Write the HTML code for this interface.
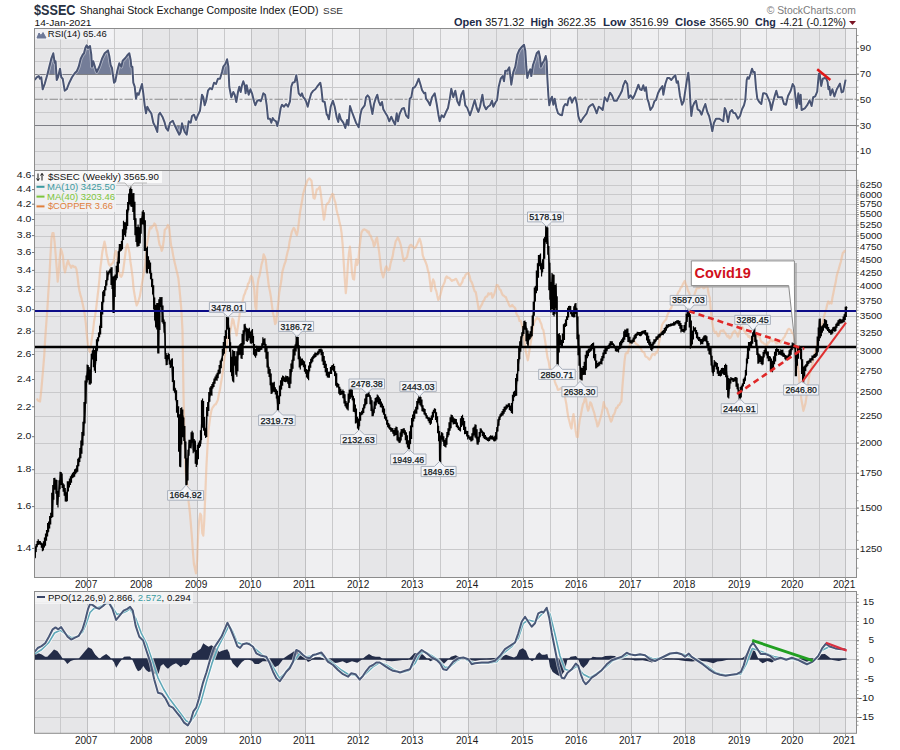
<!DOCTYPE html><html><head><meta charset="utf-8"><style>html,body{margin:0;padding:0;background:#fff;width:900px;height:750px;overflow:hidden;position:relative}</style></head><body><svg width="900" height="750" viewBox="0 0 900 750" style="position:absolute;left:0;top:0">
<defs><clipPath id="cRsi"><rect x="34.5" y="28.5" width="822.0" height="142.0"/></clipPath>
<clipPath id="cPr"><rect x="34.5" y="170.5" width="822.0" height="407.0"/></clipPath>
<clipPath id="cPp"><rect x="34.5" y="591.5" width="822.0" height="141.8"/></clipPath>
<clipPath id="cAbove70"><rect x="0" y="0" width="900" height="74.2"/></clipPath>
<clipPath id="cBelow30"><rect x="0" y="125.8" width="900" height="200"/></clipPath>
</defs>
<rect x="34.5" y="28.5" width="53.0" height="142.0" fill="#e6e6e8"/>
<rect x="87.5" y="28.5" width="55.0" height="142.0" fill="#efeff1"/>
<rect x="142.5" y="28.5" width="55.0" height="142.0" fill="#e6e6e8"/>
<rect x="197.5" y="28.5" width="54.0" height="142.0" fill="#efeff1"/>
<rect x="251.5" y="28.5" width="54.0" height="142.0" fill="#e6e6e8"/>
<rect x="305.5" y="28.5" width="54.0" height="142.0" fill="#efeff1"/>
<rect x="359.5" y="28.5" width="54.0" height="142.0" fill="#e6e6e8"/>
<rect x="413.5" y="28.5" width="55.0" height="142.0" fill="#efeff1"/>
<rect x="468.5" y="28.5" width="55.0" height="142.0" fill="#e6e6e8"/>
<rect x="523.5" y="28.5" width="54.0" height="142.0" fill="#efeff1"/>
<rect x="577.5" y="28.5" width="54.0" height="142.0" fill="#e6e6e8"/>
<rect x="631.5" y="28.5" width="54.0" height="142.0" fill="#efeff1"/>
<rect x="685.5" y="28.5" width="55.0" height="142.0" fill="#e6e6e8"/>
<rect x="740.5" y="28.5" width="53.0" height="142.0" fill="#efeff1"/>
<rect x="793.5" y="28.5" width="52.0" height="142.0" fill="#e6e6e8"/>
<rect x="845.5" y="28.5" width="11.0" height="142.0" fill="#efeff1"/>
<g>
<line x1="34.5" y1="48.5" x2="856.5" y2="48.5" stroke="#c9c9cb" stroke-width="1"/>
<line x1="34.5" y1="61.5" x2="856.5" y2="61.5" stroke="#c9c9cb" stroke-width="1"/>
<line x1="34.5" y1="87.5" x2="856.5" y2="87.5" stroke="#c9c9cb" stroke-width="1"/>
<line x1="34.5" y1="112.5" x2="856.5" y2="112.5" stroke="#c9c9cb" stroke-width="1"/>
<line x1="34.5" y1="138.5" x2="856.5" y2="138.5" stroke="#c9c9cb" stroke-width="1"/>
<line x1="34.5" y1="151.5" x2="856.5" y2="151.5" stroke="#c9c9cb" stroke-width="1"/>
<line x1="34.5" y1="164.5" x2="856.5" y2="164.5" stroke="#c9c9cb" stroke-width="1"/>
</g>
<line x1="87.5" y1="28.5" x2="87.5" y2="170.5" stroke="#c0c0c2" stroke-width="1"/>
<line x1="142.5" y1="28.5" x2="142.5" y2="170.5" stroke="#c0c0c2" stroke-width="1"/>
<line x1="197.5" y1="28.5" x2="197.5" y2="170.5" stroke="#c0c0c2" stroke-width="1"/>
<line x1="251.5" y1="28.5" x2="251.5" y2="170.5" stroke="#c0c0c2" stroke-width="1"/>
<line x1="305.5" y1="28.5" x2="305.5" y2="170.5" stroke="#c0c0c2" stroke-width="1"/>
<line x1="359.5" y1="28.5" x2="359.5" y2="170.5" stroke="#c0c0c2" stroke-width="1"/>
<line x1="413.5" y1="28.5" x2="413.5" y2="170.5" stroke="#c0c0c2" stroke-width="1"/>
<line x1="468.5" y1="28.5" x2="468.5" y2="170.5" stroke="#c0c0c2" stroke-width="1"/>
<line x1="523.5" y1="28.5" x2="523.5" y2="170.5" stroke="#c0c0c2" stroke-width="1"/>
<line x1="577.5" y1="28.5" x2="577.5" y2="170.5" stroke="#c0c0c2" stroke-width="1"/>
<line x1="631.5" y1="28.5" x2="631.5" y2="170.5" stroke="#c0c0c2" stroke-width="1"/>
<line x1="685.5" y1="28.5" x2="685.5" y2="170.5" stroke="#c0c0c2" stroke-width="1"/>
<line x1="740.5" y1="28.5" x2="740.5" y2="170.5" stroke="#c0c0c2" stroke-width="1"/>
<line x1="793.5" y1="28.5" x2="793.5" y2="170.5" stroke="#c0c0c2" stroke-width="1"/>
<line x1="845.5" y1="28.5" x2="845.5" y2="170.5" stroke="#c0c0c2" stroke-width="1"/>
<line x1="60.5" y1="28.5" x2="60.5" y2="170.5" stroke="#c9c9cb" stroke-width="1"/>
<line x1="114.5" y1="28.5" x2="114.5" y2="170.5" stroke="#c9c9cb" stroke-width="1"/>
<line x1="169.5" y1="28.5" x2="169.5" y2="170.5" stroke="#c9c9cb" stroke-width="1"/>
<line x1="224.5" y1="28.5" x2="224.5" y2="170.5" stroke="#c9c9cb" stroke-width="1"/>
<line x1="278.5" y1="28.5" x2="278.5" y2="170.5" stroke="#c9c9cb" stroke-width="1"/>
<line x1="332.5" y1="28.5" x2="332.5" y2="170.5" stroke="#c9c9cb" stroke-width="1"/>
<line x1="386.5" y1="28.5" x2="386.5" y2="170.5" stroke="#c9c9cb" stroke-width="1"/>
<line x1="440.5" y1="28.5" x2="440.5" y2="170.5" stroke="#c9c9cb" stroke-width="1"/>
<line x1="496.5" y1="28.5" x2="496.5" y2="170.5" stroke="#c9c9cb" stroke-width="1"/>
<line x1="550.5" y1="28.5" x2="550.5" y2="170.5" stroke="#c9c9cb" stroke-width="1"/>
<line x1="604.5" y1="28.5" x2="604.5" y2="170.5" stroke="#c9c9cb" stroke-width="1"/>
<line x1="658.5" y1="28.5" x2="658.5" y2="170.5" stroke="#c9c9cb" stroke-width="1"/>
<line x1="712.5" y1="28.5" x2="712.5" y2="170.5" stroke="#c9c9cb" stroke-width="1"/>
<line x1="766.5" y1="28.5" x2="766.5" y2="170.5" stroke="#c9c9cb" stroke-width="1"/>
<line x1="819.5" y1="28.5" x2="819.5" y2="170.5" stroke="#c9c9cb" stroke-width="1"/>
<line x1="34.5" y1="74.5" x2="856.5" y2="74.5" stroke="#808082" stroke-width="1.1"/>
<line x1="34.5" y1="125.5" x2="856.5" y2="125.5" stroke="#808082" stroke-width="1.1"/>
<line x1="34.5" y1="99.2" x2="856.5" y2="99.2" stroke="#8a8a8a" stroke-width="1.1" stroke-dasharray="8.5,1.5,3,2"/>
<g clip-path="url(#cRsi)">
<polygon clip-path="url(#cAbove70)" points="34.7,74.2 34.7,80.0 36.7,77.3 38.7,76.0 40.0,78.7 41.3,77.3 42.7,89.3 44.7,84.0 47.3,74.7 49.3,66.7 51.3,58.7 53.3,53.3 54.7,62.7 55.6,61.3 56.7,80.0 58.0,77.3 60.0,68.7 61.3,77.3 62.7,78.7 64.7,90.7 66.7,89.3 69.3,82.7 72.0,77.3 74.7,73.3 76.7,71.3 78.7,66.7 80.7,58.7 82.7,54.7 84.0,53.3 85.3,48.0 86.7,45.3 88.0,48.0 90.0,46.0 91.3,54.7 92.0,66.7 93.3,61.3 95.3,68.0 96.7,72.0 99.3,66.7 102.0,58.7 104.7,53.3 108.0,50.4 109.3,56.0 110.7,65.3 112.0,68.0 114.0,82.7 115.3,81.3 117.3,70.7 119.3,63.3 121.3,66.7 122.7,60.7 125.3,58.0 127.3,55.3 129.3,53.3 130.7,60.0 131.3,66.7 132.4,66.7 133.3,82.7 134.7,86.7 136.0,98.7 137.3,93.3 138.7,94.7 140.7,88.0 142.0,84.0 143.3,93.3 144.7,105.3 146.0,113.3 147.3,106.7 149.3,110.7 151.3,113.3 153.3,122.7 155.3,126.7 157.3,132.0 158.7,114.7 160.0,112.7 162.7,117.3 164.7,122.7 166.0,128.0 168.0,130.7 170.0,122.7 172.7,120.7 174.7,125.3 177.3,130.7 179.3,134.7 180.7,132.0 182.0,123.3 183.3,128.0 184.7,132.0 186.7,134.7 188.7,121.3 190.7,122.7 192.0,116.0 194.0,114.7 196.0,120.0 198.0,114.7 200.0,110.7 202.0,94.7 203.3,97.3 204.7,105.3 206.0,101.3 208.0,90.7 210.0,88.0 212.0,89.3 214.0,82.7 216.0,84.0 218.0,78.7 220.0,78.7 222.0,72.0 223.3,66.7 225.3,64.0 227.1,59.3 228.4,66.7 229.3,86.7 231.3,97.3 233.3,92.0 234.7,94.7 236.3,102.0 238.0,92.0 239.3,86.7 240.7,92.0 242.0,85.3 243.3,81.3 244.7,85.3 245.6,93.3 246.7,85.3 248.7,94.7 250.4,89.3 252.0,93.3 254.0,101.3 255.3,105.3 257.3,100.7 259.3,100.0 260.7,101.3 262.0,98.0 263.3,93.3 265.1,94.7 266.7,105.3 268.0,118.7 270.0,118.7 271.3,122.7 272.7,118.0 274.0,120.0 276.0,121.3 277.3,126.0 278.7,120.0 280.7,108.0 282.0,104.7 284.0,106.7 286.0,104.0 288.0,106.7 290.0,101.3 291.3,86.7 292.7,82.7 294.7,82.0 296.3,75.3 297.3,81.3 298.7,93.3 300.7,96.0 302.0,93.3 303.3,97.3 304.7,98.7 306.0,101.3 307.7,106.7 309.3,100.0 311.3,93.3 313.3,90.7 315.3,89.3 317.1,86.7 318.7,84.7 320.3,82.7 321.3,88.0 322.7,101.3 324.7,102.0 326.7,114.7 327.3,114.7 328.9,119.3 330.7,106.7 332.9,100.7 334.7,106.7 336.7,117.3 338.3,122.0 339.3,114.0 340.9,119.3 343.3,122.7 345.3,128.0 347.1,120.0 348.4,125.3 350.0,106.0 352.0,112.0 354.0,117.3 356.0,122.7 358.7,127.3 360.4,114.7 361.7,109.3 364.7,105.3 366.0,97.3 367.6,95.3 369.3,97.3 370.7,105.3 372.4,114.0 374.0,104.0 375.6,98.7 377.3,94.7 378.7,101.3 380.4,105.3 382.0,102.0 383.3,109.3 385.3,112.7 387.3,116.0 389.3,121.3 391.3,116.7 393.3,121.3 395.1,124.7 396.7,113.3 398.0,121.3 399.6,114.0 402.0,108.7 404.0,108.0 406.0,115.3 408.4,118.0 409.7,98.7 411.3,97.3 412.9,88.0 414.7,87.3 416.0,85.3 418.7,78.7 420.7,85.3 422.0,90.0 424.0,93.3 425.3,92.7 426.0,98.7 428.0,101.3 430.0,105.3 432.0,97.3 434.7,93.3 436.7,104.0 438.4,114.7 439.7,121.3 441.6,115.3 443.7,117.3 446.0,112.0 448.0,108.0 450.0,97.3 451.3,88.7 453.3,97.3 455.3,90.7 457.3,101.3 459.3,105.3 461.3,94.7 463.3,90.7 465.3,105.3 467.3,108.0 470.0,115.3 472.0,109.3 474.7,100.0 476.7,108.0 478.4,112.0 480.0,106.7 482.4,94.7 484.0,105.3 486.0,109.3 488.0,106.7 490.0,105.3 492.0,100.7 493.3,106.7 495.3,102.7 497.1,100.0 498.7,86.7 500.7,78.7 502.7,76.0 504.0,81.3 505.3,70.7 507.3,70.7 509.3,67.3 511.3,84.7 513.3,72.0 515.3,66.7 517.3,54.7 519.3,50.0 522.0,46.7 524.0,44.7 525.3,50.7 526.3,66.7 527.3,78.0 528.7,72.7 530.3,69.3 531.3,76.0 532.9,65.3 534.7,60.0 536.7,53.3 538.7,51.3 540.0,57.3 540.9,66.7 542.7,62.7 544.0,60.7 545.7,56.0 546.7,61.3 547.3,77.3 548.4,96.0 549.3,105.3 550.7,99.3 552.0,96.7 553.3,104.7 554.7,98.7 556.4,108.0 558.0,113.3 560.0,114.7 562.0,115.3 563.6,106.7 565.3,104.0 567.3,105.3 568.7,98.7 570.3,97.3 572.0,102.7 573.7,98.7 575.3,97.3 576.9,104.0 578.3,116.0 579.6,120.0 580.7,122.0 582.7,118.7 584.7,116.0 586.7,113.3 588.7,107.3 590.7,105.3 592.7,104.0 594.7,108.0 596.7,113.3 598.7,106.7 600.7,108.0 602.7,110.0 604.7,97.3 607.3,101.3 610.0,92.7 612.0,95.3 614.0,100.7 616.7,100.7 619.3,96.0 620.0,94.7 622.0,90.7 623.3,85.3 625.3,80.7 627.3,84.0 628.7,98.0 630.7,95.3 632.7,98.7 634.7,94.7 636.7,89.3 638.4,84.7 640.0,89.3 641.6,90.0 643.3,85.3 644.7,90.7 646.0,87.3 647.3,98.7 648.7,102.7 650.4,110.0 652.7,106.7 654.4,101.3 656.0,100.0 658.0,93.3 660.0,89.3 662.4,86.0 663.3,94.7 665.3,84.0 667.3,78.0 669.3,78.0 671.3,80.0 673.3,77.3 675.3,75.3 676.7,82.7 678.0,81.3 680.0,96.0 682.0,104.7 683.7,101.3 685.3,90.7 686.9,80.0 688.3,72.7 689.3,82.7 690.3,101.3 691.3,116.0 692.7,106.7 694.4,102.7 696.0,100.7 697.6,109.3 699.7,110.7 701.6,114.7 703.7,108.0 705.3,104.0 707.3,112.0 709.1,116.0 710.7,122.7 712.3,131.3 714.0,122.7 716.0,118.7 718.0,118.7 719.3,118.7 721.3,120.0 723.3,121.3 724.7,108.0 726.0,110.7 728.0,122.0 730.0,112.0 732.0,110.0 733.3,112.7 735.3,113.3 738.0,118.7 740.0,116.0 742.0,109.3 744.0,105.3 745.3,100.0 746.7,80.0 747.6,77.3 748.9,78.7 750.7,73.3 752.0,68.7 753.3,72.0 754.7,72.0 756.0,88.0 757.3,98.7 759.3,102.0 761.3,104.0 763.1,93.3 764.7,93.3 766.3,94.0 768.4,98.7 770.0,102.7 771.3,110.0 772.9,102.7 774.7,96.0 776.3,90.7 778.0,97.3 780.0,97.3 782.0,97.3 784.0,104.0 786.0,104.7 788.0,96.0 790.7,90.7 792.7,84.0 794.3,86.7 795.3,96.0 796.7,108.0 798.3,93.3 799.6,104.0 800.7,94.7 801.6,110.0 804.8,108.4 807.2,105.2 809.6,100.4 811.6,106.0 813.2,97.2 815.2,96.4 817.2,91.6 818.8,74.0 819.6,73.2 821.2,86.0 822.8,78.8 824.8,78.0 826.4,78.8 827.6,82.0 828.4,89.2 829.4,86.8 830.4,95.2 832.4,89.2 834.4,96.4 836.8,89.2 840.0,83.6 841.6,92.4 843.2,91.6 845.6,79.6 845.6,74.2" fill="#747d98"/>
<polygon clip-path="url(#cBelow30)" points="34.7,125.8 34.7,80.0 36.7,77.3 38.7,76.0 40.0,78.7 41.3,77.3 42.7,89.3 44.7,84.0 47.3,74.7 49.3,66.7 51.3,58.7 53.3,53.3 54.7,62.7 55.6,61.3 56.7,80.0 58.0,77.3 60.0,68.7 61.3,77.3 62.7,78.7 64.7,90.7 66.7,89.3 69.3,82.7 72.0,77.3 74.7,73.3 76.7,71.3 78.7,66.7 80.7,58.7 82.7,54.7 84.0,53.3 85.3,48.0 86.7,45.3 88.0,48.0 90.0,46.0 91.3,54.7 92.0,66.7 93.3,61.3 95.3,68.0 96.7,72.0 99.3,66.7 102.0,58.7 104.7,53.3 108.0,50.4 109.3,56.0 110.7,65.3 112.0,68.0 114.0,82.7 115.3,81.3 117.3,70.7 119.3,63.3 121.3,66.7 122.7,60.7 125.3,58.0 127.3,55.3 129.3,53.3 130.7,60.0 131.3,66.7 132.4,66.7 133.3,82.7 134.7,86.7 136.0,98.7 137.3,93.3 138.7,94.7 140.7,88.0 142.0,84.0 143.3,93.3 144.7,105.3 146.0,113.3 147.3,106.7 149.3,110.7 151.3,113.3 153.3,122.7 155.3,126.7 157.3,132.0 158.7,114.7 160.0,112.7 162.7,117.3 164.7,122.7 166.0,128.0 168.0,130.7 170.0,122.7 172.7,120.7 174.7,125.3 177.3,130.7 179.3,134.7 180.7,132.0 182.0,123.3 183.3,128.0 184.7,132.0 186.7,134.7 188.7,121.3 190.7,122.7 192.0,116.0 194.0,114.7 196.0,120.0 198.0,114.7 200.0,110.7 202.0,94.7 203.3,97.3 204.7,105.3 206.0,101.3 208.0,90.7 210.0,88.0 212.0,89.3 214.0,82.7 216.0,84.0 218.0,78.7 220.0,78.7 222.0,72.0 223.3,66.7 225.3,64.0 227.1,59.3 228.4,66.7 229.3,86.7 231.3,97.3 233.3,92.0 234.7,94.7 236.3,102.0 238.0,92.0 239.3,86.7 240.7,92.0 242.0,85.3 243.3,81.3 244.7,85.3 245.6,93.3 246.7,85.3 248.7,94.7 250.4,89.3 252.0,93.3 254.0,101.3 255.3,105.3 257.3,100.7 259.3,100.0 260.7,101.3 262.0,98.0 263.3,93.3 265.1,94.7 266.7,105.3 268.0,118.7 270.0,118.7 271.3,122.7 272.7,118.0 274.0,120.0 276.0,121.3 277.3,126.0 278.7,120.0 280.7,108.0 282.0,104.7 284.0,106.7 286.0,104.0 288.0,106.7 290.0,101.3 291.3,86.7 292.7,82.7 294.7,82.0 296.3,75.3 297.3,81.3 298.7,93.3 300.7,96.0 302.0,93.3 303.3,97.3 304.7,98.7 306.0,101.3 307.7,106.7 309.3,100.0 311.3,93.3 313.3,90.7 315.3,89.3 317.1,86.7 318.7,84.7 320.3,82.7 321.3,88.0 322.7,101.3 324.7,102.0 326.7,114.7 327.3,114.7 328.9,119.3 330.7,106.7 332.9,100.7 334.7,106.7 336.7,117.3 338.3,122.0 339.3,114.0 340.9,119.3 343.3,122.7 345.3,128.0 347.1,120.0 348.4,125.3 350.0,106.0 352.0,112.0 354.0,117.3 356.0,122.7 358.7,127.3 360.4,114.7 361.7,109.3 364.7,105.3 366.0,97.3 367.6,95.3 369.3,97.3 370.7,105.3 372.4,114.0 374.0,104.0 375.6,98.7 377.3,94.7 378.7,101.3 380.4,105.3 382.0,102.0 383.3,109.3 385.3,112.7 387.3,116.0 389.3,121.3 391.3,116.7 393.3,121.3 395.1,124.7 396.7,113.3 398.0,121.3 399.6,114.0 402.0,108.7 404.0,108.0 406.0,115.3 408.4,118.0 409.7,98.7 411.3,97.3 412.9,88.0 414.7,87.3 416.0,85.3 418.7,78.7 420.7,85.3 422.0,90.0 424.0,93.3 425.3,92.7 426.0,98.7 428.0,101.3 430.0,105.3 432.0,97.3 434.7,93.3 436.7,104.0 438.4,114.7 439.7,121.3 441.6,115.3 443.7,117.3 446.0,112.0 448.0,108.0 450.0,97.3 451.3,88.7 453.3,97.3 455.3,90.7 457.3,101.3 459.3,105.3 461.3,94.7 463.3,90.7 465.3,105.3 467.3,108.0 470.0,115.3 472.0,109.3 474.7,100.0 476.7,108.0 478.4,112.0 480.0,106.7 482.4,94.7 484.0,105.3 486.0,109.3 488.0,106.7 490.0,105.3 492.0,100.7 493.3,106.7 495.3,102.7 497.1,100.0 498.7,86.7 500.7,78.7 502.7,76.0 504.0,81.3 505.3,70.7 507.3,70.7 509.3,67.3 511.3,84.7 513.3,72.0 515.3,66.7 517.3,54.7 519.3,50.0 522.0,46.7 524.0,44.7 525.3,50.7 526.3,66.7 527.3,78.0 528.7,72.7 530.3,69.3 531.3,76.0 532.9,65.3 534.7,60.0 536.7,53.3 538.7,51.3 540.0,57.3 540.9,66.7 542.7,62.7 544.0,60.7 545.7,56.0 546.7,61.3 547.3,77.3 548.4,96.0 549.3,105.3 550.7,99.3 552.0,96.7 553.3,104.7 554.7,98.7 556.4,108.0 558.0,113.3 560.0,114.7 562.0,115.3 563.6,106.7 565.3,104.0 567.3,105.3 568.7,98.7 570.3,97.3 572.0,102.7 573.7,98.7 575.3,97.3 576.9,104.0 578.3,116.0 579.6,120.0 580.7,122.0 582.7,118.7 584.7,116.0 586.7,113.3 588.7,107.3 590.7,105.3 592.7,104.0 594.7,108.0 596.7,113.3 598.7,106.7 600.7,108.0 602.7,110.0 604.7,97.3 607.3,101.3 610.0,92.7 612.0,95.3 614.0,100.7 616.7,100.7 619.3,96.0 620.0,94.7 622.0,90.7 623.3,85.3 625.3,80.7 627.3,84.0 628.7,98.0 630.7,95.3 632.7,98.7 634.7,94.7 636.7,89.3 638.4,84.7 640.0,89.3 641.6,90.0 643.3,85.3 644.7,90.7 646.0,87.3 647.3,98.7 648.7,102.7 650.4,110.0 652.7,106.7 654.4,101.3 656.0,100.0 658.0,93.3 660.0,89.3 662.4,86.0 663.3,94.7 665.3,84.0 667.3,78.0 669.3,78.0 671.3,80.0 673.3,77.3 675.3,75.3 676.7,82.7 678.0,81.3 680.0,96.0 682.0,104.7 683.7,101.3 685.3,90.7 686.9,80.0 688.3,72.7 689.3,82.7 690.3,101.3 691.3,116.0 692.7,106.7 694.4,102.7 696.0,100.7 697.6,109.3 699.7,110.7 701.6,114.7 703.7,108.0 705.3,104.0 707.3,112.0 709.1,116.0 710.7,122.7 712.3,131.3 714.0,122.7 716.0,118.7 718.0,118.7 719.3,118.7 721.3,120.0 723.3,121.3 724.7,108.0 726.0,110.7 728.0,122.0 730.0,112.0 732.0,110.0 733.3,112.7 735.3,113.3 738.0,118.7 740.0,116.0 742.0,109.3 744.0,105.3 745.3,100.0 746.7,80.0 747.6,77.3 748.9,78.7 750.7,73.3 752.0,68.7 753.3,72.0 754.7,72.0 756.0,88.0 757.3,98.7 759.3,102.0 761.3,104.0 763.1,93.3 764.7,93.3 766.3,94.0 768.4,98.7 770.0,102.7 771.3,110.0 772.9,102.7 774.7,96.0 776.3,90.7 778.0,97.3 780.0,97.3 782.0,97.3 784.0,104.0 786.0,104.7 788.0,96.0 790.7,90.7 792.7,84.0 794.3,86.7 795.3,96.0 796.7,108.0 798.3,93.3 799.6,104.0 800.7,94.7 801.6,110.0 804.8,108.4 807.2,105.2 809.6,100.4 811.6,106.0 813.2,97.2 815.2,96.4 817.2,91.6 818.8,74.0 819.6,73.2 821.2,86.0 822.8,78.8 824.8,78.0 826.4,78.8 827.6,82.0 828.4,89.2 829.4,86.8 830.4,95.2 832.4,89.2 834.4,96.4 836.8,89.2 840.0,83.6 841.6,92.4 843.2,91.6 845.6,79.6 845.6,125.8" fill="#747d98"/>
<polyline points="34.7,80.0 36.7,77.3 38.7,76.0 40.0,78.7 41.3,77.3 42.7,89.3 44.7,84.0 47.3,74.7 49.3,66.7 51.3,58.7 53.3,53.3 54.7,62.7 55.6,61.3 56.7,80.0 58.0,77.3 60.0,68.7 61.3,77.3 62.7,78.7 64.7,90.7 66.7,89.3 69.3,82.7 72.0,77.3 74.7,73.3 76.7,71.3 78.7,66.7 80.7,58.7 82.7,54.7 84.0,53.3 85.3,48.0 86.7,45.3 88.0,48.0 90.0,46.0 91.3,54.7 92.0,66.7 93.3,61.3 95.3,68.0 96.7,72.0 99.3,66.7 102.0,58.7 104.7,53.3 108.0,50.4 109.3,56.0 110.7,65.3 112.0,68.0 114.0,82.7 115.3,81.3 117.3,70.7 119.3,63.3 121.3,66.7 122.7,60.7 125.3,58.0 127.3,55.3 129.3,53.3 130.7,60.0 131.3,66.7 132.4,66.7 133.3,82.7 134.7,86.7 136.0,98.7 137.3,93.3 138.7,94.7 140.7,88.0 142.0,84.0 143.3,93.3 144.7,105.3 146.0,113.3 147.3,106.7 149.3,110.7 151.3,113.3 153.3,122.7 155.3,126.7 157.3,132.0 158.7,114.7 160.0,112.7 162.7,117.3 164.7,122.7 166.0,128.0 168.0,130.7 170.0,122.7 172.7,120.7 174.7,125.3 177.3,130.7 179.3,134.7 180.7,132.0 182.0,123.3 183.3,128.0 184.7,132.0 186.7,134.7 188.7,121.3 190.7,122.7 192.0,116.0 194.0,114.7 196.0,120.0 198.0,114.7 200.0,110.7 202.0,94.7 203.3,97.3 204.7,105.3 206.0,101.3 208.0,90.7 210.0,88.0 212.0,89.3 214.0,82.7 216.0,84.0 218.0,78.7 220.0,78.7 222.0,72.0 223.3,66.7 225.3,64.0 227.1,59.3 228.4,66.7 229.3,86.7 231.3,97.3 233.3,92.0 234.7,94.7 236.3,102.0 238.0,92.0 239.3,86.7 240.7,92.0 242.0,85.3 243.3,81.3 244.7,85.3 245.6,93.3 246.7,85.3 248.7,94.7 250.4,89.3 252.0,93.3 254.0,101.3 255.3,105.3 257.3,100.7 259.3,100.0 260.7,101.3 262.0,98.0 263.3,93.3 265.1,94.7 266.7,105.3 268.0,118.7 270.0,118.7 271.3,122.7 272.7,118.0 274.0,120.0 276.0,121.3 277.3,126.0 278.7,120.0 280.7,108.0 282.0,104.7 284.0,106.7 286.0,104.0 288.0,106.7 290.0,101.3 291.3,86.7 292.7,82.7 294.7,82.0 296.3,75.3 297.3,81.3 298.7,93.3 300.7,96.0 302.0,93.3 303.3,97.3 304.7,98.7 306.0,101.3 307.7,106.7 309.3,100.0 311.3,93.3 313.3,90.7 315.3,89.3 317.1,86.7 318.7,84.7 320.3,82.7 321.3,88.0 322.7,101.3 324.7,102.0 326.7,114.7 327.3,114.7 328.9,119.3 330.7,106.7 332.9,100.7 334.7,106.7 336.7,117.3 338.3,122.0 339.3,114.0 340.9,119.3 343.3,122.7 345.3,128.0 347.1,120.0 348.4,125.3 350.0,106.0 352.0,112.0 354.0,117.3 356.0,122.7 358.7,127.3 360.4,114.7 361.7,109.3 364.7,105.3 366.0,97.3 367.6,95.3 369.3,97.3 370.7,105.3 372.4,114.0 374.0,104.0 375.6,98.7 377.3,94.7 378.7,101.3 380.4,105.3 382.0,102.0 383.3,109.3 385.3,112.7 387.3,116.0 389.3,121.3 391.3,116.7 393.3,121.3 395.1,124.7 396.7,113.3 398.0,121.3 399.6,114.0 402.0,108.7 404.0,108.0 406.0,115.3 408.4,118.0 409.7,98.7 411.3,97.3 412.9,88.0 414.7,87.3 416.0,85.3 418.7,78.7 420.7,85.3 422.0,90.0 424.0,93.3 425.3,92.7 426.0,98.7 428.0,101.3 430.0,105.3 432.0,97.3 434.7,93.3 436.7,104.0 438.4,114.7 439.7,121.3 441.6,115.3 443.7,117.3 446.0,112.0 448.0,108.0 450.0,97.3 451.3,88.7 453.3,97.3 455.3,90.7 457.3,101.3 459.3,105.3 461.3,94.7 463.3,90.7 465.3,105.3 467.3,108.0 470.0,115.3 472.0,109.3 474.7,100.0 476.7,108.0 478.4,112.0 480.0,106.7 482.4,94.7 484.0,105.3 486.0,109.3 488.0,106.7 490.0,105.3 492.0,100.7 493.3,106.7 495.3,102.7 497.1,100.0 498.7,86.7 500.7,78.7 502.7,76.0 504.0,81.3 505.3,70.7 507.3,70.7 509.3,67.3 511.3,84.7 513.3,72.0 515.3,66.7 517.3,54.7 519.3,50.0 522.0,46.7 524.0,44.7 525.3,50.7 526.3,66.7 527.3,78.0 528.7,72.7 530.3,69.3 531.3,76.0 532.9,65.3 534.7,60.0 536.7,53.3 538.7,51.3 540.0,57.3 540.9,66.7 542.7,62.7 544.0,60.7 545.7,56.0 546.7,61.3 547.3,77.3 548.4,96.0 549.3,105.3 550.7,99.3 552.0,96.7 553.3,104.7 554.7,98.7 556.4,108.0 558.0,113.3 560.0,114.7 562.0,115.3 563.6,106.7 565.3,104.0 567.3,105.3 568.7,98.7 570.3,97.3 572.0,102.7 573.7,98.7 575.3,97.3 576.9,104.0 578.3,116.0 579.6,120.0 580.7,122.0 582.7,118.7 584.7,116.0 586.7,113.3 588.7,107.3 590.7,105.3 592.7,104.0 594.7,108.0 596.7,113.3 598.7,106.7 600.7,108.0 602.7,110.0 604.7,97.3 607.3,101.3 610.0,92.7 612.0,95.3 614.0,100.7 616.7,100.7 619.3,96.0 620.0,94.7 622.0,90.7 623.3,85.3 625.3,80.7 627.3,84.0 628.7,98.0 630.7,95.3 632.7,98.7 634.7,94.7 636.7,89.3 638.4,84.7 640.0,89.3 641.6,90.0 643.3,85.3 644.7,90.7 646.0,87.3 647.3,98.7 648.7,102.7 650.4,110.0 652.7,106.7 654.4,101.3 656.0,100.0 658.0,93.3 660.0,89.3 662.4,86.0 663.3,94.7 665.3,84.0 667.3,78.0 669.3,78.0 671.3,80.0 673.3,77.3 675.3,75.3 676.7,82.7 678.0,81.3 680.0,96.0 682.0,104.7 683.7,101.3 685.3,90.7 686.9,80.0 688.3,72.7 689.3,82.7 690.3,101.3 691.3,116.0 692.7,106.7 694.4,102.7 696.0,100.7 697.6,109.3 699.7,110.7 701.6,114.7 703.7,108.0 705.3,104.0 707.3,112.0 709.1,116.0 710.7,122.7 712.3,131.3 714.0,122.7 716.0,118.7 718.0,118.7 719.3,118.7 721.3,120.0 723.3,121.3 724.7,108.0 726.0,110.7 728.0,122.0 730.0,112.0 732.0,110.0 733.3,112.7 735.3,113.3 738.0,118.7 740.0,116.0 742.0,109.3 744.0,105.3 745.3,100.0 746.7,80.0 747.6,77.3 748.9,78.7 750.7,73.3 752.0,68.7 753.3,72.0 754.7,72.0 756.0,88.0 757.3,98.7 759.3,102.0 761.3,104.0 763.1,93.3 764.7,93.3 766.3,94.0 768.4,98.7 770.0,102.7 771.3,110.0 772.9,102.7 774.7,96.0 776.3,90.7 778.0,97.3 780.0,97.3 782.0,97.3 784.0,104.0 786.0,104.7 788.0,96.0 790.7,90.7 792.7,84.0 794.3,86.7 795.3,96.0 796.7,108.0 798.3,93.3 799.6,104.0 800.7,94.7 801.6,110.0 804.8,108.4 807.2,105.2 809.6,100.4 811.6,106.0 813.2,97.2 815.2,96.4 817.2,91.6 818.8,74.0 819.6,73.2 821.2,86.0 822.8,78.8 824.8,78.0 826.4,78.8 827.6,82.0 828.4,89.2 829.4,86.8 830.4,95.2 832.4,89.2 834.4,96.4 836.8,89.2 840.0,83.6 841.6,92.4 843.2,91.6 845.6,79.6" fill="none" stroke="#ffffff" stroke-opacity="0.45" stroke-width="3.6" stroke-linejoin="round"/>
<polyline points="34.7,80.0 36.7,77.3 38.7,76.0 40.0,78.7 41.3,77.3 42.7,89.3 44.7,84.0 47.3,74.7 49.3,66.7 51.3,58.7 53.3,53.3 54.7,62.7 55.6,61.3 56.7,80.0 58.0,77.3 60.0,68.7 61.3,77.3 62.7,78.7 64.7,90.7 66.7,89.3 69.3,82.7 72.0,77.3 74.7,73.3 76.7,71.3 78.7,66.7 80.7,58.7 82.7,54.7 84.0,53.3 85.3,48.0 86.7,45.3 88.0,48.0 90.0,46.0 91.3,54.7 92.0,66.7 93.3,61.3 95.3,68.0 96.7,72.0 99.3,66.7 102.0,58.7 104.7,53.3 108.0,50.4 109.3,56.0 110.7,65.3 112.0,68.0 114.0,82.7 115.3,81.3 117.3,70.7 119.3,63.3 121.3,66.7 122.7,60.7 125.3,58.0 127.3,55.3 129.3,53.3 130.7,60.0 131.3,66.7 132.4,66.7 133.3,82.7 134.7,86.7 136.0,98.7 137.3,93.3 138.7,94.7 140.7,88.0 142.0,84.0 143.3,93.3 144.7,105.3 146.0,113.3 147.3,106.7 149.3,110.7 151.3,113.3 153.3,122.7 155.3,126.7 157.3,132.0 158.7,114.7 160.0,112.7 162.7,117.3 164.7,122.7 166.0,128.0 168.0,130.7 170.0,122.7 172.7,120.7 174.7,125.3 177.3,130.7 179.3,134.7 180.7,132.0 182.0,123.3 183.3,128.0 184.7,132.0 186.7,134.7 188.7,121.3 190.7,122.7 192.0,116.0 194.0,114.7 196.0,120.0 198.0,114.7 200.0,110.7 202.0,94.7 203.3,97.3 204.7,105.3 206.0,101.3 208.0,90.7 210.0,88.0 212.0,89.3 214.0,82.7 216.0,84.0 218.0,78.7 220.0,78.7 222.0,72.0 223.3,66.7 225.3,64.0 227.1,59.3 228.4,66.7 229.3,86.7 231.3,97.3 233.3,92.0 234.7,94.7 236.3,102.0 238.0,92.0 239.3,86.7 240.7,92.0 242.0,85.3 243.3,81.3 244.7,85.3 245.6,93.3 246.7,85.3 248.7,94.7 250.4,89.3 252.0,93.3 254.0,101.3 255.3,105.3 257.3,100.7 259.3,100.0 260.7,101.3 262.0,98.0 263.3,93.3 265.1,94.7 266.7,105.3 268.0,118.7 270.0,118.7 271.3,122.7 272.7,118.0 274.0,120.0 276.0,121.3 277.3,126.0 278.7,120.0 280.7,108.0 282.0,104.7 284.0,106.7 286.0,104.0 288.0,106.7 290.0,101.3 291.3,86.7 292.7,82.7 294.7,82.0 296.3,75.3 297.3,81.3 298.7,93.3 300.7,96.0 302.0,93.3 303.3,97.3 304.7,98.7 306.0,101.3 307.7,106.7 309.3,100.0 311.3,93.3 313.3,90.7 315.3,89.3 317.1,86.7 318.7,84.7 320.3,82.7 321.3,88.0 322.7,101.3 324.7,102.0 326.7,114.7 327.3,114.7 328.9,119.3 330.7,106.7 332.9,100.7 334.7,106.7 336.7,117.3 338.3,122.0 339.3,114.0 340.9,119.3 343.3,122.7 345.3,128.0 347.1,120.0 348.4,125.3 350.0,106.0 352.0,112.0 354.0,117.3 356.0,122.7 358.7,127.3 360.4,114.7 361.7,109.3 364.7,105.3 366.0,97.3 367.6,95.3 369.3,97.3 370.7,105.3 372.4,114.0 374.0,104.0 375.6,98.7 377.3,94.7 378.7,101.3 380.4,105.3 382.0,102.0 383.3,109.3 385.3,112.7 387.3,116.0 389.3,121.3 391.3,116.7 393.3,121.3 395.1,124.7 396.7,113.3 398.0,121.3 399.6,114.0 402.0,108.7 404.0,108.0 406.0,115.3 408.4,118.0 409.7,98.7 411.3,97.3 412.9,88.0 414.7,87.3 416.0,85.3 418.7,78.7 420.7,85.3 422.0,90.0 424.0,93.3 425.3,92.7 426.0,98.7 428.0,101.3 430.0,105.3 432.0,97.3 434.7,93.3 436.7,104.0 438.4,114.7 439.7,121.3 441.6,115.3 443.7,117.3 446.0,112.0 448.0,108.0 450.0,97.3 451.3,88.7 453.3,97.3 455.3,90.7 457.3,101.3 459.3,105.3 461.3,94.7 463.3,90.7 465.3,105.3 467.3,108.0 470.0,115.3 472.0,109.3 474.7,100.0 476.7,108.0 478.4,112.0 480.0,106.7 482.4,94.7 484.0,105.3 486.0,109.3 488.0,106.7 490.0,105.3 492.0,100.7 493.3,106.7 495.3,102.7 497.1,100.0 498.7,86.7 500.7,78.7 502.7,76.0 504.0,81.3 505.3,70.7 507.3,70.7 509.3,67.3 511.3,84.7 513.3,72.0 515.3,66.7 517.3,54.7 519.3,50.0 522.0,46.7 524.0,44.7 525.3,50.7 526.3,66.7 527.3,78.0 528.7,72.7 530.3,69.3 531.3,76.0 532.9,65.3 534.7,60.0 536.7,53.3 538.7,51.3 540.0,57.3 540.9,66.7 542.7,62.7 544.0,60.7 545.7,56.0 546.7,61.3 547.3,77.3 548.4,96.0 549.3,105.3 550.7,99.3 552.0,96.7 553.3,104.7 554.7,98.7 556.4,108.0 558.0,113.3 560.0,114.7 562.0,115.3 563.6,106.7 565.3,104.0 567.3,105.3 568.7,98.7 570.3,97.3 572.0,102.7 573.7,98.7 575.3,97.3 576.9,104.0 578.3,116.0 579.6,120.0 580.7,122.0 582.7,118.7 584.7,116.0 586.7,113.3 588.7,107.3 590.7,105.3 592.7,104.0 594.7,108.0 596.7,113.3 598.7,106.7 600.7,108.0 602.7,110.0 604.7,97.3 607.3,101.3 610.0,92.7 612.0,95.3 614.0,100.7 616.7,100.7 619.3,96.0 620.0,94.7 622.0,90.7 623.3,85.3 625.3,80.7 627.3,84.0 628.7,98.0 630.7,95.3 632.7,98.7 634.7,94.7 636.7,89.3 638.4,84.7 640.0,89.3 641.6,90.0 643.3,85.3 644.7,90.7 646.0,87.3 647.3,98.7 648.7,102.7 650.4,110.0 652.7,106.7 654.4,101.3 656.0,100.0 658.0,93.3 660.0,89.3 662.4,86.0 663.3,94.7 665.3,84.0 667.3,78.0 669.3,78.0 671.3,80.0 673.3,77.3 675.3,75.3 676.7,82.7 678.0,81.3 680.0,96.0 682.0,104.7 683.7,101.3 685.3,90.7 686.9,80.0 688.3,72.7 689.3,82.7 690.3,101.3 691.3,116.0 692.7,106.7 694.4,102.7 696.0,100.7 697.6,109.3 699.7,110.7 701.6,114.7 703.7,108.0 705.3,104.0 707.3,112.0 709.1,116.0 710.7,122.7 712.3,131.3 714.0,122.7 716.0,118.7 718.0,118.7 719.3,118.7 721.3,120.0 723.3,121.3 724.7,108.0 726.0,110.7 728.0,122.0 730.0,112.0 732.0,110.0 733.3,112.7 735.3,113.3 738.0,118.7 740.0,116.0 742.0,109.3 744.0,105.3 745.3,100.0 746.7,80.0 747.6,77.3 748.9,78.7 750.7,73.3 752.0,68.7 753.3,72.0 754.7,72.0 756.0,88.0 757.3,98.7 759.3,102.0 761.3,104.0 763.1,93.3 764.7,93.3 766.3,94.0 768.4,98.7 770.0,102.7 771.3,110.0 772.9,102.7 774.7,96.0 776.3,90.7 778.0,97.3 780.0,97.3 782.0,97.3 784.0,104.0 786.0,104.7 788.0,96.0 790.7,90.7 792.7,84.0 794.3,86.7 795.3,96.0 796.7,108.0 798.3,93.3 799.6,104.0 800.7,94.7 801.6,110.0 804.8,108.4 807.2,105.2 809.6,100.4 811.6,106.0 813.2,97.2 815.2,96.4 817.2,91.6 818.8,74.0 819.6,73.2 821.2,86.0 822.8,78.8 824.8,78.0 826.4,78.8 827.6,82.0 828.4,89.2 829.4,86.8 830.4,95.2 832.4,89.2 834.4,96.4 836.8,89.2 840.0,83.6 841.6,92.4 843.2,91.6 845.6,79.6" fill="none" stroke="#4a5574" stroke-width="2" stroke-linejoin="round"/>
<line x1="817.2" y1="69.2" x2="830.4" y2="80" stroke="#e01818" stroke-width="2.5"/>
</g>
<rect x="34.5" y="28.5" width="822.0" height="142.0" fill="none" stroke="#8c8c8c" stroke-width="1"/>
<rect x="34.5" y="170.5" width="53.0" height="407.0" fill="#e6e6e8"/>
<rect x="87.5" y="170.5" width="55.0" height="407.0" fill="#efeff1"/>
<rect x="142.5" y="170.5" width="55.0" height="407.0" fill="#e6e6e8"/>
<rect x="197.5" y="170.5" width="54.0" height="407.0" fill="#efeff1"/>
<rect x="251.5" y="170.5" width="54.0" height="407.0" fill="#e6e6e8"/>
<rect x="305.5" y="170.5" width="54.0" height="407.0" fill="#efeff1"/>
<rect x="359.5" y="170.5" width="54.0" height="407.0" fill="#e6e6e8"/>
<rect x="413.5" y="170.5" width="55.0" height="407.0" fill="#efeff1"/>
<rect x="468.5" y="170.5" width="55.0" height="407.0" fill="#e6e6e8"/>
<rect x="523.5" y="170.5" width="54.0" height="407.0" fill="#efeff1"/>
<rect x="577.5" y="170.5" width="54.0" height="407.0" fill="#e6e6e8"/>
<rect x="631.5" y="170.5" width="54.0" height="407.0" fill="#efeff1"/>
<rect x="685.5" y="170.5" width="55.0" height="407.0" fill="#e6e6e8"/>
<rect x="740.5" y="170.5" width="53.0" height="407.0" fill="#efeff1"/>
<rect x="793.5" y="170.5" width="52.0" height="407.0" fill="#e6e6e8"/>
<rect x="845.5" y="170.5" width="11.0" height="407.0" fill="#efeff1"/>
<line x1="34.5" y1="185.5" x2="856.5" y2="185.5" stroke="#c9c9cb" stroke-width="1"/>
<line x1="34.5" y1="194.5" x2="856.5" y2="194.5" stroke="#c9c9cb" stroke-width="1"/>
<line x1="34.5" y1="204.5" x2="856.5" y2="204.5" stroke="#c9c9cb" stroke-width="1"/>
<line x1="34.5" y1="214.5" x2="856.5" y2="214.5" stroke="#c9c9cb" stroke-width="1"/>
<line x1="34.5" y1="225.5" x2="856.5" y2="225.5" stroke="#c9c9cb" stroke-width="1"/>
<line x1="34.5" y1="236.5" x2="856.5" y2="236.5" stroke="#c9c9cb" stroke-width="1"/>
<line x1="34.5" y1="247.5" x2="856.5" y2="247.5" stroke="#c9c9cb" stroke-width="1"/>
<line x1="34.5" y1="259.5" x2="856.5" y2="259.5" stroke="#c9c9cb" stroke-width="1"/>
<line x1="34.5" y1="272.5" x2="856.5" y2="272.5" stroke="#c9c9cb" stroke-width="1"/>
<line x1="34.5" y1="286.5" x2="856.5" y2="286.5" stroke="#c9c9cb" stroke-width="1"/>
<line x1="34.5" y1="301.5" x2="856.5" y2="301.5" stroke="#c9c9cb" stroke-width="1"/>
<line x1="34.5" y1="316.5" x2="856.5" y2="316.5" stroke="#c9c9cb" stroke-width="1"/>
<line x1="34.5" y1="333.5" x2="856.5" y2="333.5" stroke="#c9c9cb" stroke-width="1"/>
<line x1="34.5" y1="351.5" x2="856.5" y2="351.5" stroke="#c9c9cb" stroke-width="1"/>
<line x1="34.5" y1="371.5" x2="856.5" y2="371.5" stroke="#c9c9cb" stroke-width="1"/>
<line x1="34.5" y1="392.5" x2="856.5" y2="392.5" stroke="#c9c9cb" stroke-width="1"/>
<line x1="34.5" y1="416.5" x2="856.5" y2="416.5" stroke="#c9c9cb" stroke-width="1"/>
<line x1="34.5" y1="443.5" x2="856.5" y2="443.5" stroke="#c9c9cb" stroke-width="1"/>
<line x1="34.5" y1="473.5" x2="856.5" y2="473.5" stroke="#c9c9cb" stroke-width="1"/>
<line x1="34.5" y1="508.5" x2="856.5" y2="508.5" stroke="#c9c9cb" stroke-width="1"/>
<line x1="34.5" y1="549.5" x2="856.5" y2="549.5" stroke="#c9c9cb" stroke-width="1"/>
<line x1="87.5" y1="170.5" x2="87.5" y2="577.5" stroke="#c0c0c2" stroke-width="1"/>
<line x1="142.5" y1="170.5" x2="142.5" y2="577.5" stroke="#c0c0c2" stroke-width="1"/>
<line x1="197.5" y1="170.5" x2="197.5" y2="577.5" stroke="#c0c0c2" stroke-width="1"/>
<line x1="251.5" y1="170.5" x2="251.5" y2="577.5" stroke="#c0c0c2" stroke-width="1"/>
<line x1="305.5" y1="170.5" x2="305.5" y2="577.5" stroke="#c0c0c2" stroke-width="1"/>
<line x1="359.5" y1="170.5" x2="359.5" y2="577.5" stroke="#c0c0c2" stroke-width="1"/>
<line x1="413.5" y1="170.5" x2="413.5" y2="577.5" stroke="#c0c0c2" stroke-width="1"/>
<line x1="468.5" y1="170.5" x2="468.5" y2="577.5" stroke="#c0c0c2" stroke-width="1"/>
<line x1="523.5" y1="170.5" x2="523.5" y2="577.5" stroke="#c0c0c2" stroke-width="1"/>
<line x1="577.5" y1="170.5" x2="577.5" y2="577.5" stroke="#c0c0c2" stroke-width="1"/>
<line x1="631.5" y1="170.5" x2="631.5" y2="577.5" stroke="#c0c0c2" stroke-width="1"/>
<line x1="685.5" y1="170.5" x2="685.5" y2="577.5" stroke="#c0c0c2" stroke-width="1"/>
<line x1="740.5" y1="170.5" x2="740.5" y2="577.5" stroke="#c0c0c2" stroke-width="1"/>
<line x1="793.5" y1="170.5" x2="793.5" y2="577.5" stroke="#c0c0c2" stroke-width="1"/>
<line x1="845.5" y1="170.5" x2="845.5" y2="577.5" stroke="#c0c0c2" stroke-width="1"/>
<line x1="60.5" y1="170.5" x2="60.5" y2="577.5" stroke="#c9c9cb" stroke-width="1"/>
<line x1="114.5" y1="170.5" x2="114.5" y2="577.5" stroke="#c9c9cb" stroke-width="1"/>
<line x1="169.5" y1="170.5" x2="169.5" y2="577.5" stroke="#c9c9cb" stroke-width="1"/>
<line x1="224.5" y1="170.5" x2="224.5" y2="577.5" stroke="#c9c9cb" stroke-width="1"/>
<line x1="278.5" y1="170.5" x2="278.5" y2="577.5" stroke="#c9c9cb" stroke-width="1"/>
<line x1="332.5" y1="170.5" x2="332.5" y2="577.5" stroke="#c9c9cb" stroke-width="1"/>
<line x1="386.5" y1="170.5" x2="386.5" y2="577.5" stroke="#c9c9cb" stroke-width="1"/>
<line x1="440.5" y1="170.5" x2="440.5" y2="577.5" stroke="#c9c9cb" stroke-width="1"/>
<line x1="496.5" y1="170.5" x2="496.5" y2="577.5" stroke="#c9c9cb" stroke-width="1"/>
<line x1="550.5" y1="170.5" x2="550.5" y2="577.5" stroke="#c9c9cb" stroke-width="1"/>
<line x1="604.5" y1="170.5" x2="604.5" y2="577.5" stroke="#c9c9cb" stroke-width="1"/>
<line x1="658.5" y1="170.5" x2="658.5" y2="577.5" stroke="#c9c9cb" stroke-width="1"/>
<line x1="712.5" y1="170.5" x2="712.5" y2="577.5" stroke="#c9c9cb" stroke-width="1"/>
<line x1="766.5" y1="170.5" x2="766.5" y2="577.5" stroke="#c9c9cb" stroke-width="1"/>
<line x1="819.5" y1="170.5" x2="819.5" y2="577.5" stroke="#c9c9cb" stroke-width="1"/>
<g clip-path="url(#cPr)">
<polyline points="36.9,398.6 37.9,400.5 39.0,401.0 40.0,401.5 41.1,392.2 42.1,381.0 43.1,369.4 44.2,356.1 45.2,338.6 46.3,323.0 47.3,310.0 48.3,293.2 49.4,276.6 50.4,256.6 51.5,238.2 52.5,233.0 53.5,233.2 54.6,242.0 55.6,254.0 56.7,268.1 57.7,281.6 58.7,272.0 59.8,257.6 60.8,248.9 61.9,251.9 62.9,256.0 63.9,267.2 65.0,272.3 66.0,267.8 67.1,263.1 68.1,260.5 69.1,264.1 70.2,265.6 71.2,267.8 72.3,265.7 73.3,266.1 74.3,267.1 75.4,266.9 76.4,269.1 77.5,276.1 78.5,285.5 79.5,291.0 80.6,295.7 81.6,298.9 82.7,303.9 83.7,308.8 84.7,314.0 85.8,322.9 86.8,334.6 87.9,344.4 88.9,349.0 89.9,352.1 91.0,344.8 92.0,338.1 93.1,330.0 94.1,321.0 95.1,315.7 96.2,308.1 97.2,299.5 98.3,290.1 99.3,280.6 100.3,268.6 101.4,260.0 102.4,251.4 103.5,246.4 104.5,241.7 105.5,246.2 106.6,254.6 107.6,258.4 108.7,263.7 109.7,265.6 110.7,265.3 111.8,263.7 112.8,263.1 113.9,260.1 114.9,253.4 115.9,250.9 117.0,255.6 118.0,266.0 119.1,272.9 120.1,275.5 121.1,276.8 122.2,275.1 123.2,270.3 124.3,262.0 125.3,254.0 126.3,246.7 127.4,244.2 128.4,248.1 129.5,253.0 130.5,261.9 131.5,268.9 132.6,277.3 133.6,288.8 134.7,295.4 135.7,301.5 136.7,305.4 137.8,303.1 138.8,299.8 139.9,296.1 140.9,290.3 141.9,283.9 143.0,277.6 144.0,271.5 145.1,265.6 146.1,253.9 147.1,243.3 148.2,237.4 149.2,231.0 150.3,227.0 151.3,228.3 152.3,226.3 153.4,225.7 154.4,223.4 155.5,224.7 156.5,229.1 157.5,232.1 158.6,239.5 159.6,245.1 160.7,246.3 161.7,250.8 162.7,248.1 163.8,239.7 164.8,229.8 165.9,228.8 166.9,227.5 167.9,225.0 169.0,226.2 170.0,235.8 171.1,245.5 172.1,249.0 173.1,255.1 174.2,260.6 175.2,264.7 176.3,269.5 177.3,273.5 178.3,277.9 179.4,287.8 180.4,299.0 181.5,311.9 182.5,330.9 183.5,394.4 184.6,438.6 185.6,471.7 186.7,480.6 187.7,490.5 188.7,502.4 189.8,511.8 190.8,523.4 191.9,536.8 192.9,551.8 193.9,564.0 195.0,568.9 196.0,573.3 197.1,560.3 198.1,535.2 199.1,520.9 200.2,513.5 201.2,515.5 202.3,533.2 203.3,535.7 204.3,520.1 205.4,491.1 206.4,466.6 207.5,446.5 208.5,430.1 209.5,422.7 210.6,414.7 211.6,409.9 212.7,407.4 213.7,406.2 214.7,404.5 215.8,404.3 216.8,402.2 217.9,399.9 218.9,394.0 219.9,389.9 221.0,382.8 222.0,377.4 223.1,369.1 224.1,360.7 225.1,353.6 226.2,348.3 227.2,341.2 228.3,336.6 229.3,335.4 230.3,330.3 231.4,325.5 232.4,318.7 233.5,320.1 234.5,326.1 235.5,330.1 236.6,335.5 237.6,328.6 238.7,320.9 239.7,313.6 240.7,308.7 241.8,304.7 242.8,300.2 243.9,295.6 244.9,293.6 245.9,290.0 247.0,288.8 248.0,283.7 249.1,282.8 250.1,278.7 251.1,275.9 252.2,277.2 253.2,282.4 254.3,289.9 255.3,306.6 256.3,310.1 257.4,286.4 258.4,278.8 259.5,275.7 260.5,270.5 261.5,264.6 262.6,260.7 263.6,254.3 264.7,256.6 265.7,259.5 266.7,268.8 267.8,277.1 268.8,286.1 269.9,291.0 270.9,296.9 271.9,305.2 273.0,313.3 274.0,317.0 275.1,324.1 276.1,322.7 277.1,313.0 278.2,303.8 279.2,293.1 280.3,286.6 281.3,280.8 282.3,272.1 283.4,268.0 284.4,264.5 285.5,261.7 286.5,256.8 287.5,252.3 288.6,248.5 289.6,241.4 290.7,236.8 291.7,232.2 292.7,229.8 293.8,227.9 294.8,229.5 295.9,233.3 296.9,235.1 297.9,230.2 299.0,221.1 300.0,212.5 301.1,206.2 302.1,200.6 303.1,194.1 304.2,190.3 305.2,186.7 306.3,184.0 307.3,180.7 308.3,179.3 309.4,178.4 310.4,179.5 311.5,180.7 312.5,189.0 313.5,197.9 314.6,198.7 315.6,194.9 316.7,189.4 317.7,189.4 318.7,188.1 319.8,186.7 320.8,193.8 321.9,202.5 322.9,211.7 323.9,219.7 325.0,213.9 326.0,205.9 327.1,203.6 328.1,203.0 329.1,201.9 330.2,198.2 331.2,196.5 332.3,193.8 333.3,194.5 334.3,199.6 335.4,202.7 336.4,209.2 337.5,213.7 338.5,217.0 339.5,222.4 340.6,226.2 341.6,233.2 342.7,245.0 343.7,262.4 344.7,278.0 345.8,293.2 346.8,282.8 347.9,264.6 348.9,253.6 349.9,246.7 351.0,258.2 352.0,273.0 353.1,279.1 354.1,279.5 355.1,268.2 356.2,259.3 357.2,264.8 358.3,261.9 359.3,249.0 360.3,241.0 361.4,232.6 362.4,230.8 363.5,229.5 364.5,229.3 365.5,230.1 366.6,230.3 367.6,232.4 368.7,231.5 369.7,235.1 370.7,235.7 371.8,239.2 372.8,240.9 373.9,246.3 374.9,244.9 375.9,239.5 377.0,237.5 378.0,244.3 379.1,251.6 380.1,260.2 381.1,269.6 382.2,274.0 383.2,277.5 384.3,273.7 385.3,268.5 386.3,266.3 387.4,268.4 388.4,270.4 389.5,269.6 390.5,263.7 391.5,260.1 392.6,256.7 393.6,250.2 394.7,246.3 395.7,241.1 396.7,239.9 397.8,237.4 398.8,239.3 399.9,242.3 400.9,245.6 401.9,251.4 403.0,257.8 404.0,260.9 405.1,258.7 406.1,258.5 407.1,256.7 408.2,251.3 409.2,246.9 410.3,245.0 411.3,244.8 412.3,246.4 413.4,247.1 414.4,248.3 415.5,247.4 416.5,245.5 417.5,243.4 418.6,240.8 419.6,238.6 420.7,241.9 421.7,246.6 422.7,255.2 423.8,258.3 424.8,260.2 425.9,262.8 426.9,265.6 427.9,270.4 429.0,273.6 430.0,282.2 431.1,291.2 432.1,283.8 433.1,279.4 434.2,281.7 435.2,288.4 436.3,291.1 437.3,295.9 438.3,300.0 439.4,298.1 440.4,294.6 441.5,290.4 442.5,286.7 443.5,284.6 444.6,282.2 445.6,278.0 446.7,276.3 447.7,277.8 448.7,277.7 449.8,278.4 450.8,279.8 451.9,280.9 452.9,280.1 453.9,280.2 455.0,279.2 456.0,278.9 457.1,280.8 458.1,283.1 459.1,284.9 460.2,285.5 461.2,283.8 462.3,281.9 463.3,277.9 464.3,278.1 465.4,275.1 466.4,274.0 467.5,273.5 468.5,273.0 469.5,275.8 470.6,280.8 471.6,282.0 472.7,284.9 473.7,288.4 474.7,291.4 475.8,292.2 476.8,298.0 477.9,304.6 478.9,311.0 479.9,307.9 481.0,305.9 482.0,304.3 483.1,301.2 484.1,300.3 485.1,297.6 486.2,296.7 487.2,296.5 488.3,293.4 489.3,294.4 490.3,293.5 491.4,293.2 492.4,297.8 493.5,295.7 494.5,293.4 495.5,289.9 496.6,285.1 497.6,285.0 498.7,287.0 499.7,289.5 500.7,290.0 501.8,293.3 502.8,295.3 503.9,295.8 504.9,296.8 505.9,297.1 507.0,300.3 508.0,302.0 509.1,305.2 510.1,306.5 511.1,306.2 512.2,305.0 513.2,306.4 514.3,307.1 515.3,308.5 516.3,313.4 517.4,315.5 518.4,316.5 519.5,321.0 520.5,320.7 521.5,323.4 522.6,327.7 523.6,335.7 524.7,343.8 525.7,350.9 526.7,355.6 527.8,360.3 528.8,355.0 529.9,347.1 530.9,341.8 531.9,334.8 533.0,327.1 534.0,323.0 535.1,320.4 536.1,318.8 537.1,317.7 538.2,319.1 539.2,318.7 540.3,322.1 541.3,324.0 542.3,328.5 543.4,330.1 544.4,336.2 545.5,343.3 546.5,350.7 547.5,357.6 548.6,361.2 549.6,367.5 550.7,370.2 551.7,373.1 552.7,374.6 553.8,376.7 554.8,381.3 555.9,384.6 556.9,386.5 557.9,390.0 559.0,389.5 560.0,389.1 561.1,388.0 562.1,388.7 563.1,391.7 564.2,393.8 565.2,398.1 566.3,403.7 567.3,411.0 568.3,417.3 569.4,421.3 570.4,425.6 571.5,428.5 572.5,419.0 573.5,414.0 574.6,421.7 575.6,430.2 576.7,436.8 577.7,437.2 578.7,427.9 579.8,419.4 580.8,415.2 581.9,409.2 582.9,404.3 583.9,402.5 585.0,397.9 586.0,399.1 587.1,406.8 588.1,410.7 589.1,407.8 590.2,402.3 591.2,403.4 592.3,407.0 593.3,410.2 594.3,413.1 595.4,418.3 596.4,421.0 597.5,426.5 598.5,424.8 599.5,421.1 600.6,417.4 601.6,413.7 602.7,408.7 603.7,402.2 604.7,406.3 605.8,408.0 606.8,408.4 607.9,412.4 608.9,415.5 609.9,418.5 611.0,421.7 612.0,420.1 613.1,415.5 614.1,414.3 615.1,411.6 616.2,407.8 617.2,407.9 618.3,405.3 619.3,404.9 620.3,402.9 621.4,401.6 622.4,387.0 623.5,373.4 624.5,361.3 625.5,353.9 626.6,352.6 627.6,353.2 628.7,349.3 629.7,345.0 630.7,343.1 631.8,341.8 632.8,340.8 633.9,340.1 634.9,342.2 635.9,343.8 637.0,344.4 638.0,345.1 639.1,347.1 640.1,347.4 641.1,349.3 642.2,351.5 643.2,351.9 644.3,352.6 645.3,356.1 646.3,357.0 647.4,357.3 648.4,358.7 649.5,359.6 650.5,358.4 651.5,355.9 652.6,353.9 653.6,353.9 654.7,355.1 655.7,352.6 656.7,353.1 657.8,350.2 658.8,344.1 659.9,337.8 660.9,332.3 661.9,325.4 663.0,323.1 664.0,321.8 665.1,320.4 666.1,319.7 667.1,315.8 668.2,313.1 669.2,311.8 670.3,309.2 671.3,308.0 672.3,304.0 673.4,302.9 674.4,300.8 675.5,297.7 676.5,298.4 677.5,294.1 678.6,291.6 679.6,290.7 680.7,287.7 681.7,287.0 682.7,284.6 683.8,282.5 684.8,280.9 685.9,285.0 686.9,286.4 687.9,290.7 689.0,292.3 690.0,296.3 691.1,297.1 692.1,299.0 693.1,296.4 694.2,295.5 695.2,292.3 696.3,289.3 697.3,287.5 698.3,288.2 699.4,288.0 700.4,286.7 701.5,286.0 702.5,287.1 703.5,288.3 704.6,287.9 705.6,285.4 706.7,283.3 707.7,288.2 708.7,294.5 709.8,297.9 710.8,310.4 711.9,320.4 712.9,326.5 713.9,331.0 715.0,332.8 716.0,331.6 717.1,334.0 718.1,336.2 719.1,335.6 720.2,331.5 721.2,330.6 722.3,331.3 723.3,330.1 724.3,332.0 725.4,332.9 726.4,335.0 727.5,336.7 728.5,335.5 729.5,338.3 730.6,337.5 731.6,335.8 732.7,332.8 733.7,331.9 734.7,330.7 735.8,332.4 736.8,333.4 737.9,336.6 738.9,333.7 739.9,330.5 741.0,327.6 742.0,326.7 743.1,328.4 744.1,330.8 745.1,331.9 746.2,334.1 747.2,334.2 748.3,336.9 749.3,335.9 750.3,338.1 751.4,339.5 752.4,339.7 753.5,338.5 754.5,338.5 755.5,338.7 756.6,336.6 757.6,335.7 758.7,336.4 759.7,337.2 760.7,340.7 761.8,342.3 762.8,342.4 763.9,343.7 764.9,343.9 765.9,345.4 767.0,346.0 768.0,342.4 769.1,342.7 770.1,340.3 771.1,339.2 772.2,341.3 773.2,340.6 774.3,340.6 775.3,341.4 776.3,343.4 777.4,343.2 778.4,340.9 779.5,341.1 780.5,342.8 781.5,340.0 782.6,340.2 783.6,337.7 784.7,336.7 785.7,334.1 786.7,332.6 787.8,329.7 788.8,328.8 789.9,329.5 790.9,329.9 791.9,332.8 793.0,333.2 794.0,336.0 795.1,342.3 796.1,349.4 797.1,360.9 798.2,368.3 799.2,379.8 800.3,389.5 801.3,398.9 802.3,404.5 803.4,410.8 804.4,407.2 805.5,403.4 806.5,396.4 807.5,388.9 808.6,380.1 809.6,373.2 810.7,371.2 811.7,366.3 812.7,362.8 813.8,356.8 814.8,353.6 815.9,349.3 816.9,345.9 817.9,339.8 819.0,336.4 820.0,332.7 821.1,327.3 822.1,324.6 823.1,320.9 824.2,315.8 825.2,312.4 826.3,308.5 827.3,304.2 828.3,301.5 829.4,303.5 830.4,302.5 831.5,303.5 832.5,297.3 833.5,292.5 834.6,286.7 835.6,282.8 836.7,275.9 837.7,272.2 838.7,269.4 839.8,265.2 840.8,262.0 841.9,256.7 842.9,252.8 843.9,252.3 845.0,250.0" fill="none" stroke="#f0b488" stroke-opacity="0.52" stroke-width="2.2" stroke-linejoin="round"/>
<path d="M35.10,546.47V558.25M34.00,557.67H35.10M35.10,549.75H36.20M36.14,544.08V551.93M35.04,549.16H36.14M36.14,544.77H37.24M37.18,541.09V547.33M36.08,545.84H37.18M37.18,544.28H38.28M38.22,539.22V545.04M37.12,544.11H38.22M38.22,541.51H39.32M39.26,540.93V544.58M38.16,541.29H39.26M39.26,543.11H40.36M40.30,541.06V544.85M39.20,542.06H40.30M40.30,543.36H41.40M41.34,542.39V547.79M40.24,543.86H41.34M41.34,544.56H42.44M42.38,543.34V551.25M41.28,545.01H42.38M42.38,550.02H43.48M43.42,541.36V550.44M42.32,549.11H43.42M43.42,545.56H44.52M44.46,537.46V547.62M43.36,545.57H44.46M44.46,540.03H45.56M45.50,533.52V545.73M44.40,540.05H45.50M45.50,536.40H46.60M46.54,529.92V540.79M45.44,535.61H46.54M46.54,534.27H47.64M47.58,522.90V536.59M46.48,533.64H47.58M47.58,531.25H48.68M48.62,521.48V531.72M47.52,530.03H48.62M48.62,525.30H49.72M49.66,516.12V528.44M48.56,523.92H49.66M49.66,518.51H50.76M50.70,512.78V524.51M49.60,518.17H50.70M50.70,516.56H51.80M51.74,492.81V518.06M50.64,516.08H51.74M51.74,511.74H52.84M52.78,484.99V516.93M51.68,511.29H52.78M52.78,490.54H53.88M53.82,477.98V499.75M52.72,490.73H53.82M53.82,482.33H54.92M54.86,477.79V489.81M53.76,482.85H54.86M54.86,481.60H55.96M55.90,479.71V493.87M54.80,480.13H55.90M55.90,484.00H57.00M56.94,480.08V504.95M55.84,483.86H56.94M56.94,503.06H58.04M57.98,490.96V507.42M56.88,503.98H57.98M57.98,493.62H59.08M59.02,480.22V497.07M57.92,495.02H59.02M59.02,485.59H60.12M60.06,471.84V489.21M58.96,484.29H60.06M60.06,474.23H61.16M61.10,472.03V484.90M60.00,474.75H61.10M61.10,478.07H62.20M62.14,473.38V488.02M61.04,479.50H62.14M62.14,485.36H63.24M63.18,483.33V491.77M62.08,485.03H63.18M63.18,488.60H64.28M64.22,484.43V495.80M63.12,488.74H64.22M64.22,492.11H65.32M65.26,488.00V501.44M64.16,491.21H65.26M65.26,496.47H66.36M66.30,492.28V501.87M65.20,498.32H66.30M66.30,495.01H67.40M67.34,481.37V501.21M66.24,494.56H67.34M67.34,486.71H68.44M68.38,481.16V491.39M67.28,487.94H68.38M68.38,483.75H69.48M69.42,478.41V487.59M68.32,484.61H69.42M69.42,481.57H70.52M70.46,476.24V484.98M69.36,480.67H70.46M70.46,478.83H71.56M71.50,474.59V482.76M70.40,478.67H71.50M71.50,475.62H72.60M72.54,472.64V478.34M71.44,475.57H72.54M72.54,475.56H73.64M73.58,471.67V477.49M72.48,474.16H73.58M73.58,472.55H74.68M74.62,469.36V476.81M73.52,473.39H74.62M74.62,472.66H75.72M75.66,468.50V474.19M74.56,471.40H75.66M75.66,470.01H76.76M76.70,465.34V472.82M75.60,469.55H76.70M76.70,467.45H77.80M77.74,458.74V471.71M76.64,467.53H77.74M77.74,463.52H78.84M78.78,457.58V466.28M77.68,462.47H78.78M78.78,459.99H79.88M79.82,448.00V462.09M78.72,459.04H79.82M79.82,453.23H80.92M80.86,440.47V458.34M79.76,452.69H80.86M80.86,446.31H81.96M81.90,432.11V453.71M80.80,447.58H81.90M81.90,438.04H83.00M82.94,421.83V445.43M81.84,438.06H82.94M82.94,428.88H84.04M83.98,402.04V435.72M82.88,429.70H83.98M83.98,416.51H85.08M85.02,380.42V423.40M83.92,416.23H85.02M85.02,400.19H86.12M86.06,375.50V403.74M84.96,400.88H86.06M86.06,379.94H87.16M87.10,364.57V382.49M86.00,379.91H87.10M87.10,371.89H88.20M88.14,365.01V380.14M87.04,371.93H88.14M88.14,370.82H89.24M89.18,366.90V384.52M88.08,369.54H89.18M89.18,379.76H90.28M90.22,369.43V384.82M89.12,379.16H90.22M90.22,371.21H91.32M91.26,353.83V383.38M90.16,372.13H91.26M91.26,357.31H92.36M92.30,350.47V359.51M91.20,355.91H92.30M92.30,351.27H93.40M93.34,347.04V367.28M92.24,351.31H93.34M93.34,357.43H94.44M94.38,350.01V370.67M93.28,356.96H94.38M94.38,368.67H95.48M95.42,347.11V372.90M94.32,367.99H95.42M95.42,359.80H96.52M96.46,339.29V361.07M95.36,359.19H96.46M96.46,347.87H97.56M97.50,337.20V350.80M96.40,346.23H97.50M97.50,339.08H98.60M98.54,332.40V341.29M97.44,340.27H98.54M98.54,334.21H99.64M99.58,325.63V337.30M98.48,334.13H99.58M99.58,327.85H100.68M100.62,309.92V334.58M99.52,329.69H100.62M100.62,315.80H101.72M101.66,301.85V328.03M100.56,316.37H101.66M101.66,306.53H102.76M102.70,291.38V314.40M101.60,306.93H102.70M102.70,299.24H103.80M103.74,290.07V302.35M102.64,298.10H103.74M103.74,292.57H104.84M104.78,285.91V296.09M103.68,292.83H104.78M104.78,287.59H105.88M105.82,280.12V290.22M104.72,286.57H105.82M105.82,282.31H106.92M106.86,270.47V285.43M105.76,281.91H106.86M106.86,278.51H107.96M107.90,272.22V280.21M106.80,277.53H107.90M107.90,273.14H109.00M108.94,270.60V274.53M107.84,272.31H108.94M108.94,271.50H110.04M109.98,268.86V272.93M108.88,271.88H109.98M109.98,270.33H111.08M111.02,267.35V284.93M109.92,270.05H111.02M111.02,276.67H112.12M112.06,267.33V289.08M110.96,276.10H112.06M112.06,286.37H113.16M113.10,276.46V312.94M112.00,284.98H113.10M113.10,304.40H114.20M114.14,275.77V312.98M113.04,304.52H114.14M114.14,286.79H115.24M115.18,274.44V297.09M114.08,285.27H115.18M115.18,277.38H116.28M116.22,265.82V280.29M115.12,277.91H116.22M116.22,274.53H117.32M117.26,261.84V278.32M116.16,274.18H117.26M117.26,264.61H118.36M118.30,251.19V272.24M117.20,263.69H118.30M118.30,253.77H119.40M119.34,243.98V263.43M118.24,254.23H119.34M119.34,246.67H120.44M120.38,243.90V251.38M119.28,247.19H120.38M120.38,247.41H121.48M121.42,241.05V250.71M120.32,248.40H121.42M121.42,245.37H122.52M122.46,229.14V249.35M121.36,246.70H122.46M122.46,233.13H123.56M123.50,220.80V239.88M122.40,234.33H123.50M123.50,224.38H124.60M124.54,222.15V235.18M123.44,225.62H124.54M124.54,229.39H125.64M125.58,222.22V236.64M124.48,227.88H125.58M125.58,227.06H126.68M126.62,209.41V229.52M125.52,227.54H126.62M126.62,215.08H127.72M127.66,202.05V225.90M126.56,215.04H127.66M127.66,208.06H128.76M128.70,193.52V210.26M127.60,208.29H128.70M128.70,198.96H129.80M129.74,188.79V204.47M128.64,199.95H129.74M129.74,188.91H130.84M130.78,186.36V206.58M129.68,189.41H130.78M130.78,200.51H131.88M131.82,189.10V207.08M130.72,200.28H131.82M131.82,199.18H132.92M132.86,193.34V211.93M131.76,199.58H132.86M132.86,198.79H133.96M133.90,193.08V219.94M132.80,200.03H133.90M133.90,214.59H135.00M134.94,201.84V235.18M133.84,214.41H134.94M134.94,226.39H136.04M135.98,218.14V242.12M134.88,226.86H135.98M135.98,234.58H137.08M137.02,226.99V246.83M135.92,235.08H137.02M137.02,242.88H138.12M138.06,224.41V246.62M136.96,242.52H138.06M138.06,229.69H139.16M139.10,227.28V245.92M138.00,229.89H139.10M139.10,241.23H140.20M140.14,218.33V243.62M139.04,241.17H140.14M140.14,227.11H141.24M141.18,217.90V233.63M140.08,228.07H141.18M141.18,220.18H142.28M142.22,211.56V224.56M141.12,219.16H142.22M142.22,214.20H143.32M143.26,209.90V224.59M142.16,214.53H143.26M143.26,221.60H144.36M144.30,212.23V251.06M143.20,221.14H144.30M144.30,243.90H145.40M145.34,220.30V250.85M144.24,243.07H145.34M145.34,250.42H146.44M146.38,247.74V272.50M145.28,249.78H146.38M146.38,272.85H147.48M147.42,246.58V273.25M146.32,271.22H147.42M147.42,261.39H148.52M148.46,256.28V269.04M147.36,262.37H148.46M148.46,262.47H149.56M149.50,260.15V273.51M148.40,261.41H149.50M149.50,267.22H150.60M150.54,262.49V279.28M149.44,266.65H150.54M150.54,276.14H151.64M151.58,272.94V287.00M150.48,275.52H151.58M151.58,283.85H152.68M152.62,278.83V294.60M151.52,285.32H152.62M152.62,293.10H153.72M153.66,285.31V309.41M152.56,293.73H153.66M153.66,302.18H154.76M154.70,297.56V320.61M153.60,301.61H154.70M154.70,317.61H155.80M155.74,304.82V327.40M154.64,317.77H155.74M155.74,314.16H156.84M156.78,303.11V329.52M155.68,314.33H156.78M156.78,313.29H157.88M157.82,303.04V353.59M156.72,313.32H157.82M157.82,351.00H158.92M158.86,299.25V353.46M157.76,349.93H158.86M158.86,310.63H159.96M159.90,297.06V330.02M158.80,310.23H159.90M159.90,299.86H161.00M160.94,297.32V306.97M159.84,299.71H160.94M160.94,305.86H162.04M161.98,297.07V322.22M160.88,304.46H161.98M161.98,314.58H163.08M163.02,305.53V323.63M161.92,313.46H163.02M163.02,321.59H164.12M164.06,319.61V332.71M162.96,322.84H164.06M164.06,330.61H165.16M165.10,321.78V359.05M164.00,332.00H165.10M165.10,354.74H166.20M166.14,353.08V365.26M165.04,354.26H166.14M166.14,361.49H167.24M167.18,354.98V364.94M166.08,362.29H167.18M167.18,356.68H168.28M168.22,352.72V359.07M167.12,358.09H168.22M168.22,358.56H169.32M169.26,354.10V364.62M168.16,357.28H169.26M169.26,362.35H170.36M170.30,360.35V367.92M169.20,362.75H170.30M170.30,364.43H171.40M171.34,358.80V367.13M170.24,365.07H171.34M171.34,363.98H172.44M172.38,358.21V381.99M171.28,363.93H172.38M172.38,378.27H173.48M173.42,366.60V390.73M172.32,379.12H173.42M173.42,384.12H174.52M174.46,380.19V392.63M173.36,383.86H174.46M174.46,390.53H175.56M175.50,388.34V400.32M174.40,389.68H175.50M175.50,398.82H176.60M176.54,390.27V412.73M175.44,397.05H176.54M176.54,406.08H177.64M177.58,400.07V417.47M176.48,406.33H177.58M177.58,413.48H178.68M178.62,406.21V451.79M177.52,413.82H178.62M178.62,429.34H179.72M179.66,414.15V466.80M178.56,429.25H179.66M179.66,458.91H180.76M180.70,408.07V467.18M179.60,459.22H180.70M180.70,416.21H181.80M181.74,407.37V444.56M180.64,416.21H181.74M181.74,413.40H182.84M182.78,409.52V437.24M181.68,413.28H182.78M182.78,421.99H183.88M183.82,417.47V441.06M182.72,423.26H183.82M183.82,437.02H184.92M184.86,425.98V458.50M183.76,438.17H184.86M184.86,447.07H185.96M185.90,441.45V485.61M184.80,447.14H185.90M185.90,477.31H187.00M186.94,458.27V485.11M185.84,476.92H186.94M186.94,469.14H188.04M187.98,449.79V480.56M186.88,470.08H187.98M187.98,453.22H189.08M189.02,439.81V455.75M187.92,453.40H189.02M189.02,441.20H190.12M190.06,439.82V448.05M188.96,441.64H190.06M190.06,446.79H191.16M191.10,432.13V448.44M190.00,446.61H191.10M191.10,439.55H192.20M192.14,430.64V442.67M191.04,437.57H192.14M192.14,440.23H193.24M193.18,432.50V453.25M192.08,439.35H193.18M193.18,447.91H194.28M194.22,439.08V451.78M193.12,447.76H194.22M194.22,443.57H195.32M195.26,440.56V463.74M194.16,443.36H195.26M195.26,455.10H196.36M196.30,450.12V467.11M195.20,453.64H196.30M196.30,459.34H197.40M197.34,444.71V464.64M196.24,460.94H197.34M197.34,452.04H198.44M198.38,442.39V459.22M197.28,452.84H198.38M198.38,445.67H199.48M199.42,440.40V448.08M198.32,445.66H199.42M199.42,444.37H200.52M200.46,430.21V446.52M199.36,445.02H200.46M200.46,439.67H201.56M201.50,400.21V439.90M200.40,439.56H201.50M201.50,413.16H202.60M202.54,398.52V427.81M201.44,413.76H202.54M202.54,409.91H203.64M203.58,400.92V430.86M202.48,408.79H203.58M203.58,423.99H204.68M204.62,417.07V435.54M203.52,423.67H204.62M204.62,431.03H205.72M205.66,428.29V438.09M204.56,430.85H205.66M205.66,431.18H206.76M206.70,407.10V437.05M205.60,431.77H206.70M206.70,410.16H207.80M207.74,401.92V416.28M206.64,410.50H207.74M207.74,403.35H208.84M208.78,392.07V411.01M207.68,403.47H208.78M208.78,399.52H209.88M209.82,387.46V401.80M208.72,399.14H209.82M209.82,394.97H210.92M210.86,386.09V395.21M209.76,394.90H210.86M210.86,389.46H211.96M211.90,384.07V395.65M210.80,389.32H211.90M211.90,385.68H213.00M212.94,382.10V388.38M211.84,385.47H212.94M212.94,384.26H214.04M213.98,378.49V387.07M212.88,382.62H213.98M213.98,380.69H215.08M215.02,376.41V383.68M213.92,380.79H215.02M215.02,379.77H216.12M216.06,374.43V380.38M214.96,379.60H216.06M216.06,377.17H217.16M217.10,372.71V380.86M216.00,377.53H217.10M217.10,374.98H218.20M218.14,369.70V378.21M217.04,375.91H218.14M218.14,373.12H219.24M219.18,364.94V374.35M218.08,371.22H219.18M219.18,367.97H220.28M220.22,360.38V373.56M219.12,367.93H220.22M220.22,363.55H221.32M221.26,358.74V368.30M220.16,363.30H221.26M221.26,358.97H222.36M222.30,348.86V361.21M221.20,359.50H222.30M222.30,354.00H223.40M223.34,341.93V355.58M222.24,353.24H223.34M223.34,348.32H224.44M224.38,335.94V353.75M223.28,347.07H224.38M224.38,342.12H225.48M225.42,330.25V346.63M224.32,342.70H225.42M225.42,335.93H226.52M226.46,317.07V338.81M225.36,335.28H226.46M226.46,324.54H227.56M227.50,317.16V329.53M226.40,325.95H227.50M227.50,320.08H228.60M228.54,317.23V338.92M227.44,321.42H228.54M228.54,330.20H229.64M229.58,327.70V351.87M228.48,331.41H229.58M229.58,345.13H230.68M230.62,342.19V372.32M229.52,345.18H230.62M230.62,360.38H231.72M231.66,356.81V376.07M230.56,360.14H231.66M231.66,374.95H232.76M232.70,349.76V381.40M231.60,374.56H232.70M232.70,365.66H233.80M233.74,351.10V382.53M232.64,366.72H233.74M233.74,355.51H234.84M234.78,351.12V365.56M233.68,356.57H234.78M234.78,365.29H235.88M235.82,356.14V374.65M234.72,363.88H235.82M235.82,373.54H236.92M236.86,351.33V376.64M235.76,372.66H236.86M236.86,361.89H237.96M237.90,347.07V371.32M236.80,361.35H237.90M237.90,350.96H239.00M238.94,345.42V355.14M237.84,350.64H238.94M238.94,346.99H240.04M239.98,343.98V354.71M238.88,346.99H239.98M239.98,346.81H241.08M241.02,343.11V358.40M239.92,346.86H241.02M241.02,355.64H242.12M242.06,333.89V359.07M240.96,354.59H242.06M242.06,345.62H243.16M243.10,330.28V355.03M242.00,344.11H243.10M243.10,334.28H244.20M244.14,324.14V344.53M243.04,335.48H244.14M244.14,329.64H245.24M245.18,323.83V331.47M244.08,329.70H245.18M245.18,328.70H246.28M246.22,327.79V341.02M245.12,328.59H246.22M246.22,337.00H247.32M247.26,328.21V342.04M246.16,336.42H247.26M247.26,336.20H248.36M248.30,328.66V340.54M247.20,336.45H248.30M248.30,329.80H249.40M249.34,327.87V337.99M248.24,329.36H249.34M249.34,336.14H250.44M250.38,331.48V343.48M249.28,336.72H250.38M250.38,340.76H251.48M251.42,330.21V343.69M250.32,339.69H251.42M251.42,334.69H252.52M252.46,329.12V343.02M251.36,333.02H252.46M252.46,339.45H253.56M253.50,336.11V354.82M252.40,339.43H253.50M253.50,348.46H254.60M254.54,343.93V356.14M253.44,349.52H254.54M254.54,352.82H255.64M255.58,348.88V357.70M254.48,353.53H255.58M255.58,353.60H256.68M256.62,345.81V355.56M255.52,353.34H256.62M256.62,347.80H257.72M257.66,346.45V351.63M256.56,347.83H257.66M257.66,349.70H258.76M258.70,347.26V352.09M257.60,348.47H258.70M258.70,350.19H259.80M259.74,347.84V351.63M258.64,350.68H259.74M259.74,349.56H260.84M260.78,346.37V350.12M259.68,348.92H260.78M260.78,346.80H261.88M261.82,343.28V349.66M260.72,346.68H261.82M261.82,347.01H262.92M262.86,337.23V348.03M261.76,346.55H262.86M262.86,340.89H263.96M263.90,338.67V344.93M262.80,340.80H263.90M263.90,341.06H265.00M264.94,338.27V352.14M263.84,342.26H264.94M264.94,346.20H266.04M265.98,343.95V358.86M264.88,347.09H265.98M265.98,352.03H267.08M267.02,347.59V367.58M265.92,352.61H267.02M267.02,361.42H268.12M268.06,351.67V373.71M266.96,360.95H268.06M268.06,368.79H269.16M269.10,366.69V377.10M268.00,369.44H269.10M269.10,373.22H270.20M270.14,368.96V385.19M269.04,373.04H270.14M270.14,380.80H271.24M271.18,373.46V394.12M270.08,381.54H271.18M271.18,390.91H272.28M272.22,382.60V393.58M271.12,390.46H272.22M272.22,385.80H273.32M273.26,382.49V391.64M272.16,385.32H273.26M273.26,386.19H274.36M274.30,381.66V392.03M273.20,385.58H274.30M274.30,390.52H275.40M275.34,387.36V394.43M274.24,388.87H275.34M275.34,391.88H276.44M276.38,389.24V398.48M275.28,389.94H276.38M276.38,396.28H277.48M277.42,390.77V410.69M276.32,395.90H277.42M277.42,409.27H278.52M278.46,395.45V412.36M277.36,408.57H278.46M278.46,400.10H279.56M279.50,385.52V403.95M278.40,400.62H279.50M279.50,392.85H280.60M280.54,380.20V396.30M279.44,393.36H280.54M280.54,386.81H281.64M281.58,377.43V389.58M280.48,386.85H281.58M281.58,380.51H282.68M282.62,375.41V385.63M281.52,380.65H282.62M282.62,376.65H283.72M283.66,376.29V381.57M282.56,376.88H283.66M283.66,379.32H284.76M284.70,377.22V382.00M283.60,380.22H284.70M284.70,381.29H285.80M285.74,375.44V382.24M284.64,379.86H285.74M285.74,379.26H286.84M286.78,376.28V381.65M285.68,378.91H286.78M286.78,376.70H287.88M287.82,376.00V383.73M286.72,376.90H287.82M287.82,380.72H288.92M288.86,377.31V387.90M287.76,381.63H288.86M288.86,385.29H289.96M289.90,368.90V388.29M288.80,384.12H289.90M289.90,377.70H291.00M290.94,363.54V383.72M289.84,377.42H290.94M290.94,369.46H292.04M291.98,359.72V371.96M290.88,369.87H291.98M291.98,361.78H293.08M293.02,349.32V368.66M291.92,361.51H293.02M293.02,355.35H294.12M294.06,346.01V360.71M292.96,354.41H294.06M294.06,349.57H295.16M295.10,344.57V355.60M294.00,348.79H295.10M295.10,347.32H296.20M296.14,335.96V351.59M295.04,347.12H296.14M296.14,340.73H297.24M297.18,334.65V348.17M296.08,340.43H297.18M297.18,342.66H298.28M298.22,336.99V359.14M297.12,341.35H298.22M298.22,351.53H299.32M299.26,345.25V367.48M298.16,352.31H299.26M299.26,363.39H300.36M300.30,356.59V369.52M299.20,363.89H300.30M300.30,362.94H301.40M301.34,358.49V365.51M300.24,362.62H301.34M301.34,361.17H302.44M302.38,358.53V365.31M301.28,359.70H302.38M302.38,362.23H303.48M303.42,360.35V367.19M302.32,362.95H303.42M303.42,365.61H304.52M304.46,361.22V371.73M303.36,365.43H304.46M304.46,368.40H305.56M305.50,364.45V373.63M304.40,368.73H305.50M305.50,370.73H306.60M306.54,368.96V377.58M305.44,371.84H306.54M306.54,374.93H307.64M307.58,369.82V378.83M306.48,374.80H307.58M307.58,375.72H308.68M308.62,365.46V380.21M307.52,374.99H308.62M308.62,369.36H309.72M309.66,362.09V371.22M308.56,370.06H309.66M309.66,364.78H310.76M310.70,358.73V367.78M309.60,365.85H310.70M310.70,361.33H311.80M311.74,357.33V363.27M310.64,360.68H311.74M311.74,358.43H312.84M312.78,355.81V361.68M311.68,358.57H312.78M312.78,358.19H313.88M313.82,354.22V358.48M312.72,357.91H313.82M313.82,355.24H314.92M314.86,352.55V357.64M313.76,356.32H314.86M314.86,353.53H315.96M315.90,352.51V356.93M314.80,353.87H315.90M315.90,354.85H317.00M316.94,352.97V355.60M315.84,354.56H316.94M316.94,352.65H318.04M317.98,350.70V355.20M316.88,353.46H317.98M317.98,351.51H319.08M319.02,349.06V354.18M317.92,351.68H319.02M319.02,351.40H320.12M320.06,348.63V352.41M318.96,350.57H320.06M320.06,351.05H321.16M321.10,348.52V355.32M320.00,349.60H321.10M321.10,352.10H322.20M322.14,349.54V361.50M321.04,352.10H322.14M322.14,356.71H323.24M323.18,351.89V364.89M322.08,355.80H323.18M323.18,361.66H324.28M324.22,355.99V368.08M323.12,360.30H324.22M324.22,364.06H325.32M325.26,360.77V372.29M324.16,363.62H325.26M325.26,368.23H326.36M326.30,363.68V375.80M325.20,368.26H326.30M326.30,372.17H327.40M327.34,367.93V377.47M326.24,371.67H327.34M327.34,376.41H328.44M328.38,371.71V377.71M327.28,376.03H328.38M328.38,375.52H329.48M329.42,371.76V377.74M328.32,375.75H329.42M329.42,372.95H330.52M330.46,366.99V374.06M329.36,373.19H330.46M330.46,371.37H331.56M331.50,365.61V373.99M330.40,369.96H331.50M331.50,367.40H332.60M332.54,364.97V370.23M331.44,367.82H332.54M332.54,366.93H333.64M333.58,363.79V371.47M332.48,366.10H333.58M333.58,370.33H334.68M334.62,366.02V376.11M333.52,370.10H334.62M334.62,373.05H335.72M335.66,371.21V385.82M334.56,374.14H335.66M335.66,380.08H336.76M336.70,373.30V387.58M335.60,381.19H336.70M336.70,385.31H337.80M337.74,382.96V387.37M336.64,383.55H337.74M337.74,385.47H338.84M338.78,383.96V393.80M337.68,387.19H338.78M338.78,388.05H339.88M339.82,386.66V395.27M338.72,388.44H339.82M339.82,392.22H340.92M340.86,388.75V394.98M339.76,391.99H340.86M340.86,392.64H341.96M341.90,390.77V394.38M340.80,392.83H341.90M341.90,391.98H343.00M342.94,389.53V398.34M341.84,392.85H342.94M342.94,394.34H344.04M343.98,391.08V403.62M342.88,394.43H343.98M343.98,399.81H345.08M345.02,394.25V406.31M343.92,398.14H345.02M345.02,402.98H346.12M346.06,401.12V407.66M344.96,402.81H346.06M346.06,405.79H347.16M347.10,402.70V409.61M346.00,405.58H347.10M347.10,407.56H348.20M348.14,393.55V410.48M347.04,405.98H348.14M348.14,400.11H349.24M349.18,389.42V402.67M348.08,400.12H349.18M349.18,394.95H350.28M350.22,387.57V399.08M349.12,394.71H350.22M350.22,390.17H351.32M351.26,388.78V397.60M350.16,390.59H351.26M351.26,392.70H352.36M352.30,389.53V400.37M351.20,392.21H352.30M352.30,397.87H353.40M353.34,395.76V411.70M352.24,397.00H353.34M353.34,404.33H354.44M354.38,398.16V412.11M353.28,403.05H354.38M354.38,409.14H355.48M355.42,404.41V423.58M354.32,408.93H355.42M355.42,415.40H356.52M356.46,408.57V422.72M355.36,416.78H356.46M356.46,420.21H357.56M357.50,416.67V428.51M356.40,421.84H357.50M357.50,426.58H358.60M358.54,418.44V429.97M357.44,426.67H358.54M358.54,423.41H359.64M359.58,412.06V426.31M358.48,423.29H359.58M359.58,414.27H360.68M360.62,412.15V420.70M359.52,415.32H360.62M360.62,414.18H361.72M361.66,410.63V415.32M360.56,414.23H361.66M361.66,412.54H362.76M362.70,407.67V414.61M361.60,413.40H362.70M362.70,410.82H363.80M363.74,404.34V412.96M362.64,410.84H363.74M363.74,406.50H364.84M364.78,398.38V408.33M363.68,406.71H364.78M364.78,403.89H365.88M365.82,394.17V405.29M364.72,402.94H365.82M365.82,398.52H366.92M366.86,392.85V403.90M365.76,397.86H366.86M366.86,394.67H367.96M367.90,391.95V396.91M366.80,394.19H367.90M367.90,394.85H369.00M368.94,392.04V396.78M367.84,394.16H368.94M368.94,395.03H370.04M369.98,395.02V404.28M368.88,396.22H369.98M369.98,398.72H371.08M371.02,397.37V410.89M369.92,399.74H371.02M371.02,404.68H372.12M372.06,400.35V416.31M370.96,405.46H372.06M372.06,412.62H373.16M373.10,409.56V416.33M372.00,412.80H373.10M373.10,412.33H374.20M374.14,401.51V413.19M373.04,412.25H374.14M374.14,406.55H375.24M375.18,397.89V408.92M374.08,405.47H375.18M375.18,402.47H376.28M376.22,397.14V405.53M375.12,401.46H376.22M376.22,399.82H377.32M377.26,394.44V402.51M376.16,397.96H377.26M377.26,396.48H378.36M378.30,395.51V403.92M377.20,396.71H378.30M378.30,400.14H379.40M379.34,397.34V404.49M378.24,399.45H379.34M379.34,402.32H380.44M380.38,398.77V407.18M379.28,403.66H380.38M380.38,405.18H381.48M381.42,401.56V407.46M380.32,404.77H381.42M381.42,405.93H382.52M382.46,403.39V412.42M381.36,406.42H382.46M382.46,409.04H383.56M383.50,405.76V414.87M382.40,408.41H383.50M383.50,412.35H384.60M384.54,408.59V418.65M383.44,412.23H384.54M384.54,414.91H385.64M385.58,414.14V420.62M384.48,415.19H385.58M385.58,418.42H386.68M386.62,416.42V424.84M385.52,419.08H386.62M386.62,422.03H387.72M387.66,419.84V427.33M386.56,421.95H387.66M387.66,424.40H388.76M388.70,422.91V428.38M387.60,424.23H388.70M388.70,426.71H389.80M389.74,424.60V429.77M388.64,426.65H389.74M389.74,428.60H390.84M390.78,427.16V431.65M389.68,427.94H390.78M390.78,428.47H391.88M391.82,428.25V431.65M390.72,429.22H391.82M391.82,430.47H392.92M392.86,428.07V433.78M391.76,429.31H392.86M392.86,431.53H393.96M393.90,429.92V436.16M392.80,432.50H393.90M393.90,433.98H395.00M394.94,428.01V435.74M393.84,434.51H394.94M394.94,432.32H396.04M395.98,426.61V435.01M394.88,432.44H395.98M395.98,429.41H397.08M397.02,427.09V440.38M395.92,429.80H397.02M397.02,435.57H398.12M398.06,430.61V441.46M396.96,435.27H398.06M398.06,439.03H399.16M399.10,437.37V442.93M398.00,440.02H399.10M399.10,442.15H400.20M400.14,432.54V442.85M399.04,440.74H400.14M400.14,436.10H401.24M401.18,429.10V440.47M400.08,436.64H401.18M401.18,432.00H402.28M402.22,429.22V436.78M401.12,430.35H402.22M402.22,429.71H403.32M403.26,428.14V433.24M402.16,430.70H403.26M403.26,431.66H404.36M404.30,428.37V434.83M403.20,430.38H404.30M404.30,432.93H405.40M405.34,430.20V440.31M404.24,431.94H405.34M405.34,434.92H406.44M406.38,432.28V444.20M405.28,436.10H406.38M406.38,439.53H407.48M407.42,435.26V447.56M406.32,439.62H407.42M407.42,444.61H408.52M408.46,440.30V451.20M407.36,444.01H408.46M408.46,447.64H409.56M409.50,431.34V451.97M408.40,449.19H409.50M409.50,440.83H410.60M410.54,425.40V443.89M409.44,440.37H410.54M410.54,428.53H411.64M411.58,417.98V439.05M410.48,429.44H411.58M411.58,421.50H412.68M412.62,414.56V427.19M411.52,421.42H412.62M412.62,417.62H413.72M413.66,411.13V421.60M412.56,418.01H413.66M413.66,415.05H414.76M414.70,409.48V418.65M413.60,415.09H414.70M414.70,412.33H415.80M415.74,406.87V413.45M414.64,411.71H415.74M415.74,409.03H416.84M416.78,400.90V413.75M415.68,408.81H416.78M416.78,404.62H417.88M417.82,398.61V409.52M416.72,404.93H417.82M417.82,401.23H418.92M418.86,395.32V403.17M417.76,401.60H418.86M418.86,397.59H419.96M419.90,395.42V405.36M418.80,397.70H419.90M419.90,400.34H421.00M420.94,396.95V406.38M419.84,399.73H420.94M420.94,404.88H422.04M421.98,399.52V411.20M420.88,404.07H421.98M421.98,409.00H423.08M423.02,405.23V411.83M421.92,407.72H423.02M423.02,410.93H424.12M424.06,408.35V414.51M422.96,409.90H424.06M424.06,411.63H425.16M425.10,409.01V415.54M424.00,412.33H425.10M425.10,414.11H426.20M426.14,412.94V418.44M425.04,414.04H426.14M426.14,415.91H427.24M427.18,415.20V418.87M426.08,416.75H427.18M427.18,417.67H428.28M428.22,417.17V421.34M427.12,418.66H428.22M428.22,418.66H429.32M429.26,417.21V423.37M428.16,419.11H429.26M429.26,421.66H430.36M430.30,417.70V424.90M429.20,421.22H430.30M430.30,421.37H431.40M431.34,415.56V423.78M430.24,422.72H431.34M431.34,417.94H432.44M432.38,411.71V419.92M431.28,418.50H432.38M432.38,413.05H433.48M433.42,409.75V417.38M432.32,413.57H433.42M433.42,412.04H434.52M434.46,408.33V413.37M433.36,411.07H434.46M434.46,410.34H435.56M435.50,408.82V420.02M434.40,409.36H435.50M435.50,414.92H436.60M436.54,412.20V422.18M435.44,414.17H436.54M436.54,421.21H437.64M437.58,416.17V433.30M436.48,421.54H437.58M437.58,428.18H438.68M438.62,426.00V441.16M437.52,427.79H438.62M438.62,436.31H439.72M439.66,430.92V461.75M438.56,437.31H439.66M439.66,452.23H440.76M440.70,435.41V463.27M439.60,452.99H440.70M440.70,438.65H441.80M441.74,432.01V439.54M440.64,437.83H441.74M441.74,435.54H442.84M442.78,433.36V441.78M441.68,436.46H442.78M442.78,440.04H443.88M443.82,436.18V445.88M442.72,439.59H443.82M443.82,442.35H444.92M444.86,439.87V446.78M443.76,444.05H444.86M444.86,445.46H445.96M445.90,437.91V447.57M444.80,444.66H445.90M445.90,440.54H447.00M446.94,431.98V444.66M445.84,440.21H446.94M446.94,435.00H448.04M447.98,428.14V437.18M446.88,435.20H447.98M447.98,431.98H449.08M449.02,422.31V435.16M447.92,430.71H449.02M449.02,429.25H450.12M450.06,417.30V430.65M448.96,429.38H450.06M450.06,421.91H451.16M451.10,414.41V428.24M450.00,423.76H451.10M451.10,416.86H452.20M452.14,414.88V421.92M451.04,416.40H452.14M452.14,419.09H453.24M453.18,416.74V424.42M452.08,419.16H453.18M453.18,421.76H454.28M454.22,418.33V423.89M453.12,421.87H454.22M454.22,421.67H455.32M455.26,418.84V424.14M454.16,421.00H455.26M455.26,421.29H456.36M456.30,418.88V427.02M455.20,421.30H456.30M456.30,424.64H457.40M457.34,422.61V428.13M456.24,423.10H457.34M457.34,426.49H458.44M458.38,425.44V429.99M457.28,426.58H458.38M458.38,428.36H459.48M459.42,427.34V430.52M458.32,429.41H459.42M459.42,430.41H460.52M460.46,418.29V431.61M459.36,429.13H460.46M460.46,424.31H461.56M461.50,415.88V426.99M460.40,425.17H461.50M461.50,418.61H462.60M462.54,414.86V425.51M461.44,417.81H462.54M462.54,419.72H463.64M463.58,418.06V430.06M462.48,419.82H463.58M463.58,425.84H464.68M464.62,421.01V434.31M463.52,426.23H464.62M464.62,430.77H465.72M465.66,426.87V433.96M464.56,430.02H465.66M465.66,432.50H466.76M466.70,430.77V436.57M465.60,432.53H466.70M466.70,434.76H467.80M467.74,430.99V439.39M466.64,434.50H467.74M467.74,436.62H468.84M468.78,434.96V438.54M467.68,436.99H468.78M468.78,437.00H469.88M469.82,436.68V440.06M468.72,437.55H469.82M469.82,438.06H470.92M470.86,436.23V441.54M469.76,439.25H470.86M470.86,439.54H471.96M471.90,433.28V441.31M470.80,439.37H471.90M471.90,436.98H473.00M472.94,427.72V440.26M471.84,436.69H472.94M472.94,432.79H474.04M473.98,426.65V435.54M472.88,432.55H473.98M473.98,428.64H475.08M475.02,424.27V437.60M473.92,429.64H475.02M475.02,430.26H476.12M476.06,424.69V438.48M474.96,429.61H476.06M476.06,436.56H477.16M477.10,429.32V444.47M476.00,436.10H477.10M477.10,443.58H478.20M478.14,436.86V444.77M477.04,441.98H478.14M478.14,439.75H479.24M479.18,431.90V442.24M478.08,439.56H479.18M479.18,435.03H480.28M480.22,428.23V437.15M479.12,434.46H480.22M480.22,431.77H481.32M481.26,428.55V432.84M480.16,431.03H481.26M481.26,431.69H482.36M482.30,430.54V435.97M481.20,431.76H482.30M482.30,432.86H483.40M483.34,431.80V437.76M482.24,433.80H483.34M483.34,436.24H484.44M484.38,432.40V438.90M483.28,435.01H484.38M484.38,437.86H485.48M485.42,435.01V439.49M484.32,437.74H485.42M485.42,437.33H486.52M486.46,436.69V439.92M485.36,437.08H486.46M486.46,439.10H487.56M487.50,437.46V440.97M486.40,439.69H487.50M487.50,440.01H488.60M488.54,437.23V441.50M487.44,439.11H488.54M488.54,439.75H489.64M489.58,436.31V441.00M488.48,438.51H489.58M489.58,438.00H490.68M490.62,435.36V439.43M489.52,438.46H490.62M490.62,436.44H491.72M491.66,436.07V439.43M490.56,437.59H491.66M491.66,436.69H492.76M492.70,435.53V439.79M491.60,436.41H492.70M492.70,437.26H493.80M493.74,437.34V441.35M492.64,437.80H493.74M493.74,439.63H494.84M494.78,435.65V441.59M493.68,439.64H494.78M494.78,439.10H495.88M495.82,431.91V440.87M494.72,438.48H495.82M495.82,433.95H496.92M496.86,426.88V439.48M495.76,433.57H496.86M496.86,427.72H497.96M497.90,419.14V431.62M496.80,428.68H497.90M497.90,422.88H499.00M498.94,416.46V425.72M497.84,422.84H498.94M498.94,417.04H500.04M499.98,414.28V419.99M498.88,417.73H499.98M499.98,416.04H501.08M501.02,412.75V416.85M499.92,416.25H501.02M501.02,415.69H502.12M502.06,411.12V415.72M500.96,414.26H502.06M502.06,412.98H503.16M503.10,408.92V415.43M502.00,413.96H503.10M503.10,410.22H504.20M504.14,406.71V413.75M503.04,411.42H504.14M504.14,409.68H505.24M505.18,406.15V411.73M504.08,410.29H505.18M505.18,408.54H506.28M506.22,404.56V409.74M505.12,408.45H506.22M506.22,406.65H507.32M507.26,404.73V408.47M506.16,406.60H507.26M507.26,406.70H508.36M508.30,403.56V407.04M507.20,405.42H508.30M508.30,403.77H509.40M509.34,403.24V410.12M508.24,404.63H509.34M509.34,406.55H510.44M510.38,405.48V410.94M509.28,407.40H510.38M510.38,409.81H511.48M511.42,402.88V413.08M510.32,408.87H511.42M511.42,407.09H512.52M512.46,394.86V413.63M511.36,407.58H512.46M512.46,400.02H513.56M513.50,391.83V400.95M512.40,398.80H513.50M513.50,394.91H514.60M514.54,390.72V397.27M513.44,395.66H514.54M514.54,393.18H515.64M515.58,377.97V395.92M514.48,394.25H515.58M515.58,389.86H516.68M516.62,373.74V395.87M515.52,388.61H516.62M516.62,376.52H517.72M517.66,359.09V381.34M516.56,378.09H517.66M517.66,366.09H518.76M518.70,347.31V371.01M517.60,367.02H518.70M518.70,356.34H519.80M519.74,341.31V359.35M518.64,356.34H519.74M519.74,345.62H520.84M520.78,336.33V351.72M519.68,346.49H520.78M520.78,339.23H521.88M521.82,332.32V346.48M520.72,338.76H521.82M521.82,333.98H522.92M522.86,325.94V336.06M521.76,335.42H522.86M522.86,329.22H523.96M523.90,321.11V334.09M522.80,329.57H523.90M523.90,323.02H525.00M524.94,320.47V329.67M523.84,323.91H524.94M524.94,325.45H526.04M525.98,322.04V341.22M524.88,325.88H525.98M525.98,332.05H527.08M527.02,328.37V343.97M525.92,331.72H527.02M527.02,341.54H528.12M528.06,330.46V346.23M526.96,340.87H528.06M528.06,338.19H529.16M529.10,333.76V340.18M528.00,339.81H529.10M529.10,335.71H530.20M530.14,331.22V339.36M529.04,335.30H530.14M530.14,333.54H531.24M531.18,326.22V337.62M530.08,334.75H531.18M531.18,330.12H532.28M532.22,315.41V336.37M531.12,329.65H532.22M532.22,322.65H533.32M533.26,301.67V325.80M532.16,321.30H533.26M533.26,309.82H534.36M534.30,287.60V315.87M533.20,309.14H534.30M534.30,297.37H535.40M535.34,286.12V301.46M534.24,298.39H535.34M535.34,289.83H536.44M536.38,270.40V293.24M535.28,288.85H536.38M536.38,284.03H537.48M537.42,263.25V290.84M536.32,282.87H537.42M537.42,268.84H538.52M538.46,255.02V277.73M537.36,269.37H538.46M538.46,260.02H539.56M539.50,254.87V266.13M538.40,259.84H539.50M539.50,258.53H540.60M540.54,253.41V269.61M539.44,257.56H540.54M540.54,263.85H541.64M541.58,263.35V276.53M540.48,264.10H541.58M541.58,271.31H542.68M542.62,259.14V272.03M541.52,270.52H542.62M542.62,264.28H543.72M543.66,238.55V268.88M542.56,262.91H543.66M543.66,250.69H544.76M544.70,237.03V258.79M543.60,249.97H544.70M544.70,238.40H545.80M545.74,225.05V242.30M544.64,238.43H545.74M545.74,230.13H546.84M546.78,225.46V244.06M545.68,229.45H546.78M546.78,236.30H547.88M547.82,227.57V254.70M546.72,236.66H547.82M547.82,251.26H548.92M548.86,245.93V290.26M547.76,251.10H548.86M548.86,265.77H549.96M549.90,262.67V299.71M548.80,266.23H549.90M549.90,295.62H551.00M550.94,282.06V312.46M549.84,295.60H550.94M550.94,292.39H552.04M551.98,272.88V308.95M550.88,292.09H551.98M551.98,276.83H553.08M553.02,274.34V314.96M551.92,277.01H553.02M553.02,291.27H554.12M554.06,274.72V316.58M552.96,291.49H554.06M554.06,308.06H555.16M555.10,284.90V314.15M554.00,308.53H555.10M555.10,288.13H556.20M556.14,283.42V308.23M555.04,287.85H556.14M556.14,304.89H557.24M557.18,296.32V366.64M556.08,305.50H557.18M557.18,358.16H558.28M558.22,333.90V366.29M557.12,358.63H558.22M558.22,337.93H559.32M559.26,333.02V352.43M558.16,338.53H559.26M559.26,338.47H560.36M560.30,335.34V345.61M559.20,338.36H560.30M560.30,343.43H561.40M561.34,339.77V346.33M560.24,342.05H561.34M561.34,343.36H562.44M562.38,333.50V346.57M561.28,344.71H562.38M562.38,338.87H563.48M563.42,324.33V342.94M562.32,340.05H563.42M563.42,330.99H564.52M564.46,323.23V339.92M563.36,330.83H564.46M564.46,324.19H565.56M565.50,319.53V326.96M564.40,325.55H565.50M565.50,321.05H566.60M566.54,316.14V325.96M565.44,321.39H566.54M566.54,317.89H567.64M567.58,307.85V320.03M566.48,318.35H567.58M567.58,313.94H568.68M568.62,305.92V317.57M567.52,313.97H568.62M568.62,307.37H569.72M569.66,305.69V311.59M568.56,308.77H569.66M569.66,308.43H570.76M570.70,305.94V314.18M569.60,309.15H570.70M570.70,313.54H571.80M571.74,310.38V316.57M570.64,312.56H571.74M571.74,313.67H572.84M572.78,312.17V316.92M571.68,314.40H572.78M572.78,316.20H573.88M573.82,306.23V317.42M572.72,316.75H573.82M573.82,308.68H574.92M574.86,303.48V317.22M573.76,308.95H574.86M574.86,305.58H575.96M575.90,303.02V313.94M574.80,307.24H575.90M575.90,310.63H577.00M576.94,308.21V339.18M575.84,310.79H576.94M576.94,326.56H578.04M577.98,316.56V355.22M576.88,326.76H577.98M577.98,345.07H579.08M579.02,334.42V365.81M577.92,344.78H579.02M579.02,356.27H580.12M580.06,347.72V379.16M578.96,355.32H580.06M580.06,372.02H581.16M581.10,367.50V380.19M580.00,370.50H581.10M581.10,375.33H582.20M582.14,368.04V380.57M581.04,374.80H582.14M582.14,370.04H583.24M583.18,365.94V375.05M582.08,369.54H583.18M583.18,371.00H584.28M584.22,361.65V374.71M583.12,370.58H584.22M584.22,371.54H585.32M585.26,354.71V375.11M584.16,371.13H585.26M585.26,360.72H586.36M586.30,350.70V370.29M585.20,360.51H586.30M586.30,354.32H587.40M587.34,350.16V358.19M586.24,355.38H587.34M587.34,352.45H588.44M588.38,348.40V356.19M587.28,351.82H588.38M588.38,350.83H589.48M589.42,348.29V352.74M588.32,350.75H589.42M589.42,350.75H590.52M590.46,345.18V351.86M589.36,350.07H590.46M590.46,349.41H591.56M591.50,344.10V350.78M590.40,348.82H591.50M591.50,345.01H592.60M592.54,342.89V349.01M591.44,346.76H592.54M592.54,347.98H593.64M593.58,342.43V358.21M592.48,347.45H593.58M593.58,353.16H594.68M594.62,346.68V360.60M593.52,352.94H594.62M594.62,358.19H595.72M595.66,354.01V368.48M594.56,358.52H595.66M595.66,365.01H596.76M596.70,360.60V368.25M595.60,363.28H596.70M596.70,366.35H597.80M597.74,362.99V366.95M596.64,365.80H597.74M597.74,363.95H598.84M598.78,361.67V366.15M597.68,365.24H598.78M598.78,364.56H599.88M599.82,361.44V365.46M598.72,363.05H599.82M599.82,362.65H600.92M600.86,358.58V363.88M599.76,362.92H600.86M600.86,360.75H601.96M601.90,355.96V364.59M600.80,362.40H601.90M601.90,358.49H603.00M602.94,352.49V360.63M601.84,359.30H602.94M602.94,354.51H604.04M603.98,349.71V358.13M602.88,354.50H603.98M603.98,352.18H605.08M605.02,347.30V354.27M603.92,353.75H605.02M605.02,349.88H606.12M606.06,347.12V354.00M604.96,351.13H606.06M606.06,348.20H607.16M607.10,346.70V351.14M606.00,348.46H607.10M607.10,348.59H608.20M608.14,345.29V348.93M607.04,348.12H608.14M608.14,347.37H609.24M609.18,343.49V348.73M608.08,345.99H609.18M609.18,345.09H610.28M610.22,341.31V346.01M609.12,345.12H610.22M610.22,342.13H611.32M611.26,341.37V345.58M610.16,343.55H611.26M611.26,343.07H612.36M612.30,341.32V344.92M611.20,343.11H612.30M612.30,344.27H613.40M613.34,343.37V347.41M612.24,344.21H613.34M613.34,345.27H614.44M614.38,344.50V348.30M613.28,345.02H614.38M614.38,347.84H615.48M615.42,345.93V351.19M614.32,347.08H615.42M615.42,349.12H616.52M616.46,347.11V351.70M615.36,347.85H616.46M616.46,349.11H617.56M617.50,348.36V351.60M616.40,350.36H617.50M617.50,349.79H618.60M618.54,346.40V352.41M617.44,351.04H618.54M618.54,347.42H619.64M619.58,342.28V349.37M618.48,348.54H619.58M619.58,346.08H620.68M620.62,340.78V348.87M619.52,346.54H620.62M620.62,342.44H621.72M621.66,339.30V345.85M620.56,342.91H621.66M621.66,341.81H622.76M622.70,337.46V343.31M621.60,340.74H622.70M622.70,338.44H623.80M623.74,331.28V341.88M622.64,338.96H623.74M623.74,336.05H624.84M624.78,329.43V339.66M623.68,335.46H624.78M624.78,333.58H625.88M625.82,329.64V336.92M624.72,333.03H625.82M625.82,330.03H626.92M626.86,328.50V336.90M625.76,331.36H626.86M626.86,334.69H627.96M627.90,328.62V342.04M626.80,334.00H627.90M627.90,337.85H629.00M628.94,332.97V342.20M627.84,338.90H628.94M628.94,340.52H630.04M629.98,336.66V343.43M628.88,339.96H629.98M629.98,342.18H631.08M631.02,340.18V343.13M629.92,341.49H631.02M631.02,342.88H632.12M632.06,339.39V343.83M630.96,342.65H632.06M632.06,341.39H633.16M633.10,337.51V342.48M632.00,341.32H633.10M633.10,340.65H634.20M634.14,335.15V342.00M633.04,338.99H634.14M634.14,337.96H635.24M635.18,333.96V339.13M634.08,338.19H635.18M635.18,335.81H636.28M636.22,333.25V338.24M635.12,336.14H636.22M636.22,334.04H637.32M637.26,331.72V335.63M636.16,334.78H637.26M637.26,334.03H638.36M638.30,332.15V335.12M637.20,332.79H638.30M638.30,332.56H639.40M639.34,331.95V335.88M638.24,333.24H639.34M639.34,334.85H640.44M640.38,332.11V336.19M639.28,335.04H640.38M640.38,334.48H641.48M641.42,331.37V335.60M640.32,334.45H641.42M641.42,333.67H642.52M642.46,330.86V334.57M641.36,331.98H642.46M642.46,332.02H643.56M643.50,330.43V333.81M642.40,332.71H643.50M643.50,331.88H644.60M644.54,330.19V334.51M643.44,331.27H644.54M644.54,332.18H645.64M645.58,329.96V335.57M644.48,332.67H645.58M645.58,333.47H646.68M646.62,332.39V340.57M645.52,333.84H646.62M646.62,336.10H647.72M647.66,332.48V343.02M646.56,336.49H647.66M647.66,338.12H648.76M648.70,335.66V344.87M647.60,338.34H648.70M648.70,342.29H649.80M649.74,339.35V347.27M648.64,342.40H649.74M649.74,344.74H650.84M650.78,341.74V350.09M649.68,346.14H650.78M650.78,348.44H651.88M651.82,343.78V350.99M650.72,348.57H651.82M651.82,347.08H652.92M652.86,341.80V349.27M651.76,347.29H652.86M652.86,343.16H653.96M653.90,339.20V344.58M652.80,343.94H653.90M653.90,341.23H655.00M654.94,339.28V343.46M653.84,342.82H654.94M654.94,341.28H656.04M655.98,336.54V341.39M654.88,339.99H655.98M655.98,338.78H657.08M657.02,336.16V340.08M655.92,339.83H657.02M657.02,337.07H658.12M658.06,334.40V339.44M656.96,337.81H658.06M658.06,336.72H659.16M659.10,333.75V337.65M658.00,336.28H659.10M659.10,335.72H660.20M660.14,333.52V337.57M659.04,335.43H660.14M660.14,334.25H661.24M661.18,332.14V335.60M660.08,335.32H661.18M661.18,334.02H662.28M662.22,331.10V334.99M661.12,333.03H662.22M662.22,332.89H663.32M663.26,330.10V335.14M662.16,332.01H663.26M663.26,331.36H664.36M664.30,328.00V333.85M663.20,332.29H664.30M664.30,330.55H665.40M665.34,326.82V332.64M664.24,331.37H665.34M665.34,328.81H666.44M666.38,324.39V330.66M665.28,329.45H666.38M666.38,327.87H667.48M667.42,324.86V328.35M666.32,327.08H667.42M667.42,326.27H668.52M668.46,323.94V327.42M667.36,325.11H668.46M668.46,325.85H669.56M669.50,324.13V326.70M668.40,325.67H669.50M669.50,324.80H670.60M670.54,323.53V326.41M669.44,325.10H670.54M670.54,325.56H671.64M671.58,323.48V325.94M670.48,324.35H671.58M671.58,323.93H672.68M672.62,323.15V325.53M671.52,324.25H672.62M672.62,323.62H673.72M673.66,321.75V325.70M672.56,324.83H673.66M673.66,322.87H674.76M674.70,322.33V325.47M673.60,323.01H674.70M674.70,322.57H675.80M675.74,320.89V324.51M674.64,322.10H675.74M675.74,322.97H676.84M676.78,320.26V323.26M675.68,321.98H676.78M676.78,321.75H677.88M677.82,320.21V324.32M676.72,322.23H677.82M677.82,321.35H678.92M678.86,320.72V326.04M677.76,321.13H678.86M678.86,322.49H679.96M679.90,320.78V328.78M678.80,323.38H679.90M679.90,325.92H681.00M680.94,322.99V332.40M679.84,326.67H680.94M680.94,328.47H682.04M681.98,324.99V331.39M680.88,328.72H681.98M681.98,331.02H683.08M683.02,329.03V332.09M681.92,330.46H683.02M683.02,330.74H684.12M684.06,324.92V332.66M682.96,330.57H684.06M684.06,329.04H685.16M685.10,322.32V331.28M684.00,329.58H685.10M685.10,325.57H686.20M686.14,313.74V330.23M685.04,324.20H686.14M686.14,319.46H687.24M687.18,310.39V322.02M686.08,319.58H687.18M687.18,314.79H688.28M688.22,307.73V316.95M687.12,314.17H688.22M688.22,311.07H689.32M689.26,308.29V327.43M688.16,310.92H689.26M689.26,316.16H690.36M690.30,314.26V348.77M689.20,317.77H690.30M690.30,332.93H691.40M691.34,320.42V346.13M690.24,332.47H691.34M691.34,339.67H692.44M692.38,330.65V344.58M691.28,340.08H692.38M692.38,332.51H693.48M693.42,326.31V339.44M692.32,332.24H693.42M693.42,330.27H694.52M694.46,327.55V331.52M693.36,329.35H694.46M694.46,328.50H695.56M695.50,327.21V334.29M694.40,330.26H695.50M695.50,331.69H696.60M696.54,329.92V338.13M695.44,331.59H696.54M696.54,335.32H697.64M697.58,332.18V339.53M696.48,334.25H697.58M697.58,338.28H698.68M698.62,336.64V340.92M697.52,338.37H698.62M698.62,339.55H699.72M699.66,337.04V341.30M698.56,339.08H699.66M699.66,340.44H700.76M700.70,338.76V344.79M699.60,341.02H700.70M700.70,342.60H701.80M701.74,339.06V343.99M700.64,342.14H701.74M701.74,343.02H702.84M702.78,337.57V344.15M701.68,342.31H702.78M702.78,340.39H703.88M703.82,335.79V341.63M702.72,338.98H703.82M703.82,336.97H704.92M704.86,335.15V341.07M703.76,338.73H704.86M704.86,336.59H705.96M705.90,335.23V341.74M704.80,336.83H705.90M705.90,339.57H707.00M706.94,336.14V347.43M705.84,339.69H706.94M706.94,343.97H708.04M707.98,341.00V350.76M706.88,342.95H707.98M707.98,346.85H709.08M709.02,343.12V354.26M707.92,346.33H709.02M709.02,349.82H710.12M710.06,346.89V355.11M708.96,349.01H710.06M710.06,352.50H711.16M711.10,347.68V365.40M710.00,353.41H711.10M711.10,361.69H712.20M712.14,355.82V372.17M711.04,363.40H712.14M712.14,370.24H713.24M713.18,365.60V376.04M712.08,370.85H713.18M713.18,368.02H714.28M714.22,360.04V371.94M713.12,369.03H714.22M714.22,363.33H715.32M715.26,361.47V366.78M714.16,362.76H715.26M715.26,364.60H716.36M716.30,362.30V369.49M715.20,364.70H716.30M716.30,367.58H717.40M717.34,362.91V373.85M716.24,367.18H717.34M717.34,368.87H718.44M718.38,366.78V376.06M717.28,369.17H718.38M718.38,373.31H719.48M719.42,370.73V376.10M718.32,372.12H719.42M719.42,374.21H720.52M720.46,369.86V376.53M719.36,375.43H720.46M720.46,373.37H721.56M721.50,368.09V375.83M720.40,372.34H721.50M721.50,369.66H722.60M722.54,367.72V373.77M721.44,369.49H722.54M722.54,372.01H723.64M723.58,367.89V374.63M722.48,370.68H723.58M723.58,373.53H724.68M724.62,364.95V375.02M723.52,373.81H724.62M724.62,367.87H725.72M725.66,363.68V377.37M724.56,368.37H725.66M725.66,369.95H726.76M726.70,365.03V390.00M725.60,368.69H726.70M726.70,379.01H727.80M727.74,375.62V397.54M726.64,377.55H727.74M727.74,391.18H728.84M728.78,377.96V398.46M727.68,390.80H728.78M728.78,387.14H729.88M729.82,378.67V388.85M728.72,388.55H729.82M729.82,380.57H730.92M730.86,377.06V383.59M729.76,379.89H730.86M730.86,378.43H731.96M731.90,377.69V380.26M730.80,378.52H731.90M731.90,379.47H733.00M732.94,378.11V382.00M731.84,378.84H732.94M732.94,379.67H734.04M733.98,378.13V381.80M732.88,380.93H733.98M733.98,379.09H735.08M735.02,377.01V381.25M733.92,380.56H735.02M735.02,378.50H736.12M736.06,376.98V386.70M734.96,378.07H736.06M736.06,382.31H737.16M737.10,377.84V389.36M736.00,383.25H737.10M737.10,386.29H738.20M738.14,383.57V393.71M737.04,387.23H738.14M738.14,392.01H739.24M739.18,390.29V400.57M738.08,391.13H739.18M739.18,398.84H740.28M740.22,387.02V400.63M739.12,397.42H740.22M740.22,391.83H741.32M741.26,385.63V397.44M740.16,391.67H741.26M741.26,386.60H742.36M742.30,383.39V390.64M741.20,386.61H742.30M742.30,384.49H743.40M743.34,378.76V386.53M742.24,385.09H743.34M743.34,383.35H744.44M744.38,377.50V383.91M743.28,382.60H744.38M744.38,379.78H745.48M745.42,369.92V380.77M744.32,378.82H745.42M745.42,372.65H746.52M746.46,358.55V375.39M745.36,373.65H746.46M746.46,360.77H747.56M747.50,347.19V363.41M746.40,361.40H747.50M747.50,351.90H748.60M748.54,341.92V359.05M747.44,350.45H748.54M748.54,344.93H749.64M749.58,342.05V350.63M748.48,346.44H749.58M749.58,343.71H750.68M750.62,341.15V347.30M749.52,343.20H750.62M750.62,345.49H751.72M751.66,335.72V347.56M750.56,344.52H751.66M751.66,337.94H752.76M752.70,332.26V343.81M751.60,339.40H752.70M752.70,334.38H753.80M753.74,329.23V336.82M752.64,333.60H753.74M753.74,331.93H754.84M754.78,328.12V342.12M753.68,332.13H754.78M754.78,336.29H755.88M755.82,332.73V347.40M754.72,336.36H755.82M755.82,341.96H756.92M756.86,339.63V354.88M755.76,343.05H756.86M756.86,352.09H757.96M757.90,347.69V363.70M756.80,350.67H757.90M757.90,357.50H759.00M758.94,353.57V363.54M757.84,357.79H758.94M758.94,358.91H760.04M759.98,354.53V361.89M758.88,358.93H759.98M759.98,358.32H761.08M761.02,356.11V363.99M759.92,356.45H761.02M761.02,360.71H762.12M762.06,356.47V365.27M760.96,360.48H762.06M762.06,361.23H763.16M763.10,352.10V364.59M762.00,360.56H763.10M763.10,356.00H764.20M764.14,349.99V357.46M763.04,355.85H764.14M764.14,350.94H765.24M765.18,347.50V353.74M764.08,351.65H765.18M765.18,349.98H766.28M766.22,347.08V355.54M765.12,350.08H766.22M766.22,352.14H767.32M767.26,351.56V358.38M766.16,351.90H767.26M767.26,355.02H768.36M768.30,351.44V361.18M767.20,356.14H768.30M768.30,359.17H769.40M769.34,356.07V361.29M768.24,358.88H769.34M769.34,359.93H770.44M770.38,356.48V370.10M769.28,358.91H770.38M770.38,364.15H771.48M771.42,358.48V370.99M770.32,362.83H771.42M771.42,369.03H772.52M772.46,360.66V372.13M771.36,369.55H772.46M772.46,364.04H773.56M773.50,356.20V368.73M772.40,364.46H773.50M773.50,359.94H774.60M774.54,351.83V364.29M773.44,358.99H774.54M774.54,355.22H775.64M775.58,349.11V361.39M774.48,356.16H775.58M775.58,350.66H776.68M776.62,347.47V355.69M775.52,350.46H776.62M776.62,349.19H777.72M777.66,349.01V351.91M776.56,349.55H777.66M777.66,350.62H778.76M778.70,349.02V355.09M777.60,350.49H778.70M778.70,353.25H779.80M779.74,350.98V354.52M778.64,353.19H779.74M779.74,352.40H780.84M780.78,349.34V355.25M779.68,353.36H780.78M780.78,351.27H781.88M781.82,350.04V355.70M780.72,350.60H781.82M781.82,352.19H782.92M782.86,349.48V356.70M781.76,352.86H782.86M782.86,353.78H783.96M783.90,352.77V357.08M782.80,353.52H783.90M783.90,354.43H785.00M784.94,354.78V359.37M783.84,354.95H784.94M784.94,357.74H786.04M785.98,354.94V360.50M784.88,358.26H785.98M785.98,357.80H787.08M787.02,355.88V359.86M785.92,358.46H787.02M787.02,356.98H788.12M788.06,354.77V358.14M786.96,357.71H788.06M788.06,356.03H789.16M789.10,350.22V357.20M788.00,355.62H789.10M789.10,352.94H790.20M790.14,348.97V355.99M789.04,353.95H790.14M790.14,350.79H791.24M791.18,345.44V354.72M790.08,350.21H791.18M791.18,348.07H792.28M792.22,342.62V350.20M791.12,347.36H792.22M792.22,344.91H793.32M793.26,343.49V347.95M792.16,345.88H793.26M793.26,344.00H794.36M794.30,343.12V348.21M793.20,344.85H794.30M794.30,346.27H795.40M795.34,344.65V376.17M794.24,346.10H795.34M795.34,368.90H796.44M796.38,351.78V376.23M795.28,368.84H796.38M796.38,360.24H797.48M797.42,346.94V365.84M796.32,361.15H797.42M797.42,352.01H798.52M798.46,346.71V358.81M797.36,350.20H798.46M798.46,348.64H799.56M799.50,345.63V349.95M798.40,349.28H799.50M799.50,349.63H800.60M800.54,346.74V359.15M799.44,348.92H800.54M800.54,355.30H801.64M801.58,348.47V373.94M800.48,354.72H801.58M801.58,365.59H802.68M802.62,359.22V382.17M801.52,365.45H802.62M802.62,379.55H803.72M803.66,366.53V382.84M802.56,380.46H803.66M803.66,370.67H804.76M804.70,365.45V376.62M803.60,369.36H804.70M804.70,366.32H805.80M805.74,364.27V371.00M804.64,367.48H805.74M805.74,365.54H806.84M806.78,361.33V367.31M805.68,365.11H806.78M806.78,364.39H807.88M807.82,360.83V365.68M806.72,365.14H807.82M807.82,361.79H808.92M808.86,360.43V363.97M807.76,363.19H808.86M808.86,360.56H809.96M809.90,358.36V362.38M808.80,360.47H809.90M809.90,359.67H811.00M810.94,358.17V362.64M809.84,360.96H810.94M810.94,359.95H812.04M811.98,355.39V360.46M810.88,359.07H811.98M811.98,358.30H813.08M813.02,355.58V360.56M811.92,357.08H813.02M813.02,357.11H814.12M814.06,354.33V358.05M812.96,357.46H814.06M814.06,354.64H815.16M815.10,353.65V358.00M814.00,355.03H815.10M815.10,354.03H816.20M816.14,348.03V357.12M815.04,353.67H816.14M816.14,354.31H817.24M817.18,336.41V355.79M816.08,354.48H817.18M817.18,350.58H818.28M818.22,327.43V352.31M817.12,349.69H818.22M818.22,334.21H819.32M819.26,318.67V340.94M818.16,335.77H819.26M819.26,324.58H820.36M820.30,318.54V338.27M819.20,324.52H820.30M820.30,334.43H821.40M821.34,326.13V336.31M820.24,334.60H821.34M821.34,329.03H822.44M822.38,325.23V332.83M821.28,330.45H822.38M822.38,328.40H823.48M823.42,323.39V330.71M822.32,328.05H823.42M823.42,326.54H824.52M824.46,318.93V327.64M823.36,325.92H824.46M824.46,322.65H825.56M825.50,319.54V328.38M824.40,321.58H825.50M825.50,322.70H826.60M826.54,320.24V329.36M825.44,322.64H826.54M826.54,327.60H827.64M827.58,324.12V330.89M826.48,329.06H827.58M827.58,330.41H828.68M828.62,327.11V332.45M827.52,330.30H828.62M828.62,331.01H829.72M829.66,328.97V333.00M828.56,330.71H829.66M829.66,332.24H830.76M830.70,330.10V334.67M829.60,331.91H830.70M830.70,332.04H831.80M831.74,329.17V334.59M830.64,331.87H831.74M831.74,332.65H832.84M832.78,327.32V333.32M831.68,331.68H832.78M832.78,327.88H833.88M833.82,326.67V331.11M832.72,328.14H833.82M833.82,329.83H834.92M834.86,326.39V332.11M833.76,329.21H834.86M834.86,328.62H835.96M835.90,323.76V330.96M834.80,328.52H835.90M835.90,326.20H837.00M836.94,322.53V327.80M835.84,325.03H836.94M836.94,325.25H838.04M837.98,320.20V326.07M836.88,325.16H837.98M837.98,323.10H839.08M839.02,319.39V325.78M837.92,322.41H839.02M839.02,319.97H840.12M840.06,318.77V323.67M838.96,320.94H840.06M840.06,322.05H841.16M841.10,319.35V323.58M840.00,321.03H841.10M841.10,321.98H842.20M842.14,319.39V323.25M841.04,321.72H842.14M842.14,319.92H843.24M843.18,316.59V322.62M842.08,320.21H843.18M843.18,318.51H844.28M844.22,314.29V322.19M843.12,318.40H844.22M844.22,316.76H845.32M845.26,306.86V320.04M844.16,316.13H845.26M845.26,312.68H846.36M846.30,306.19V316.90M845.20,311.17H846.30M846.30,307.54H847.40" fill="none" stroke="#000" stroke-width="1.2"/>
<polyline points="35.1,557.6 35.8,547.4 38.5,541.7 41.9,545.0 43.0,549.7 45.3,538.3 48.0,531.5 50.3,517.9 52.1,515.6 53.3,490.7 54.4,481.6 56.2,480.5 57.4,504.3 58.9,490.7 60.8,472.6 62.3,483.9 64.6,490.7 66.2,499.8 68.0,486.2 71.4,477.1 74.8,472.6 77.1,468.0 79.4,459.0 81.6,445.4 83.4,429.5 85.0,411.3 86.7,376.7 88.3,366.7 90.0,383.0 91.7,356.7 93.3,350.0 95.0,370.0 97.3,343.3 100.0,330.0 101.7,310.0 104.0,293.3 108.3,273.3 110.7,270.0 112.7,286.7 113.3,310.0 115.0,280.0 117.0,273.3 118.3,258.7 119.7,246.7 121.7,249.3 123.0,233.3 124.3,222.7 125.7,233.3 126.7,217.3 128.0,210.7 129.0,201.3 130.3,189.3 131.7,205.3 133.0,194.7 134.0,206.7 135.0,224.0 136.3,233.3 137.4,245.3 138.3,226.7 139.7,242.7 141.0,222.7 143.0,213.3 144.3,226.7 145.0,250.0 146.6,250.0 146.9,272.0 148.2,259.6 149.8,264.4 151.4,278.8 153.0,291.6 154.3,302.8 154.9,314.0 155.9,326.8 156.5,306.0 157.8,318.8 158.3,352.4 159.1,314.0 160.5,298.0 161.8,307.6 162.9,317.2 164.2,326.8 165.0,336.4 165.5,354.0 166.6,362.0 168.2,355.6 170.6,365.2 171.7,360.0 172.6,377.3 175.2,391.2 176.9,405.0 178.7,417.2 180.4,465.7 181.3,410.3 183.0,417.2 183.9,432.8 185.6,450.1 186.6,484.0 188.2,457.0 189.4,441.5 190.8,446.7 192.2,432.8 193.4,450.1 195.1,441.5 196.3,464.0 198.6,446.7 200.8,443.2 202.1,412.0 202.6,400.9 203.5,418.2 204.7,429.3 206.0,436.3 206.9,411.3 209.5,397.5 212.1,387.0 214.7,380.1 217.3,376.7 219.9,368.0 222.5,355.9 224.3,345.5 226.0,335.1 227.7,317.7 229.5,335.1 230.8,355.9 232.6,380.1 233.8,352.4 236.4,373.2 238.1,352.4 240.2,345.5 241.6,355.9 243.3,336.8 245.4,326.4 247.1,340.3 248.9,329.9 250.6,342.0 252.3,331.6 253.7,347.2 255.5,355.9 257.2,347.2 258.9,350.7 262.4,346.0 263.7,339.4 265.2,344.8 266.7,353.3 268.4,368.2 270.1,374.6 271.6,391.7 273.1,383.2 274.8,389.6 276.5,391.7 278.0,409.5 279.5,396.0 281.2,385.3 282.9,376.8 285.0,381.0 287.2,376.8 289.3,385.3 290.8,374.6 292.3,364.0 294.0,351.2 295.7,346.9 297.2,337.3 298.7,351.2 300.0,366.1 301.4,359.7 303.6,364.0 305.7,370.4 307.8,377.8 309.3,368.2 311.0,361.8 313.2,357.6 315.3,354.4 317.9,353.3 320.0,350.1 321.7,351.2 323.8,361.8 326.0,368.2 328.1,376.8 330.2,372.5 332.8,366.1 334.9,372.5 336.6,383.2 338.8,387.4 340.9,393.8 343.0,391.7 345.2,402.3 347.3,408.7 349.0,398.1 351.1,389.6 353.3,400.2 355.8,415.1 358.5,429.0 360.1,415.1 360.9,414.0 362.4,412.5 363.9,408.1 365.3,403.7 367.1,394.0 368.6,394.9 370.0,396.4 371.5,405.2 373.0,415.5 374.4,406.7 375.9,400.8 377.8,396.4 379.3,402.3 381.5,405.2 383.7,411.1 385.9,418.4 388.1,424.3 390.3,428.7 392.5,430.1 394.7,434.5 396.4,428.7 398.3,438.9 399.8,441.8 401.3,431.6 403.5,430.1 405.7,434.5 407.1,440.4 409.0,448.5 410.1,440.4 411.1,428.7 412.5,419.9 414.5,414.0 415.9,411.1 417.4,405.2 419.6,397.0 421.0,402.3 422.5,408.1 424.7,412.5 426.9,416.9 429.1,419.9 430.6,422.8 432.8,414.0 435.0,409.6 436.4,416.9 437.9,425.7 439.4,438.9 439.6,460.5 441.6,433.0 443.0,438.9 445.2,446.2 447.4,434.5 449.6,428.7 451.8,415.5 453.3,422.8 455.5,419.9 457.7,426.7 460.0,430.0 462.3,416.7 465.0,430.0 468.3,436.7 471.7,440.0 475.0,426.7 477.7,443.3 481.0,430.0 484.3,436.7 488.3,440.0 491.7,436.7 495.0,440.0 499.3,418.2 502.0,414.0 504.5,409.6 508.9,404.4 511.5,411.3 513.2,397.5 515.8,392.3 517.5,373.2 519.3,355.9 520.6,342.0 522.7,333.3 524.5,322.9 526.2,328.1 527.9,345.5 528.8,336.8 530.5,335.1 532.3,328.1 533.2,316.0 534.0,307.3 535.2,293.5 537.0,282.7 538.3,264.0 539.7,256.0 541.0,264.0 541.7,273.3 543.0,265.3 544.0,252.0 545.4,237.3 546.7,226.5 548.0,246.7 549.4,266.7 550.3,289.3 550.7,310.0 551.7,286.7 552.6,276.0 553.7,294.7 554.3,313.3 555.7,286.0 556.6,300.0 557.4,363.9 558.9,335.1 560.6,342.3 562.3,344.7 564.2,327.9 566.1,320.7 567.8,315.9 569.5,306.3 571.4,313.5 573.3,315.9 575.0,305.1 576.7,311.1 578.1,339.9 579.8,359.1 581.0,378.0 582.9,368.7 584.6,373.5 586.2,356.7 588.2,351.9 590.6,349.5 592.5,344.7 594.2,354.3 596.6,366.3 599.0,363.9 601.4,361.5 603.8,354.3 606.2,349.5 608.5,347.1 611.0,342.3 613.3,344.7 615.7,348.3 618.1,350.7 620.5,344.7 622.9,339.9 624.6,335.1 626.5,330.3 628.9,339.9 631.3,342.3 633.7,339.9 636.1,335.1 638.5,332.7 640.9,335.1 642.2,332.2 644.7,331.3 646.5,334.1 648.4,339.7 650.3,345.3 651.6,349.0 653.4,343.4 655.9,339.7 658.7,336.0 661.5,334.1 663.3,332.2 665.2,330.4 667.6,325.7 669.9,324.8 672.6,324.8 675.4,322.9 678.2,321.0 680.1,324.8 682.0,330.4 683.8,331.3 685.7,324.8 687.6,315.4 688.9,311.2 690.4,321.0 691.3,345.3 692.6,332.2 694.5,328.5 696.3,332.2 697.8,337.8 699.7,339.7 701.6,343.4 703.4,339.7 705.3,336.0 707.2,343.4 709.0,347.2 710.5,352.8 711.8,364.0 713.1,373.3 714.6,362.1 716.5,365.8 718.4,371.4 720.2,375.1 722.1,369.6 724.0,373.3 725.8,365.8 727.3,378.9 728.6,395.7 729.9,380.7 731.8,378.9 733.7,380.7 735.5,378.9 737.0,384.5 738.2,389.2 739.8,398.5 741.4,387.6 743.0,384.4 744.6,381.2 745.9,373.2 746.5,366.8 747.5,354.0 748.6,347.6 749.7,342.8 751.0,346.0 752.6,336.4 754.2,331.0 755.5,338.0 756.6,344.4 757.7,354.0 759.0,360.4 760.6,357.2 762.2,363.6 763.8,354.0 765.7,349.2 767.3,354.0 768.9,358.8 770.5,360.4 771.8,370.0 773.4,362.0 775.0,355.6 776.6,349.2 778.2,350.8 779.8,354.0 781.4,350.8 783.0,354.0 784.6,355.6 786.2,358.8 787.8,357.2 790.2,352.4 791.8,347.6 793.4,344.4 795.0,346.0 796.1,374.8 797.1,357.2 798.2,349.2 799.8,347.6 800.9,354.0 802.2,366.8 803.0,381.0 804.1,370.0 805.4,366.8 807.0,365.2 808.6,362.0 810.2,360.4 811.8,358.8 814.2,355.6 816.6,354.0 817.9,349.2 818.5,339.6 819.5,320.4 820.6,334.8 822.2,328.4 823.8,326.8 825.4,320.4 827.0,328.4 828.6,330.0 830.2,331.6 831.8,333.2 833.4,328.4 835.0,330.0 836.6,325.2 838.2,323.6 839.8,320.4 841.4,322.0 843.0,320.4 844.6,317.2 845.7,312.4 846.5,308.4" fill="none" stroke="#000" stroke-width="1.3" stroke-linejoin="miter" stroke-miterlimit="2"/>
</g>
<rect x="34.5" y="170.5" width="822.0" height="407.0" fill="none" stroke="#8c8c8c" stroke-width="1"/>
<rect x="34.5" y="591.5" width="53.0" height="141.8" fill="#e6e6e8"/>
<rect x="87.5" y="591.5" width="55.0" height="141.8" fill="#efeff1"/>
<rect x="142.5" y="591.5" width="55.0" height="141.8" fill="#e6e6e8"/>
<rect x="197.5" y="591.5" width="54.0" height="141.8" fill="#efeff1"/>
<rect x="251.5" y="591.5" width="54.0" height="141.8" fill="#e6e6e8"/>
<rect x="305.5" y="591.5" width="54.0" height="141.8" fill="#efeff1"/>
<rect x="359.5" y="591.5" width="54.0" height="141.8" fill="#e6e6e8"/>
<rect x="413.5" y="591.5" width="55.0" height="141.8" fill="#efeff1"/>
<rect x="468.5" y="591.5" width="55.0" height="141.8" fill="#e6e6e8"/>
<rect x="523.5" y="591.5" width="54.0" height="141.8" fill="#efeff1"/>
<rect x="577.5" y="591.5" width="54.0" height="141.8" fill="#e6e6e8"/>
<rect x="631.5" y="591.5" width="54.0" height="141.8" fill="#efeff1"/>
<rect x="685.5" y="591.5" width="55.0" height="141.8" fill="#e6e6e8"/>
<rect x="740.5" y="591.5" width="53.0" height="141.8" fill="#efeff1"/>
<rect x="793.5" y="591.5" width="52.0" height="141.8" fill="#e6e6e8"/>
<rect x="845.5" y="591.5" width="11.0" height="141.8" fill="#efeff1"/>
<line x1="34.5" y1="602.5" x2="856.5" y2="602.5" stroke="#c9c9cb" stroke-width="1"/>
<line x1="34.5" y1="621.5" x2="856.5" y2="621.5" stroke="#c9c9cb" stroke-width="1"/>
<line x1="34.5" y1="640.5" x2="856.5" y2="640.5" stroke="#c9c9cb" stroke-width="1"/>
<line x1="34.5" y1="659.5" x2="856.5" y2="659.5" stroke="#c9c9cb" stroke-width="1"/>
<line x1="34.5" y1="679.5" x2="856.5" y2="679.5" stroke="#c9c9cb" stroke-width="1"/>
<line x1="34.5" y1="698.5" x2="856.5" y2="698.5" stroke="#c9c9cb" stroke-width="1"/>
<line x1="34.5" y1="717.5" x2="856.5" y2="717.5" stroke="#c9c9cb" stroke-width="1"/>
<line x1="87.5" y1="591.5" x2="87.5" y2="733.3" stroke="#c0c0c2" stroke-width="1"/>
<line x1="142.5" y1="591.5" x2="142.5" y2="733.3" stroke="#c0c0c2" stroke-width="1"/>
<line x1="197.5" y1="591.5" x2="197.5" y2="733.3" stroke="#c0c0c2" stroke-width="1"/>
<line x1="251.5" y1="591.5" x2="251.5" y2="733.3" stroke="#c0c0c2" stroke-width="1"/>
<line x1="305.5" y1="591.5" x2="305.5" y2="733.3" stroke="#c0c0c2" stroke-width="1"/>
<line x1="359.5" y1="591.5" x2="359.5" y2="733.3" stroke="#c0c0c2" stroke-width="1"/>
<line x1="413.5" y1="591.5" x2="413.5" y2="733.3" stroke="#c0c0c2" stroke-width="1"/>
<line x1="468.5" y1="591.5" x2="468.5" y2="733.3" stroke="#c0c0c2" stroke-width="1"/>
<line x1="523.5" y1="591.5" x2="523.5" y2="733.3" stroke="#c0c0c2" stroke-width="1"/>
<line x1="577.5" y1="591.5" x2="577.5" y2="733.3" stroke="#c0c0c2" stroke-width="1"/>
<line x1="631.5" y1="591.5" x2="631.5" y2="733.3" stroke="#c0c0c2" stroke-width="1"/>
<line x1="685.5" y1="591.5" x2="685.5" y2="733.3" stroke="#c0c0c2" stroke-width="1"/>
<line x1="740.5" y1="591.5" x2="740.5" y2="733.3" stroke="#c0c0c2" stroke-width="1"/>
<line x1="793.5" y1="591.5" x2="793.5" y2="733.3" stroke="#c0c0c2" stroke-width="1"/>
<line x1="845.5" y1="591.5" x2="845.5" y2="733.3" stroke="#c0c0c2" stroke-width="1"/>
<line x1="60.5" y1="591.5" x2="60.5" y2="733.3" stroke="#c9c9cb" stroke-width="1"/>
<line x1="114.5" y1="591.5" x2="114.5" y2="733.3" stroke="#c9c9cb" stroke-width="1"/>
<line x1="169.5" y1="591.5" x2="169.5" y2="733.3" stroke="#c9c9cb" stroke-width="1"/>
<line x1="224.5" y1="591.5" x2="224.5" y2="733.3" stroke="#c9c9cb" stroke-width="1"/>
<line x1="278.5" y1="591.5" x2="278.5" y2="733.3" stroke="#c9c9cb" stroke-width="1"/>
<line x1="332.5" y1="591.5" x2="332.5" y2="733.3" stroke="#c9c9cb" stroke-width="1"/>
<line x1="386.5" y1="591.5" x2="386.5" y2="733.3" stroke="#c9c9cb" stroke-width="1"/>
<line x1="440.5" y1="591.5" x2="440.5" y2="733.3" stroke="#c9c9cb" stroke-width="1"/>
<line x1="496.5" y1="591.5" x2="496.5" y2="733.3" stroke="#c9c9cb" stroke-width="1"/>
<line x1="550.5" y1="591.5" x2="550.5" y2="733.3" stroke="#c9c9cb" stroke-width="1"/>
<line x1="604.5" y1="591.5" x2="604.5" y2="733.3" stroke="#c9c9cb" stroke-width="1"/>
<line x1="658.5" y1="591.5" x2="658.5" y2="733.3" stroke="#c9c9cb" stroke-width="1"/>
<line x1="712.5" y1="591.5" x2="712.5" y2="733.3" stroke="#c9c9cb" stroke-width="1"/>
<line x1="766.5" y1="591.5" x2="766.5" y2="733.3" stroke="#c9c9cb" stroke-width="1"/>
<line x1="819.5" y1="591.5" x2="819.5" y2="733.3" stroke="#c9c9cb" stroke-width="1"/>
<g clip-path="url(#cPp)">
<polygon points="34.5,659 34.5,653.3 38.4,653.3 41.8,654.4 45.1,656.7 47.3,656.7 50.7,653.3 54.0,649.4 57.3,651.1 60.7,655.6 62.9,659.0 65.1,661.1 67.3,663.9 70.7,661.1 75.1,659.4 78.4,659.0 81.8,655.0 85.1,651.1 88.4,647.2 91.8,648.9 95.1,654.4 97.9,657.2 99.6,659.0 101.8,656.7 106.2,653.9 109.6,656.7 111.8,659.4 114.0,662.2 116.2,667.8 119.6,662.2 121.8,659.4 124.0,656.7 127.3,656.4 130.0,656.5 132.0,659.0 134.0,663.3 136.0,668.0 138.0,671.3 140.7,670.0 143.3,666.0 146.0,670.0 148.7,672.0 151.3,671.3 154.0,673.3 156.7,675.3 158.7,673.3 160.7,666.0 163.3,664.0 166.0,667.3 168.0,668.7 170.0,666.7 172.7,664.7 176.0,663.3 178.7,665.3 180.7,667.3 183.3,664.7 186.0,665.3 188.7,663.3 190.7,659.0 192.7,653.3 195.3,652.7 198.0,650.7 200.7,648.7 203.3,643.3 206.0,645.3 208.7,646.7 211.3,645.3 214.0,646.7 216.7,648.7 219.3,652.0 222.0,650.7 224.7,650.0 227.3,649.3 229.3,652.7 230.7,659.0 232.7,663.3 235.3,666.0 237.3,668.0 239.3,665.3 242.0,662.0 244.7,660.0 248.0,659.5 252.0,660.7 254.7,664.0 258.7,664.0 262.7,661.3 266.7,661.3 270.7,664.0 274.7,667.3 278.7,665.3 282.0,660.7 284.0,658.0 288.0,655.3 292.0,652.7 296.7,649.3 300.0,652.0 302.7,655.3 305.3,658.7 308.0,662.0 310.7,660.7 314.7,657.3 320.0,657.3 324.0,658.7 328.0,663.3 332.0,663.3 337.3,662.7 342.7,661.3 346.7,663.3 352.0,661.3 357.3,662.7 361.3,660.0 365.3,656.5 369.0,654.0 372.3,656.0 375.7,656.7 379.7,656.7 382.3,658.7 386.3,660.7 391.7,661.3 397.0,660.7 402.3,660.0 407.7,660.0 411.0,656.7 414.3,653.3 418.3,652.7 422.3,654.0 426.3,658.0 430.3,661.3 433.0,660.0 437.0,658.7 441.0,661.3 443.7,664.0 447.7,660.0 451.0,656.7 455.7,655.3 459.7,657.3 463.7,657.3 467.7,660.0 471.7,660.7 475.7,660.7 481.0,659.7 490.0,658.5 496.7,657.8 502.0,656.5 506.0,654.8 510.0,656.3 514.0,657.5 516.7,656.0 519.3,650.0 522.7,648.3 526.0,650.7 528.0,656.0 530.0,659.5 532.0,661.3 534.7,659.3 536.7,654.7 539.3,652.3 542.0,654.7 544.7,654.7 547.3,654.0 548.7,659.3 550.0,666.7 552.7,672.0 556.7,674.7 560.7,676.7 564.7,670.7 567.3,660.0 570.7,656.7 576.0,656.0 578.0,658.7 580.7,665.3 583.3,668.0 587.3,664.0 590.0,659.3 592.7,656.7 596.7,657.3 602.0,657.3 605.3,656.0 610.7,655.7 614.7,656.0 618.7,658.5 629.3,658.8 634.7,660.5 642.7,660.2 648.0,661.2 652.0,662.5 656.0,660.0 661.3,658.8 672.0,658.8 680.0,660.3 685.3,661.0 692.0,661.5 696.0,661.0 701.3,661.0 706.7,661.5 713.3,663.3 717.3,661.5 722.2,660.9 728.4,659.5 736.2,659.3 740.9,659.0 744.8,656.2 747.9,651.6 751.8,649.2 754.9,650.8 757.2,656.2 759.5,660.9 762.7,663.2 767.3,660.9 772.0,662.4 776.7,659.3 784.4,659.0 793.8,657.8 800.0,659.3 804.6,662.4 809.3,661.7 815.5,657.8 820.2,654.3 824.9,653.9 828.0,656.2 832.6,660.1 838.9,660.9 845.1,659.3 846.5,659.0 846.5,659" fill="#232c48"/>
<line x1="34.5" y1="659" x2="846.5" y2="659" stroke="#232c48" stroke-width="1.6"/>
<polyline points="34.9,653.6 41.5,649.8 48.9,642.4 54.5,633.0 60.1,630.2 65.7,634.0 71.3,637.7 76.9,636.8 82.5,632.1 86.2,623.7 90.0,612.5 93.7,608.8 99.3,606.9 104.9,604.1 109.6,603.2 113.3,608.8 117.0,614.4 121.7,613.5 127.3,610.7 130.0,608.8 135.6,618.1 141.2,633.0 146.8,644.2 152.4,661.0 158.0,677.8 163.6,689.0 169.2,698.3 174.8,705.8 180.4,713.3 186.0,720.7 189.7,722.6 195.3,715.1 200.9,702.1 206.5,681.6 212.1,662.9 217.7,648.0 223.3,636.8 228.9,625.6 232.6,631.2 237.3,642.4 241.9,644.2 249.4,643.3 254.7,648.3 261.3,654.2 268.0,659.2 274.7,670.0 279.7,678.3 284.7,673.3 289.7,666.7 294.7,660.0 299.7,653.3 306.3,656.7 313.0,655.8 319.7,653.3 326.3,658.3 333.0,663.3 341.3,670.0 348.0,674.2 354.7,675.0 359.7,678.3 366.3,673.3 373.0,666.7 379.7,662.5 386.3,665.0 393.0,669.2 398.0,671.7 401.7,672.5 408.3,670.8 415.0,663.3 420.0,653.3 425.0,651.7 431.7,655.8 438.3,660.0 445.0,667.5 450.0,666.7 456.7,660.8 463.3,657.5 470.0,661.7 476.7,663.3 488.3,663.3 496.7,661.7 503.3,653.3 511.7,646.7 518.3,638.3 523.3,623.3 528.3,620.0 535.0,621.7 540.0,616.0 546.7,609.3 550.0,614.3 555.0,634.3 560.0,656.0 565.0,669.3 570.0,671.0 576.7,666.0 583.3,674.3 590.0,677.7 596.7,673.5 605.0,667.7 613.3,660.2 621.7,657.7 628.3,654.3 636.7,655.2 645.0,655.2 653.3,659.3 661.7,657.7 671.7,653.5 680.0,653.5 686.0,655.0 693.6,657.8 701.1,662.5 708.7,667.3 716.2,672.9 723.8,674.8 733.3,674.8 740.8,673.9 746.5,663.5 752.2,648.4 757.8,650.2 765.4,653.1 774.8,656.9 786.2,658.8 797.5,659.7 807.0,663.5 814.5,660.6 822.1,650.2 829.7,646.5 837.2,648.4 845.7,650.2" fill="none" stroke="#ffffff" stroke-opacity="0.7" stroke-width="3.5" stroke-linejoin="round"/>
<polyline points="34.9,653.6 41.5,649.8 48.9,642.4 54.5,633.0 60.1,630.2 65.7,634.0 71.3,637.7 76.9,636.8 82.5,632.1 86.2,623.7 90.0,612.5 93.7,608.8 99.3,606.9 104.9,604.1 109.6,603.2 113.3,608.8 117.0,614.4 121.7,613.5 127.3,610.7 130.0,608.8 135.6,618.1 141.2,633.0 146.8,644.2 152.4,661.0 158.0,677.8 163.6,689.0 169.2,698.3 174.8,705.8 180.4,713.3 186.0,720.7 189.7,722.6 195.3,715.1 200.9,702.1 206.5,681.6 212.1,662.9 217.7,648.0 223.3,636.8 228.9,625.6 232.6,631.2 237.3,642.4 241.9,644.2 249.4,643.3 254.7,648.3 261.3,654.2 268.0,659.2 274.7,670.0 279.7,678.3 284.7,673.3 289.7,666.7 294.7,660.0 299.7,653.3 306.3,656.7 313.0,655.8 319.7,653.3 326.3,658.3 333.0,663.3 341.3,670.0 348.0,674.2 354.7,675.0 359.7,678.3 366.3,673.3 373.0,666.7 379.7,662.5 386.3,665.0 393.0,669.2 398.0,671.7 401.7,672.5 408.3,670.8 415.0,663.3 420.0,653.3 425.0,651.7 431.7,655.8 438.3,660.0 445.0,667.5 450.0,666.7 456.7,660.8 463.3,657.5 470.0,661.7 476.7,663.3 488.3,663.3 496.7,661.7 503.3,653.3 511.7,646.7 518.3,638.3 523.3,623.3 528.3,620.0 535.0,621.7 540.0,616.0 546.7,609.3 550.0,614.3 555.0,634.3 560.0,656.0 565.0,669.3 570.0,671.0 576.7,666.0 583.3,674.3 590.0,677.7 596.7,673.5 605.0,667.7 613.3,660.2 621.7,657.7 628.3,654.3 636.7,655.2 645.0,655.2 653.3,659.3 661.7,657.7 671.7,653.5 680.0,653.5 686.0,655.0 693.6,657.8 701.1,662.5 708.7,667.3 716.2,672.9 723.8,674.8 733.3,674.8 740.8,673.9 746.5,663.5 752.2,648.4 757.8,650.2 765.4,653.1 774.8,656.9 786.2,658.8 797.5,659.7 807.0,663.5 814.5,660.6 822.1,650.2 829.7,646.5 837.2,648.4 845.7,650.2" fill="none" stroke="#5fa8b8" stroke-width="1.6" stroke-linejoin="round"/>
<polyline points="34.9,651.7 37.7,648.0 41.5,646.1 45.2,643.3 48.9,636.8 52.7,629.3 55.5,627.4 58.3,629.3 61.1,627.1 63.9,631.2 67.6,636.8 71.3,639.6 75.0,637.7 78.8,635.8 82.5,629.3 85.3,620.0 88.1,608.8 90.0,604.1 92.8,605.1 96.5,607.9 99.3,608.8 103.0,606.0 105.8,603.2 108.6,602.3 112.4,608.8 116.1,620.0 119.8,615.3 123.6,610.7 127.3,608.8 130.1,606.9 132.8,610.7 135.6,625.6 139.3,636.8 143.1,640.5 146.8,651.7 150.5,662.9 154.3,679.7 158.0,692.7 161.7,693.7 165.4,698.3 169.2,705.8 172.9,707.7 176.6,712.3 180.4,717.0 184.1,722.6 187.8,725.4 190.6,720.7 193.4,711.4 196.2,707.7 199.0,698.3 202.8,683.4 206.5,672.2 210.2,659.2 214.0,648.0 217.7,642.4 221.4,636.8 225.1,628.4 227.4,622.8 230.7,629.3 234.5,638.6 237.3,646.1 240.1,648.0 242.9,644.2 246.6,643.3 249.4,644.2 253.0,646.7 256.3,653.3 261.3,655.8 266.3,656.7 269.7,663.3 273.0,671.7 276.3,678.3 279.7,681.3 283.0,676.7 286.3,671.7 289.7,668.3 293.0,661.7 296.3,650.0 299.7,651.7 303.0,655.0 306.3,657.5 309.7,658.3 313.0,655.0 316.3,654.2 321.3,652.5 324.7,656.7 328.0,661.7 333.0,665.0 338.0,670.0 343.0,674.2 348.0,676.7 351.3,673.3 355.5,674.2 359.7,679.7 363.0,675.8 366.3,670.8 369.7,666.7 373.0,665.0 376.3,662.5 379.7,662.5 384.7,665.8 389.7,669.2 393.0,670.8 398.0,671.7 400.0,672.5 405.0,670.8 410.0,669.2 413.3,661.7 416.7,655.0 421.7,650.0 426.7,653.3 431.7,657.5 436.7,660.0 440.0,663.3 443.3,669.2 446.7,670.0 450.0,665.8 453.3,661.7 458.3,658.3 463.3,657.5 468.3,659.2 471.7,664.2 475.0,663.3 481.7,662.5 488.3,662.5 495.0,660.8 500.0,655.8 505.0,649.2 510.0,645.8 515.0,642.5 518.3,633.3 521.7,621.7 525.0,616.7 528.3,621.7 531.7,626.7 535.0,623.3 538.3,613.3 541.7,611.7 543.3,612.7 546.7,607.7 549.2,617.7 551.7,632.7 555.0,649.3 558.3,666.0 561.7,677.7 564.2,678.5 567.5,672.7 571.7,669.3 575.8,663.5 578.3,666.0 580.8,674.3 583.3,681.0 585.8,684.3 588.3,681.8 591.7,677.7 596.7,674.3 601.7,670.2 606.7,664.3 611.7,660.2 616.7,658.5 621.7,656.8 626.7,652.7 630.0,654.3 635.0,655.2 640.0,654.3 645.0,655.2 650.0,659.3 655.0,661.0 660.0,658.5 665.0,656.0 670.0,653.5 676.7,652.7 681.7,654.3 685.0,656.8 688.8,653.6 691.7,656.9 697.3,660.6 703.0,664.4 708.7,669.1 714.4,672.9 720.0,674.8 725.7,675.8 731.4,674.8 737.0,673.9 740.8,672.0 743.7,665.4 746.5,655.9 750.3,646.5 753.1,642.7 756.9,648.4 760.7,654.0 765.4,654.0 770.1,655.9 774.8,659.7 780.5,657.8 786.2,659.7 791.9,657.8 797.5,659.7 803.2,662.5 807.0,664.4 812.7,661.6 818.3,655.9 822.1,648.4 825.9,643.6 829.7,646.5 835.3,648.4 841.0,649.3 845.7,649.3" fill="none" stroke="#ffffff" stroke-opacity="0.6" stroke-width="3.5" stroke-linejoin="round"/>
<polyline points="34.9,651.7 37.7,648.0 41.5,646.1 45.2,643.3 48.9,636.8 52.7,629.3 55.5,627.4 58.3,629.3 61.1,627.1 63.9,631.2 67.6,636.8 71.3,639.6 75.0,637.7 78.8,635.8 82.5,629.3 85.3,620.0 88.1,608.8 90.0,604.1 92.8,605.1 96.5,607.9 99.3,608.8 103.0,606.0 105.8,603.2 108.6,602.3 112.4,608.8 116.1,620.0 119.8,615.3 123.6,610.7 127.3,608.8 130.1,606.9 132.8,610.7 135.6,625.6 139.3,636.8 143.1,640.5 146.8,651.7 150.5,662.9 154.3,679.7 158.0,692.7 161.7,693.7 165.4,698.3 169.2,705.8 172.9,707.7 176.6,712.3 180.4,717.0 184.1,722.6 187.8,725.4 190.6,720.7 193.4,711.4 196.2,707.7 199.0,698.3 202.8,683.4 206.5,672.2 210.2,659.2 214.0,648.0 217.7,642.4 221.4,636.8 225.1,628.4 227.4,622.8 230.7,629.3 234.5,638.6 237.3,646.1 240.1,648.0 242.9,644.2 246.6,643.3 249.4,644.2 253.0,646.7 256.3,653.3 261.3,655.8 266.3,656.7 269.7,663.3 273.0,671.7 276.3,678.3 279.7,681.3 283.0,676.7 286.3,671.7 289.7,668.3 293.0,661.7 296.3,650.0 299.7,651.7 303.0,655.0 306.3,657.5 309.7,658.3 313.0,655.0 316.3,654.2 321.3,652.5 324.7,656.7 328.0,661.7 333.0,665.0 338.0,670.0 343.0,674.2 348.0,676.7 351.3,673.3 355.5,674.2 359.7,679.7 363.0,675.8 366.3,670.8 369.7,666.7 373.0,665.0 376.3,662.5 379.7,662.5 384.7,665.8 389.7,669.2 393.0,670.8 398.0,671.7 400.0,672.5 405.0,670.8 410.0,669.2 413.3,661.7 416.7,655.0 421.7,650.0 426.7,653.3 431.7,657.5 436.7,660.0 440.0,663.3 443.3,669.2 446.7,670.0 450.0,665.8 453.3,661.7 458.3,658.3 463.3,657.5 468.3,659.2 471.7,664.2 475.0,663.3 481.7,662.5 488.3,662.5 495.0,660.8 500.0,655.8 505.0,649.2 510.0,645.8 515.0,642.5 518.3,633.3 521.7,621.7 525.0,616.7 528.3,621.7 531.7,626.7 535.0,623.3 538.3,613.3 541.7,611.7 543.3,612.7 546.7,607.7 549.2,617.7 551.7,632.7 555.0,649.3 558.3,666.0 561.7,677.7 564.2,678.5 567.5,672.7 571.7,669.3 575.8,663.5 578.3,666.0 580.8,674.3 583.3,681.0 585.8,684.3 588.3,681.8 591.7,677.7 596.7,674.3 601.7,670.2 606.7,664.3 611.7,660.2 616.7,658.5 621.7,656.8 626.7,652.7 630.0,654.3 635.0,655.2 640.0,654.3 645.0,655.2 650.0,659.3 655.0,661.0 660.0,658.5 665.0,656.0 670.0,653.5 676.7,652.7 681.7,654.3 685.0,656.8 688.8,653.6 691.7,656.9 697.3,660.6 703.0,664.4 708.7,669.1 714.4,672.9 720.0,674.8 725.7,675.8 731.4,674.8 737.0,673.9 740.8,672.0 743.7,665.4 746.5,655.9 750.3,646.5 753.1,642.7 756.9,648.4 760.7,654.0 765.4,654.0 770.1,655.9 774.8,659.7 780.5,657.8 786.2,659.7 791.9,657.8 797.5,659.7 803.2,662.5 807.0,664.4 812.7,661.6 818.3,655.9 822.1,648.4 825.9,643.6 829.7,646.5 835.3,648.4 841.0,649.3 845.7,649.3" fill="none" stroke="#4a5878" stroke-width="2" stroke-linejoin="round"/>
<line x1="752.2" y1="640.4" x2="812.7" y2="660.6" stroke="#22a022" stroke-width="2.8"/>
<line x1="825.9" y1="642.7" x2="846.7" y2="650.6" stroke="#d83040" stroke-width="2.2"/>
</g>
<rect x="34.5" y="591.5" width="822.0" height="141.8" fill="none" stroke="#8c8c8c" stroke-width="1"/>
<g clip-path="url(#cPr)"><line x1="35.0" y1="311.0" x2="856.0" y2="311.0" stroke="#0c0c88" stroke-width="2.2"/>
<line x1="35.0" y1="347.0" x2="856.0" y2="347.0" stroke="#000" stroke-width="2.3"/>
<line x1="689" y1="311.2" x2="804" y2="349" stroke="#e02828" stroke-width="2.6" stroke-dasharray="6,4"/>
<line x1="737.1" y1="394" x2="804" y2="348" stroke="#e02828" stroke-width="2.6" stroke-dasharray="6,4"/>
<line x1="801.7" y1="382.7" x2="846" y2="322.6" stroke="#e03030" stroke-width="2"/>
<path d="M209.4,302.4 L245.6,302.4 L245.6,312.4 L233.0,312.4 L228.0,317.0 L223.0,312.4 L209.4,312.4 Z" fill="#f4f6fa" fill-opacity="0.85" stroke="#a8b0bc" stroke-width="1"/>
<text x="211.2" y="310.6" font-family="Liberation Sans, sans-serif" font-size="9.2" fill="#101820" stroke="#101820" stroke-width="0.25" textLength="32.6" lengthAdjust="spacingAndGlyphs">3478.01</text>
<path d="M278.6,321.4 L313.6,321.4 L313.6,331.4 L302.0,331.4 L297.0,337.0 L292.0,331.4 L278.6,331.4 Z" fill="#f4f6fa" fill-opacity="0.85" stroke="#a8b0bc" stroke-width="1"/>
<text x="280.4" y="329.6" font-family="Liberation Sans, sans-serif" font-size="9.2" fill="#101820" stroke="#101820" stroke-width="0.25" textLength="31.4" lengthAdjust="spacingAndGlyphs">3186.72</text>
<path d="M258.6,415.0 L272.6,415.0 L277.6,410.0 L282.6,415.0 L295.2,415.0 L295.2,425.5 L258.6,425.5 Z" fill="#f4f6fa" fill-opacity="0.85" stroke="#a8b0bc" stroke-width="1"/>
<text x="260.4" y="423.7" font-family="Liberation Sans, sans-serif" font-size="9.2" fill="#101820" stroke="#101820" stroke-width="0.25" textLength="33.0" lengthAdjust="spacingAndGlyphs">2319.73</text>
<path d="M340.5,434.6 L354.3,434.6 L359.3,429.7 L364.3,434.6 L376.6,434.6 L376.6,444.4 L340.5,444.4 Z" fill="#f4f6fa" fill-opacity="0.85" stroke="#a8b0bc" stroke-width="1"/>
<text x="342.3" y="442.6" font-family="Liberation Sans, sans-serif" font-size="9.2" fill="#101820" stroke="#101820" stroke-width="0.25" textLength="32.5" lengthAdjust="spacingAndGlyphs">2132.63</text>
<path d="M349.0,379.0 L384.5,379.0 L384.5,388.9 L371.9,388.9 L366.9,393.5 L361.9,388.9 L349.0,388.9 Z" fill="#f4f6fa" fill-opacity="0.85" stroke="#a8b0bc" stroke-width="1"/>
<text x="350.8" y="387.1" font-family="Liberation Sans, sans-serif" font-size="9.2" fill="#101820" stroke="#101820" stroke-width="0.25" textLength="31.9" lengthAdjust="spacingAndGlyphs">2478.38</text>
<path d="M399.9,381.5 L436.3,381.5 L436.3,391.3 L424.4,391.3 L419.4,396.7 L414.4,391.3 L399.9,391.3 Z" fill="#f4f6fa" fill-opacity="0.85" stroke="#a8b0bc" stroke-width="1"/>
<text x="401.7" y="389.5" font-family="Liberation Sans, sans-serif" font-size="9.2" fill="#101820" stroke="#101820" stroke-width="0.25" textLength="32.8" lengthAdjust="spacingAndGlyphs">2443.03</text>
<path d="M390.6,454.0 L404.0,454.0 L409.0,449.0 L414.0,454.0 L426.0,454.0 L426.0,464.6 L390.6,464.6 Z" fill="#f4f6fa" fill-opacity="0.85" stroke="#a8b0bc" stroke-width="1"/>
<text x="392.4" y="462.8" font-family="Liberation Sans, sans-serif" font-size="9.2" fill="#101820" stroke="#101820" stroke-width="0.25" textLength="31.8" lengthAdjust="spacingAndGlyphs">1949.46</text>
<path d="M421.1,466.4 L434.5,466.4 L439.5,461.5 L444.5,466.4 L456.1,466.4 L456.1,476.6 L421.1,476.6 Z" fill="#f4f6fa" fill-opacity="0.85" stroke="#a8b0bc" stroke-width="1"/>
<text x="422.9" y="474.8" font-family="Liberation Sans, sans-serif" font-size="9.2" fill="#101820" stroke="#101820" stroke-width="0.25" textLength="31.4" lengthAdjust="spacingAndGlyphs">1849.65</text>
<path d="M167.6,490.6 L181.1,490.6 L186.1,485.0 L191.1,490.6 L203.6,490.6 L203.6,500.2 L167.6,500.2 Z" fill="#f4f6fa" fill-opacity="0.85" stroke="#a8b0bc" stroke-width="1"/>
<text x="169.4" y="498.4" font-family="Liberation Sans, sans-serif" font-size="9.2" fill="#101820" stroke="#101820" stroke-width="0.25" textLength="32.4" lengthAdjust="spacingAndGlyphs">1664.92</text>
<path d="M527.5,212.0 L563.5,212.0 L563.5,221.9 L551.7,221.9 L546.7,226.7 L541.7,221.9 L527.5,221.9 Z" fill="#f4f6fa" fill-opacity="0.85" stroke="#a8b0bc" stroke-width="1"/>
<text x="529.3" y="220.1" font-family="Liberation Sans, sans-serif" font-size="9.2" fill="#101820" stroke="#101820" stroke-width="0.25" textLength="32.4" lengthAdjust="spacingAndGlyphs">5178.19</text>
<path d="M538.7,369.3 L552.3,369.3 L557.3,364.0 L562.3,369.3 L575.2,369.3 L575.2,379.5 L538.7,379.5 Z" fill="#f4f6fa" fill-opacity="0.85" stroke="#a8b0bc" stroke-width="1"/>
<text x="540.5" y="377.7" font-family="Liberation Sans, sans-serif" font-size="9.2" fill="#101820" stroke="#101820" stroke-width="0.25" textLength="32.9" lengthAdjust="spacingAndGlyphs">2850.71</text>
<path d="M561.9,386.7 L575.0,386.7 L580.0,381.3 L585.0,386.7 L597.3,386.7 L597.3,396.8 L561.9,396.8 Z" fill="#f4f6fa" fill-opacity="0.85" stroke="#a8b0bc" stroke-width="1"/>
<text x="563.7" y="395.0" font-family="Liberation Sans, sans-serif" font-size="9.2" fill="#101820" stroke="#101820" stroke-width="0.25" textLength="31.8" lengthAdjust="spacingAndGlyphs">2638.30</text>
<path d="M670.2,295.4 L706.5,295.4 L706.5,305.1 L694.0,305.1 L689.0,310.8 L684.0,305.1 L670.2,305.1 Z" fill="#f4f6fa" fill-opacity="0.85" stroke="#a8b0bc" stroke-width="1"/>
<text x="672.0" y="303.3" font-family="Liberation Sans, sans-serif" font-size="9.2" fill="#101820" stroke="#101820" stroke-width="0.25" textLength="32.7" lengthAdjust="spacingAndGlyphs">3587.03</text>
<path d="M734.8,315.3 L770.4,315.3 L770.4,324.4 L758.0,324.4 L753.0,330.5 L748.0,324.4 L734.8,324.4 Z" fill="#f4f6fa" fill-opacity="0.85" stroke="#a8b0bc" stroke-width="1"/>
<text x="736.6" y="322.6" font-family="Liberation Sans, sans-serif" font-size="9.2" fill="#101820" stroke="#101820" stroke-width="0.25" textLength="32.0" lengthAdjust="spacingAndGlyphs">3288.45</text>
<path d="M783.6,384.9 L796.7,384.9 L801.7,381.5 L806.7,384.9 L818.7,384.9 L818.7,395.1 L783.6,395.1 Z" fill="#f4f6fa" fill-opacity="0.85" stroke="#a8b0bc" stroke-width="1"/>
<text x="785.4" y="393.3" font-family="Liberation Sans, sans-serif" font-size="9.2" fill="#101820" stroke="#101820" stroke-width="0.25" textLength="31.5" lengthAdjust="spacingAndGlyphs">2646.80</text>
<path d="M721.2,403.7 L734.8,403.7 L739.8,398.5 L744.8,403.7 L757.5,403.7 L757.5,413.7 L721.2,413.7 Z" fill="#f4f6fa" fill-opacity="0.85" stroke="#a8b0bc" stroke-width="1"/>
<text x="723.0" y="411.9" font-family="Liberation Sans, sans-serif" font-size="9.2" fill="#101820" stroke="#101820" stroke-width="0.25" textLength="32.7" lengthAdjust="spacingAndGlyphs">2440.91</text>
<path d="M793.4,263 L797,263 L797,344.5 L795.5,344.5 Z" fill="#9a9a9a" fill-opacity="0.6"/>
<rect x="693" y="285.6" width="95.7" height="2.2" fill="#9a9a9a" fill-opacity="0.55"/>
<path d="M691.3,260.9 L794.4,260.9 L794.4,285.6 L795,344.3 L788.7,285.6 L691.3,285.6 Z" fill="#ffffff" stroke="#8a8a8a" stroke-width="1"/>
<text x="694.5" y="277.7" font-family="Liberation Sans, sans-serif" font-weight="bold" font-size="14.5" fill="#d0101c">Covid19</text>
<rect x="35" y="171" width="127" height="12" fill="#ffffff" fill-opacity="0.75"/>
<rect x="35" y="183" width="81" height="29" fill="#f2f2f4" fill-opacity="0.8"/>
<path d="M117,183 L125,183 L129.5,188 L134,183 L147,183" fill="none" stroke="#b8b8b8" stroke-width="1"/>
<text x="47.9" y="180.3" font-family="Liberation Sans, sans-serif" font-size="9.2" fill="#111" textLength="111" lengthAdjust="spacingAndGlyphs">$SSEC (Weekly) 3565.90</text>
<path d="M38,173.5 v7 M36.5,178.5 l1.5,2 l1.5,-2 M42,173.5 v7 M40.5,175.5 l1.5,-2 l1.5,2" stroke="#111" stroke-width="1" fill="none"/>
<rect x="36.5" y="185.8" width="8" height="2" fill="#3a9aa0"/>
<text x="47" y="189.8" font-family="Liberation Sans, sans-serif" font-size="9.2" fill="#3a9aa0" textLength="68" lengthAdjust="spacingAndGlyphs">MA(10) 3425.50</text>
<rect x="36.5" y="195.6" width="8" height="2" fill="#7cc43c"/>
<text x="47" y="199.6" font-family="Liberation Sans, sans-serif" font-size="9.2" fill="#7cc43c" textLength="68" lengthAdjust="spacingAndGlyphs">MA(40) 3203.46</text>
<rect x="36.5" y="205.4" width="8" height="2" fill="#e0803c"/>
<text x="47.9" y="209.4" font-family="Liberation Sans, sans-serif" font-size="9.2" fill="#e0803c" textLength="65" lengthAdjust="spacingAndGlyphs">$COPPER 3.66</text></g>
<rect x="35" y="29" width="78" height="10.5" fill="#f2f2f5" fill-opacity="0.95"/>
<path d="M37,38 L39,33 L41,35.5 L43,32.5 L46,38 Z" fill="#6c7898" stroke="#6c7898" stroke-width="1"/>
<text x="47.8" y="37.4" font-family="Liberation Sans, sans-serif" font-size="9.2" fill="#111" textLength="58.9" lengthAdjust="spacingAndGlyphs">RSI(14) 65.46</text>
<rect x="35" y="592" width="158" height="12" fill="#f4f4f6" fill-opacity="0.85"/>
<rect x="37" y="596" width="8" height="2" fill="#3a4668"/>
<text x="48" y="601" font-family="Liberation Sans, sans-serif" font-size="9.2" fill="#111" textLength="142.7" lengthAdjust="spacingAndGlyphs">PPO(12,26,9) 2.866, <tspan fill="#3a9aa0">2.572</tspan>, 0.294</text>
<line x1="856.5" y1="48.4" x2="859" y2="48.4" stroke="#777" stroke-width="1"/>
<text x="859.8" y="51.1" font-family="Liberation Sans, sans-serif" font-size="9.2" fill="#1a1a1a" textLength="11.2" lengthAdjust="spacingAndGlyphs">90</text>
<line x1="856.5" y1="74.2" x2="859" y2="74.2" stroke="#777" stroke-width="1"/>
<text x="859.8" y="76.9" font-family="Liberation Sans, sans-serif" font-size="9.2" fill="#1a1a1a" textLength="11.2" lengthAdjust="spacingAndGlyphs">70</text>
<line x1="856.5" y1="100.0" x2="859" y2="100.0" stroke="#777" stroke-width="1"/>
<text x="859.8" y="102.7" font-family="Liberation Sans, sans-serif" font-size="9.2" fill="#1a1a1a" textLength="11.2" lengthAdjust="spacingAndGlyphs">50</text>
<line x1="856.5" y1="125.8" x2="859" y2="125.8" stroke="#777" stroke-width="1"/>
<text x="859.8" y="128.5" font-family="Liberation Sans, sans-serif" font-size="9.2" fill="#1a1a1a" textLength="11.2" lengthAdjust="spacingAndGlyphs">30</text>
<line x1="856.5" y1="151.6" x2="859" y2="151.6" stroke="#777" stroke-width="1"/>
<text x="859.8" y="154.3" font-family="Liberation Sans, sans-serif" font-size="9.2" fill="#1a1a1a" textLength="11.2" lengthAdjust="spacingAndGlyphs">10</text>
<line x1="856.5" y1="185.7" x2="859" y2="185.7" stroke="#777" stroke-width="1"/>
<text x="859.8" y="188.4" font-family="Liberation Sans, sans-serif" font-size="9.2" fill="#1a1a1a" textLength="22.4" lengthAdjust="spacingAndGlyphs">6250</text>
<line x1="856.5" y1="194.9" x2="859" y2="194.9" stroke="#777" stroke-width="1"/>
<text x="859.8" y="197.6" font-family="Liberation Sans, sans-serif" font-size="9.2" fill="#1a1a1a" textLength="22.4" lengthAdjust="spacingAndGlyphs">6000</text>
<line x1="856.5" y1="204.5" x2="859" y2="204.5" stroke="#777" stroke-width="1"/>
<text x="859.8" y="207.2" font-family="Liberation Sans, sans-serif" font-size="9.2" fill="#1a1a1a" textLength="22.4" lengthAdjust="spacingAndGlyphs">5750</text>
<line x1="856.5" y1="214.6" x2="859" y2="214.6" stroke="#777" stroke-width="1"/>
<text x="859.8" y="217.3" font-family="Liberation Sans, sans-serif" font-size="9.2" fill="#1a1a1a" textLength="22.4" lengthAdjust="spacingAndGlyphs">5500</text>
<line x1="856.5" y1="225.1" x2="859" y2="225.1" stroke="#777" stroke-width="1"/>
<text x="859.8" y="227.8" font-family="Liberation Sans, sans-serif" font-size="9.2" fill="#1a1a1a" textLength="22.4" lengthAdjust="spacingAndGlyphs">5250</text>
<line x1="856.5" y1="236.1" x2="859" y2="236.1" stroke="#777" stroke-width="1"/>
<text x="859.8" y="238.8" font-family="Liberation Sans, sans-serif" font-size="9.2" fill="#1a1a1a" textLength="22.4" lengthAdjust="spacingAndGlyphs">5000</text>
<line x1="856.5" y1="247.7" x2="859" y2="247.7" stroke="#777" stroke-width="1"/>
<text x="859.8" y="250.4" font-family="Liberation Sans, sans-serif" font-size="9.2" fill="#1a1a1a" textLength="22.4" lengthAdjust="spacingAndGlyphs">4750</text>
<line x1="856.5" y1="259.9" x2="859" y2="259.9" stroke="#777" stroke-width="1"/>
<text x="859.8" y="262.6" font-family="Liberation Sans, sans-serif" font-size="9.2" fill="#1a1a1a" textLength="22.4" lengthAdjust="spacingAndGlyphs">4500</text>
<line x1="856.5" y1="272.8" x2="859" y2="272.8" stroke="#777" stroke-width="1"/>
<text x="859.8" y="275.5" font-family="Liberation Sans, sans-serif" font-size="9.2" fill="#1a1a1a" textLength="22.4" lengthAdjust="spacingAndGlyphs">4250</text>
<line x1="856.5" y1="286.5" x2="859" y2="286.5" stroke="#777" stroke-width="1"/>
<text x="859.8" y="289.2" font-family="Liberation Sans, sans-serif" font-size="9.2" fill="#1a1a1a" textLength="22.4" lengthAdjust="spacingAndGlyphs">4000</text>
<line x1="856.5" y1="301.1" x2="859" y2="301.1" stroke="#777" stroke-width="1"/>
<text x="859.8" y="303.8" font-family="Liberation Sans, sans-serif" font-size="9.2" fill="#1a1a1a" textLength="22.4" lengthAdjust="spacingAndGlyphs">3750</text>
<line x1="856.5" y1="316.7" x2="859" y2="316.7" stroke="#777" stroke-width="1"/>
<text x="859.8" y="319.4" font-family="Liberation Sans, sans-serif" font-size="9.2" fill="#1a1a1a" textLength="22.4" lengthAdjust="spacingAndGlyphs">3500</text>
<line x1="856.5" y1="333.4" x2="859" y2="333.4" stroke="#777" stroke-width="1"/>
<text x="859.8" y="336.1" font-family="Liberation Sans, sans-serif" font-size="9.2" fill="#1a1a1a" textLength="22.4" lengthAdjust="spacingAndGlyphs">3250</text>
<line x1="856.5" y1="351.5" x2="859" y2="351.5" stroke="#777" stroke-width="1"/>
<text x="859.8" y="354.2" font-family="Liberation Sans, sans-serif" font-size="9.2" fill="#1a1a1a" textLength="22.4" lengthAdjust="spacingAndGlyphs">3000</text>
<line x1="856.5" y1="371.2" x2="859" y2="371.2" stroke="#777" stroke-width="1"/>
<text x="859.8" y="373.9" font-family="Liberation Sans, sans-serif" font-size="9.2" fill="#1a1a1a" textLength="22.4" lengthAdjust="spacingAndGlyphs">2750</text>
<line x1="856.5" y1="392.7" x2="859" y2="392.7" stroke="#777" stroke-width="1"/>
<text x="859.8" y="395.4" font-family="Liberation Sans, sans-serif" font-size="9.2" fill="#1a1a1a" textLength="22.4" lengthAdjust="spacingAndGlyphs">2500</text>
<line x1="856.5" y1="416.5" x2="859" y2="416.5" stroke="#777" stroke-width="1"/>
<text x="859.8" y="419.2" font-family="Liberation Sans, sans-serif" font-size="9.2" fill="#1a1a1a" textLength="22.4" lengthAdjust="spacingAndGlyphs">2250</text>
<line x1="856.5" y1="443.1" x2="859" y2="443.1" stroke="#777" stroke-width="1"/>
<text x="859.8" y="445.8" font-family="Liberation Sans, sans-serif" font-size="9.2" fill="#1a1a1a" textLength="22.4" lengthAdjust="spacingAndGlyphs">2000</text>
<line x1="856.5" y1="473.3" x2="859" y2="473.3" stroke="#777" stroke-width="1"/>
<text x="859.8" y="476.0" font-family="Liberation Sans, sans-serif" font-size="9.2" fill="#1a1a1a" textLength="22.4" lengthAdjust="spacingAndGlyphs">1750</text>
<line x1="856.5" y1="508.1" x2="859" y2="508.1" stroke="#777" stroke-width="1"/>
<text x="859.8" y="510.8" font-family="Liberation Sans, sans-serif" font-size="9.2" fill="#1a1a1a" textLength="22.4" lengthAdjust="spacingAndGlyphs">1500</text>
<line x1="856.5" y1="549.3" x2="859" y2="549.3" stroke="#777" stroke-width="1"/>
<text x="859.8" y="552.0" font-family="Liberation Sans, sans-serif" font-size="9.2" fill="#1a1a1a" textLength="22.4" lengthAdjust="spacingAndGlyphs">1250</text>
<line x1="856.5" y1="602.3" x2="859" y2="602.3" stroke="#777" stroke-width="1"/>
<text x="862.8" y="605.0" font-family="Liberation Sans, sans-serif" font-size="9.2" fill="#1a1a1a" textLength="11.2" lengthAdjust="spacingAndGlyphs">15</text>
<line x1="856.5" y1="621.5" x2="859" y2="621.5" stroke="#777" stroke-width="1"/>
<text x="862.8" y="624.2" font-family="Liberation Sans, sans-serif" font-size="9.2" fill="#1a1a1a" textLength="11.2" lengthAdjust="spacingAndGlyphs">10</text>
<line x1="856.5" y1="640.7" x2="859" y2="640.7" stroke="#777" stroke-width="1"/>
<text x="868.4" y="643.4" font-family="Liberation Sans, sans-serif" font-size="9.2" fill="#1a1a1a" textLength="5.6" lengthAdjust="spacingAndGlyphs">5</text>
<line x1="856.5" y1="659.9" x2="859" y2="659.9" stroke="#777" stroke-width="1"/>
<text x="868.4" y="662.6" font-family="Liberation Sans, sans-serif" font-size="9.2" fill="#1a1a1a" textLength="5.6" lengthAdjust="spacingAndGlyphs">0</text>
<line x1="856.5" y1="679.1" x2="859" y2="679.1" stroke="#777" stroke-width="1"/>
<text x="864.0" y="681.8" font-family="Liberation Sans, sans-serif" font-size="9.2" fill="#1a1a1a" textLength="10.0" lengthAdjust="spacingAndGlyphs">-5</text>
<line x1="856.5" y1="698.3" x2="859" y2="698.3" stroke="#777" stroke-width="1"/>
<text x="858.4" y="701.0" font-family="Liberation Sans, sans-serif" font-size="9.2" fill="#1a1a1a" textLength="15.6" lengthAdjust="spacingAndGlyphs">-10</text>
<line x1="856.5" y1="717.5" x2="859" y2="717.5" stroke="#777" stroke-width="1"/>
<text x="858.4" y="720.2" font-family="Liberation Sans, sans-serif" font-size="9.2" fill="#1a1a1a" textLength="15.6" lengthAdjust="spacingAndGlyphs">-15</text>
<path d="M856.5,725.2h2M856.5,721.3h2M856.5,717.5h2M856.5,713.7h2M856.5,709.8h2M856.5,706.0h2M856.5,702.1h2M856.5,698.3h2M856.5,694.5h2M856.5,690.6h2M856.5,686.8h2M856.5,682.9h2M856.5,679.1h2M856.5,675.3h2M856.5,671.4h2M856.5,667.6h2M856.5,663.7h2M856.5,659.9h2M856.5,656.1h2M856.5,652.2h2M856.5,648.4h2M856.5,644.5h2M856.5,640.7h2M856.5,636.9h2M856.5,633.0h2M856.5,629.2h2M856.5,625.3h2M856.5,621.5h2M856.5,617.7h2M856.5,613.8h2M856.5,610.0h2M856.5,606.1h2M856.5,602.3h2M856.5,598.5h2M856.5,594.6h2M856.5,164.5h2M856.5,158.1h2M856.5,151.6h2M856.5,145.2h2M856.5,138.7h2M856.5,132.2h2M856.5,125.8h2M856.5,119.3h2M856.5,112.9h2M856.5,106.4h2M856.5,100.0h2M856.5,93.5h2M856.5,87.1h2M856.5,80.6h2M856.5,74.2h2M856.5,67.8h2M856.5,61.3h2M856.5,54.8h2M856.5,48.4h2M856.5,42.0h2M856.5,35.5h2M856.5,568.1h2M856.5,558.5h2M856.5,549.3h2M856.5,540.4h2M856.5,531.9h2M856.5,523.7h2M856.5,515.7h2M856.5,508.1h2M856.5,500.7h2M856.5,493.5h2M856.5,486.6h2M856.5,479.8h2M856.5,473.3h2M856.5,466.9h2M856.5,460.7h2M856.5,454.7h2M856.5,448.8h2M856.5,443.1h2M856.5,437.5h2M856.5,432.1h2M856.5,426.8h2M856.5,421.6h2M856.5,416.5h2M856.5,411.5h2M856.5,406.7h2M856.5,401.9h2M856.5,397.3h2M856.5,392.7h2M856.5,388.2h2M856.5,383.8h2M856.5,379.5h2M856.5,375.3h2M856.5,371.2h2M856.5,367.1h2M856.5,363.1h2M856.5,359.2h2M856.5,355.3h2M856.5,351.5h2M856.5,347.8h2M856.5,344.1h2M856.5,340.5h2M856.5,336.9h2M856.5,333.4h2M856.5,330.0h2M856.5,326.6h2M856.5,323.2h2M856.5,319.9h2M856.5,316.7h2M856.5,313.5h2M856.5,310.3h2M856.5,307.2h2M856.5,304.1h2M856.5,301.1h2M856.5,298.1h2M856.5,295.1h2M856.5,292.2h2M856.5,289.4h2M856.5,286.5h2M856.5,283.7h2M856.5,280.9h2M856.5,278.2h2M856.5,275.5h2M856.5,272.8h2M856.5,270.2h2M856.5,267.6h2M856.5,265.0h2M856.5,262.4h2M856.5,259.9h2M856.5,257.4h2M856.5,254.9h2M856.5,252.5h2M856.5,250.1h2M856.5,247.7h2M856.5,245.3h2M856.5,243.0h2M856.5,240.7h2M856.5,238.4h2M856.5,236.1h2M856.5,233.9h2M856.5,231.6h2M856.5,229.4h2M856.5,227.2h2M856.5,225.1h2M856.5,222.9h2M856.5,220.8h2M856.5,218.7h2M856.5,216.6h2M856.5,214.6h2M856.5,212.5h2M856.5,210.5h2M856.5,208.5h2M856.5,206.5h2M856.5,204.5h2M856.5,202.6h2M856.5,200.6h2M856.5,198.7h2M856.5,196.8h2M856.5,194.9h2M856.5,193.0h2M856.5,191.2h2M856.5,189.3h2M856.5,187.5h2M856.5,185.7h2M856.5,183.9h2M856.5,182.1h2M856.5,180.3h2" stroke="#8a8a8a" stroke-width="0.8" fill="none"/>
<line x1="32" y1="175.7" x2="34.5" y2="175.7" stroke="#777" stroke-width="1"/>
<text x="16.8" y="178.4" font-family="Liberation Sans, sans-serif" font-size="9.2" fill="#1a1a1a" textLength="14.6" lengthAdjust="spacingAndGlyphs">4.6</text>
<line x1="32" y1="189.6" x2="34.5" y2="189.6" stroke="#777" stroke-width="1"/>
<text x="16.8" y="192.3" font-family="Liberation Sans, sans-serif" font-size="9.2" fill="#1a1a1a" textLength="14.6" lengthAdjust="spacingAndGlyphs">4.4</text>
<line x1="32" y1="204.2" x2="34.5" y2="204.2" stroke="#777" stroke-width="1"/>
<text x="16.8" y="206.9" font-family="Liberation Sans, sans-serif" font-size="9.2" fill="#1a1a1a" textLength="14.6" lengthAdjust="spacingAndGlyphs">4.2</text>
<line x1="32" y1="219.5" x2="34.5" y2="219.5" stroke="#777" stroke-width="1"/>
<text x="16.8" y="222.2" font-family="Liberation Sans, sans-serif" font-size="9.2" fill="#1a1a1a" textLength="14.6" lengthAdjust="spacingAndGlyphs">4.0</text>
<line x1="32" y1="235.6" x2="34.5" y2="235.6" stroke="#777" stroke-width="1"/>
<text x="16.8" y="238.3" font-family="Liberation Sans, sans-serif" font-size="9.2" fill="#1a1a1a" textLength="14.6" lengthAdjust="spacingAndGlyphs">3.8</text>
<line x1="32" y1="252.5" x2="34.5" y2="252.5" stroke="#777" stroke-width="1"/>
<text x="16.8" y="255.2" font-family="Liberation Sans, sans-serif" font-size="9.2" fill="#1a1a1a" textLength="14.6" lengthAdjust="spacingAndGlyphs">3.6</text>
<line x1="32" y1="270.4" x2="34.5" y2="270.4" stroke="#777" stroke-width="1"/>
<text x="16.8" y="273.1" font-family="Liberation Sans, sans-serif" font-size="9.2" fill="#1a1a1a" textLength="14.6" lengthAdjust="spacingAndGlyphs">3.4</text>
<line x1="32" y1="289.4" x2="34.5" y2="289.4" stroke="#777" stroke-width="1"/>
<text x="16.8" y="292.1" font-family="Liberation Sans, sans-serif" font-size="9.2" fill="#1a1a1a" textLength="14.6" lengthAdjust="spacingAndGlyphs">3.2</text>
<line x1="32" y1="309.6" x2="34.5" y2="309.6" stroke="#777" stroke-width="1"/>
<text x="16.8" y="312.3" font-family="Liberation Sans, sans-serif" font-size="9.2" fill="#1a1a1a" textLength="14.6" lengthAdjust="spacingAndGlyphs">3.0</text>
<line x1="32" y1="331.2" x2="34.5" y2="331.2" stroke="#777" stroke-width="1"/>
<text x="16.8" y="333.9" font-family="Liberation Sans, sans-serif" font-size="9.2" fill="#1a1a1a" textLength="14.6" lengthAdjust="spacingAndGlyphs">2.8</text>
<line x1="32" y1="354.5" x2="34.5" y2="354.5" stroke="#777" stroke-width="1"/>
<text x="16.8" y="357.2" font-family="Liberation Sans, sans-serif" font-size="9.2" fill="#1a1a1a" textLength="14.6" lengthAdjust="spacingAndGlyphs">2.6</text>
<line x1="32" y1="379.5" x2="34.5" y2="379.5" stroke="#777" stroke-width="1"/>
<text x="16.8" y="382.2" font-family="Liberation Sans, sans-serif" font-size="9.2" fill="#1a1a1a" textLength="14.6" lengthAdjust="spacingAndGlyphs">2.4</text>
<line x1="32" y1="406.8" x2="34.5" y2="406.8" stroke="#777" stroke-width="1"/>
<text x="16.8" y="409.5" font-family="Liberation Sans, sans-serif" font-size="9.2" fill="#1a1a1a" textLength="14.6" lengthAdjust="spacingAndGlyphs">2.2</text>
<line x1="32" y1="436.7" x2="34.5" y2="436.7" stroke="#777" stroke-width="1"/>
<text x="16.8" y="439.4" font-family="Liberation Sans, sans-serif" font-size="9.2" fill="#1a1a1a" textLength="14.6" lengthAdjust="spacingAndGlyphs">2.0</text>
<line x1="32" y1="469.7" x2="34.5" y2="469.7" stroke="#777" stroke-width="1"/>
<text x="16.8" y="472.4" font-family="Liberation Sans, sans-serif" font-size="9.2" fill="#1a1a1a" textLength="14.6" lengthAdjust="spacingAndGlyphs">1.8</text>
<line x1="32" y1="506.6" x2="34.5" y2="506.6" stroke="#777" stroke-width="1"/>
<text x="16.8" y="509.3" font-family="Liberation Sans, sans-serif" font-size="9.2" fill="#1a1a1a" textLength="14.6" lengthAdjust="spacingAndGlyphs">1.6</text>
<line x1="32" y1="548.4" x2="34.5" y2="548.4" stroke="#777" stroke-width="1"/>
<text x="16.8" y="551.1" font-family="Liberation Sans, sans-serif" font-size="9.2" fill="#1a1a1a" textLength="14.6" lengthAdjust="spacingAndGlyphs">1.4</text>
<text x="74.9" y="587.9" font-family="Liberation Sans, sans-serif" font-size="10" fill="#1a1a1a" textLength="22.4" lengthAdjust="spacingAndGlyphs">2007</text>
<line x1="87.5" y1="588" x2="87.5" y2="591.5" stroke="#aaa" stroke-width="1"/>
<text x="74.9" y="743.8" font-family="Liberation Sans, sans-serif" font-size="10" fill="#1a1a1a" textLength="22.4" lengthAdjust="spacingAndGlyphs">2007</text>
<line x1="87.5" y1="577.5" x2="87.5" y2="580.5" stroke="#999" stroke-width="1"/>
<line x1="87.5" y1="733.3" x2="87.5" y2="736.3" stroke="#999" stroke-width="1"/>
<text x="129.9" y="587.9" font-family="Liberation Sans, sans-serif" font-size="10" fill="#1a1a1a" textLength="22.4" lengthAdjust="spacingAndGlyphs">2008</text>
<line x1="142.5" y1="588" x2="142.5" y2="591.5" stroke="#aaa" stroke-width="1"/>
<text x="129.9" y="743.8" font-family="Liberation Sans, sans-serif" font-size="10" fill="#1a1a1a" textLength="22.4" lengthAdjust="spacingAndGlyphs">2008</text>
<line x1="142.5" y1="577.5" x2="142.5" y2="580.5" stroke="#999" stroke-width="1"/>
<line x1="142.5" y1="733.3" x2="142.5" y2="736.3" stroke="#999" stroke-width="1"/>
<text x="184.9" y="587.9" font-family="Liberation Sans, sans-serif" font-size="10" fill="#1a1a1a" textLength="22.4" lengthAdjust="spacingAndGlyphs">2009</text>
<line x1="197.5" y1="588" x2="197.5" y2="591.5" stroke="#aaa" stroke-width="1"/>
<text x="184.9" y="743.8" font-family="Liberation Sans, sans-serif" font-size="10" fill="#1a1a1a" textLength="22.4" lengthAdjust="spacingAndGlyphs">2009</text>
<line x1="197.5" y1="577.5" x2="197.5" y2="580.5" stroke="#999" stroke-width="1"/>
<line x1="197.5" y1="733.3" x2="197.5" y2="736.3" stroke="#999" stroke-width="1"/>
<text x="238.9" y="587.9" font-family="Liberation Sans, sans-serif" font-size="10" fill="#1a1a1a" textLength="22.4" lengthAdjust="spacingAndGlyphs">2010</text>
<line x1="251.5" y1="588" x2="251.5" y2="591.5" stroke="#aaa" stroke-width="1"/>
<text x="238.9" y="743.8" font-family="Liberation Sans, sans-serif" font-size="10" fill="#1a1a1a" textLength="22.4" lengthAdjust="spacingAndGlyphs">2010</text>
<line x1="251.5" y1="577.5" x2="251.5" y2="580.5" stroke="#999" stroke-width="1"/>
<line x1="251.5" y1="733.3" x2="251.5" y2="736.3" stroke="#999" stroke-width="1"/>
<text x="292.9" y="587.9" font-family="Liberation Sans, sans-serif" font-size="10" fill="#1a1a1a" textLength="22.4" lengthAdjust="spacingAndGlyphs">2011</text>
<line x1="305.5" y1="588" x2="305.5" y2="591.5" stroke="#aaa" stroke-width="1"/>
<text x="292.9" y="743.8" font-family="Liberation Sans, sans-serif" font-size="10" fill="#1a1a1a" textLength="22.4" lengthAdjust="spacingAndGlyphs">2011</text>
<line x1="305.5" y1="577.5" x2="305.5" y2="580.5" stroke="#999" stroke-width="1"/>
<line x1="305.5" y1="733.3" x2="305.5" y2="736.3" stroke="#999" stroke-width="1"/>
<text x="346.9" y="587.9" font-family="Liberation Sans, sans-serif" font-size="10" fill="#1a1a1a" textLength="22.4" lengthAdjust="spacingAndGlyphs">2012</text>
<line x1="359.5" y1="588" x2="359.5" y2="591.5" stroke="#aaa" stroke-width="1"/>
<text x="346.9" y="743.8" font-family="Liberation Sans, sans-serif" font-size="10" fill="#1a1a1a" textLength="22.4" lengthAdjust="spacingAndGlyphs">2012</text>
<line x1="359.5" y1="577.5" x2="359.5" y2="580.5" stroke="#999" stroke-width="1"/>
<line x1="359.5" y1="733.3" x2="359.5" y2="736.3" stroke="#999" stroke-width="1"/>
<text x="400.9" y="587.9" font-family="Liberation Sans, sans-serif" font-size="10" fill="#1a1a1a" textLength="22.4" lengthAdjust="spacingAndGlyphs">2013</text>
<line x1="413.5" y1="588" x2="413.5" y2="591.5" stroke="#aaa" stroke-width="1"/>
<text x="400.9" y="743.8" font-family="Liberation Sans, sans-serif" font-size="10" fill="#1a1a1a" textLength="22.4" lengthAdjust="spacingAndGlyphs">2013</text>
<line x1="413.5" y1="577.5" x2="413.5" y2="580.5" stroke="#999" stroke-width="1"/>
<line x1="413.5" y1="733.3" x2="413.5" y2="736.3" stroke="#999" stroke-width="1"/>
<text x="455.9" y="587.9" font-family="Liberation Sans, sans-serif" font-size="10" fill="#1a1a1a" textLength="22.4" lengthAdjust="spacingAndGlyphs">2014</text>
<line x1="468.5" y1="588" x2="468.5" y2="591.5" stroke="#aaa" stroke-width="1"/>
<text x="455.9" y="743.8" font-family="Liberation Sans, sans-serif" font-size="10" fill="#1a1a1a" textLength="22.4" lengthAdjust="spacingAndGlyphs">2014</text>
<line x1="468.5" y1="577.5" x2="468.5" y2="580.5" stroke="#999" stroke-width="1"/>
<line x1="468.5" y1="733.3" x2="468.5" y2="736.3" stroke="#999" stroke-width="1"/>
<text x="510.9" y="587.9" font-family="Liberation Sans, sans-serif" font-size="10" fill="#1a1a1a" textLength="22.4" lengthAdjust="spacingAndGlyphs">2015</text>
<line x1="523.5" y1="588" x2="523.5" y2="591.5" stroke="#aaa" stroke-width="1"/>
<text x="510.9" y="743.8" font-family="Liberation Sans, sans-serif" font-size="10" fill="#1a1a1a" textLength="22.4" lengthAdjust="spacingAndGlyphs">2015</text>
<line x1="523.5" y1="577.5" x2="523.5" y2="580.5" stroke="#999" stroke-width="1"/>
<line x1="523.5" y1="733.3" x2="523.5" y2="736.3" stroke="#999" stroke-width="1"/>
<text x="564.9" y="587.9" font-family="Liberation Sans, sans-serif" font-size="10" fill="#1a1a1a" textLength="22.4" lengthAdjust="spacingAndGlyphs">2016</text>
<line x1="577.5" y1="588" x2="577.5" y2="591.5" stroke="#aaa" stroke-width="1"/>
<text x="564.9" y="743.8" font-family="Liberation Sans, sans-serif" font-size="10" fill="#1a1a1a" textLength="22.4" lengthAdjust="spacingAndGlyphs">2016</text>
<line x1="577.5" y1="577.5" x2="577.5" y2="580.5" stroke="#999" stroke-width="1"/>
<line x1="577.5" y1="733.3" x2="577.5" y2="736.3" stroke="#999" stroke-width="1"/>
<text x="618.9" y="587.9" font-family="Liberation Sans, sans-serif" font-size="10" fill="#1a1a1a" textLength="22.4" lengthAdjust="spacingAndGlyphs">2017</text>
<line x1="631.5" y1="588" x2="631.5" y2="591.5" stroke="#aaa" stroke-width="1"/>
<text x="618.9" y="743.8" font-family="Liberation Sans, sans-serif" font-size="10" fill="#1a1a1a" textLength="22.4" lengthAdjust="spacingAndGlyphs">2017</text>
<line x1="631.5" y1="577.5" x2="631.5" y2="580.5" stroke="#999" stroke-width="1"/>
<line x1="631.5" y1="733.3" x2="631.5" y2="736.3" stroke="#999" stroke-width="1"/>
<text x="672.9" y="587.9" font-family="Liberation Sans, sans-serif" font-size="10" fill="#1a1a1a" textLength="22.4" lengthAdjust="spacingAndGlyphs">2018</text>
<line x1="685.5" y1="588" x2="685.5" y2="591.5" stroke="#aaa" stroke-width="1"/>
<text x="672.9" y="743.8" font-family="Liberation Sans, sans-serif" font-size="10" fill="#1a1a1a" textLength="22.4" lengthAdjust="spacingAndGlyphs">2018</text>
<line x1="685.5" y1="577.5" x2="685.5" y2="580.5" stroke="#999" stroke-width="1"/>
<line x1="685.5" y1="733.3" x2="685.5" y2="736.3" stroke="#999" stroke-width="1"/>
<text x="727.9" y="587.9" font-family="Liberation Sans, sans-serif" font-size="10" fill="#1a1a1a" textLength="22.4" lengthAdjust="spacingAndGlyphs">2019</text>
<line x1="740.5" y1="588" x2="740.5" y2="591.5" stroke="#aaa" stroke-width="1"/>
<text x="727.9" y="743.8" font-family="Liberation Sans, sans-serif" font-size="10" fill="#1a1a1a" textLength="22.4" lengthAdjust="spacingAndGlyphs">2019</text>
<line x1="740.5" y1="577.5" x2="740.5" y2="580.5" stroke="#999" stroke-width="1"/>
<line x1="740.5" y1="733.3" x2="740.5" y2="736.3" stroke="#999" stroke-width="1"/>
<text x="780.9" y="587.9" font-family="Liberation Sans, sans-serif" font-size="10" fill="#1a1a1a" textLength="22.4" lengthAdjust="spacingAndGlyphs">2020</text>
<line x1="793.5" y1="588" x2="793.5" y2="591.5" stroke="#aaa" stroke-width="1"/>
<text x="780.9" y="743.8" font-family="Liberation Sans, sans-serif" font-size="10" fill="#1a1a1a" textLength="22.4" lengthAdjust="spacingAndGlyphs">2020</text>
<line x1="793.5" y1="577.5" x2="793.5" y2="580.5" stroke="#999" stroke-width="1"/>
<line x1="793.5" y1="733.3" x2="793.5" y2="736.3" stroke="#999" stroke-width="1"/>
<text x="832.9" y="587.9" font-family="Liberation Sans, sans-serif" font-size="10" fill="#1a1a1a" textLength="22.4" lengthAdjust="spacingAndGlyphs">2021</text>
<line x1="845.5" y1="588" x2="845.5" y2="591.5" stroke="#aaa" stroke-width="1"/>
<text x="832.9" y="743.8" font-family="Liberation Sans, sans-serif" font-size="10" fill="#1a1a1a" textLength="22.4" lengthAdjust="spacingAndGlyphs">2021</text>
<line x1="845.5" y1="577.5" x2="845.5" y2="580.5" stroke="#999" stroke-width="1"/>
<line x1="845.5" y1="733.3" x2="845.5" y2="736.3" stroke="#999" stroke-width="1"/>
<text x="34" y="14.6" font-family="Liberation Sans, sans-serif" font-weight="bold" font-size="14" fill="#273142" textLength="41.5" lengthAdjust="spacingAndGlyphs">$SSEC</text>
<text x="79.7" y="14.2" font-family="Liberation Sans, sans-serif" font-size="11.2" fill="#111" textLength="238.8" lengthAdjust="spacingAndGlyphs">Shanghai Stock Exchange Composite Index (EOD)</text>
<text x="323" y="14.2" font-family="Liberation Sans, sans-serif" font-size="9" fill="#333" textLength="20" lengthAdjust="spacingAndGlyphs">SSE</text>
<text x="34.5" y="25.8" font-family="Liberation Sans, sans-serif" font-size="9.5" fill="#111" textLength="57" lengthAdjust="spacingAndGlyphs">14-Jan-2021</text>
<text x="766.7" y="14" font-family="Liberation Sans, sans-serif" font-size="10.5" fill="#7c7c7c" textLength="89.2" lengthAdjust="spacingAndGlyphs">© StockCharts.com</text>
<text x="454.0" y="25.7" font-family="Liberation Sans, sans-serif" font-size="10.5" font-weight="bold" fill="#1c2a48" textLength="28.0" lengthAdjust="spacingAndGlyphs">Open</text>
<text x="485.2" y="25.7" font-family="Liberation Sans, sans-serif" font-size="10.5" fill="#111" textLength="39.2" lengthAdjust="spacingAndGlyphs">3571.32</text>
<text x="530.5" y="25.7" font-family="Liberation Sans, sans-serif" font-size="10.5" font-weight="bold" fill="#1c2a48" textLength="23.2" lengthAdjust="spacingAndGlyphs">High</text>
<text x="557.4" y="25.7" font-family="Liberation Sans, sans-serif" font-size="10.5" fill="#111" textLength="38.6" lengthAdjust="spacingAndGlyphs">3622.35</text>
<text x="602.9" y="25.7" font-family="Liberation Sans, sans-serif" font-size="10.5" font-weight="bold" fill="#1c2a48" textLength="23.0" lengthAdjust="spacingAndGlyphs">Low</text>
<text x="629.7" y="25.7" font-family="Liberation Sans, sans-serif" font-size="10.5" fill="#111" textLength="38.7" lengthAdjust="spacingAndGlyphs">3516.99</text>
<text x="675.0" y="25.7" font-family="Liberation Sans, sans-serif" font-size="10.5" font-weight="bold" fill="#1c2a48" textLength="30.7" lengthAdjust="spacingAndGlyphs">Close</text>
<text x="709.5" y="25.7" font-family="Liberation Sans, sans-serif" font-size="10.5" fill="#111" textLength="38.9" lengthAdjust="spacingAndGlyphs">3565.90</text>
<text x="755.1" y="25.7" font-family="Liberation Sans, sans-serif" font-size="10.5" font-weight="bold" fill="#1c2a48" textLength="20.8" lengthAdjust="spacingAndGlyphs">Chg</text>
<text x="780.0" y="25.7" font-family="Liberation Sans, sans-serif" font-size="10.5" fill="#111" textLength="23.2" lengthAdjust="spacingAndGlyphs">-4.21</text>
<text x="806.5" y="25.7" font-family="Liberation Sans, sans-serif" font-size="10.5" fill="#111" textLength="39.5" lengthAdjust="spacingAndGlyphs">(-0.12%)</text>
<path d="M849,21 L856,21 L852.5,25 Z" fill="#7a1424"/>
</svg></body></html>
